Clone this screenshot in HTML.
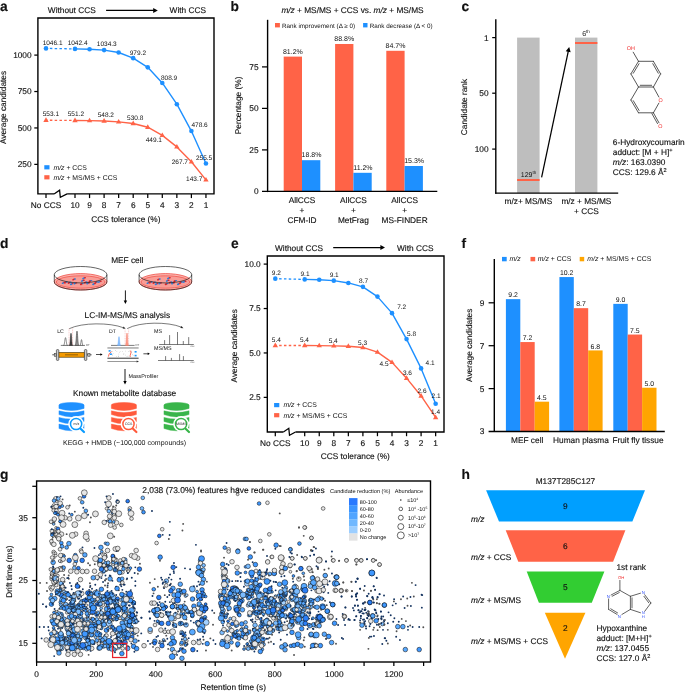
<!DOCTYPE html>
<html lang="en">
<head>
<meta charset="utf-8">
<title>Figure: CCS-assisted metabolite annotation</title>
<style>
html,body{margin:0;padding:0;background:#fff;}
body{width:685px;height:692px;overflow:hidden;}
svg{display:block;font-family:"Liberation Sans",Arial,Helvetica,sans-serif;fill:#111;}
svg text{white-space:pre;text-rendering:geometricPrecision;stroke:#111;stroke-width:0.14px;stroke-linejoin:round;}
svg text[fill],svg text.sm{stroke:none;}
</style>
</head>
<body>
<svg width="685" height="692" viewBox="0 0 685 692">
<rect x="0" y="0" width="685" height="692" fill="#fff"/>
<text x="0" y="10.6" font-size="13.8" font-weight="bold">a</text><line x1="46" y1="48.38" x2="75" y2="48.92" stroke="#1E90FF" stroke-width="1.3" stroke-dasharray="2.5 2.3" stroke-dashoffset="0.95"/>
<polyline points="75,48.92 89.55,49.27 104.1,50.1 118.65,52.48 133.2,58.13 147.75,67.34 162.3,82.94 176.85,104.2 191.4,131.07 205.95,163.57" fill="none" stroke="#1E90FF" stroke-width="1.4" stroke-linejoin="round"/>
<circle cx="46" cy="48.38" r="2.3" fill="#1E90FF"/>
<circle cx="75" cy="48.92" r="2.3" fill="#1E90FF"/>
<circle cx="89.55" cy="49.27" r="2.3" fill="#1E90FF"/>
<circle cx="104.1" cy="50.1" r="2.3" fill="#1E90FF"/>
<circle cx="118.65" cy="52.48" r="2.3" fill="#1E90FF"/>
<circle cx="133.2" cy="58.13" r="2.3" fill="#1E90FF"/>
<circle cx="147.75" cy="67.34" r="2.3" fill="#1E90FF"/>
<circle cx="162.3" cy="82.94" r="2.3" fill="#1E90FF"/>
<circle cx="176.85" cy="104.2" r="2.3" fill="#1E90FF"/>
<circle cx="191.4" cy="131.07" r="2.3" fill="#1E90FF"/>
<circle cx="205.95" cy="163.57" r="2.3" fill="#1E90FF"/>
<line x1="46" y1="120.21" x2="75" y2="120.49" stroke="#FF6347" stroke-width="1.3" stroke-dasharray="2.5 2.3" stroke-dashoffset="0.95"/>
<polyline points="75,120.49 89.55,120.66 104.1,120.93 118.65,121.83 133.2,123.46 147.75,127.22 162.3,135.37 176.85,146.89 191.4,161.8 205.95,179.86" fill="none" stroke="#FF6347" stroke-width="1.4" stroke-linejoin="round"/>
<polygon points="46,117.31 43.3,121.91 48.7,121.91" fill="#FF6347"/>
<polygon points="75,117.59 72.3,122.19 77.7,122.19" fill="#FF6347"/>
<polygon points="89.55,117.76 86.85,122.36 92.25,122.36" fill="#FF6347"/>
<polygon points="104.1,118.03 101.4,122.63 106.8,122.63" fill="#FF6347"/>
<polygon points="118.65,118.93 115.95,123.53 121.35,123.53" fill="#FF6347"/>
<polygon points="133.2,120.56 130.5,125.16 135.9,125.16" fill="#FF6347"/>
<polygon points="147.75,124.32 145.05,128.92 150.45,128.92" fill="#FF6347"/>
<polygon points="162.3,132.47 159.6,137.07 165,137.07" fill="#FF6347"/>
<polygon points="176.85,143.99 174.15,148.59 179.55,148.59" fill="#FF6347"/>
<polygon points="191.4,158.9 188.7,163.5 194.1,163.5" fill="#FF6347"/>
<polygon points="205.95,176.96 203.25,181.56 208.65,181.56" fill="#FF6347"/>
<path d="M37.3 193.9 H54.1 M67.1 193.9 H214 V18 H37.9 V194.5" fill="none" stroke="#000" stroke-width="1.4" stroke-linejoin="miter"/>
<path d="M54.1 193.9 L59.6 190.2 L60.3 197.2 L67.1 193.9" fill="none" stroke="#000" stroke-width="1.25" stroke-linejoin="miter"/>
<line x1="34.3" y1="55.1" x2="37.9" y2="55.1" stroke="#000" stroke-width="1.25"/>
<text x="31.6" y="58.05" font-size="8.3" text-anchor="end">1000</text>
<line x1="34.3" y1="91.53" x2="37.9" y2="91.53" stroke="#000" stroke-width="1.25"/>
<text x="31.6" y="94.48" font-size="8.3" text-anchor="end">750</text>
<line x1="34.3" y1="127.95" x2="37.9" y2="127.95" stroke="#000" stroke-width="1.25"/>
<text x="31.6" y="130.9" font-size="8.3" text-anchor="end">500</text>
<line x1="34.3" y1="164.38" x2="37.9" y2="164.38" stroke="#000" stroke-width="1.25"/>
<text x="31.6" y="167.32" font-size="8.3" text-anchor="end">250</text>
<line x1="46" y1="193.9" x2="46" y2="198.1" stroke="#000" stroke-width="1.25"/>
<text x="46" y="207.7" font-size="8.3" text-anchor="middle">No CCS</text>
<line x1="75" y1="193.9" x2="75" y2="198.1" stroke="#000" stroke-width="1.25"/>
<text x="75" y="207.7" font-size="8.3" text-anchor="middle">10</text>
<line x1="89.55" y1="193.9" x2="89.55" y2="198.1" stroke="#000" stroke-width="1.25"/>
<text x="89.55" y="207.7" font-size="8.3" text-anchor="middle">9</text>
<line x1="104.1" y1="193.9" x2="104.1" y2="198.1" stroke="#000" stroke-width="1.25"/>
<text x="104.1" y="207.7" font-size="8.3" text-anchor="middle">8</text>
<line x1="118.65" y1="193.9" x2="118.65" y2="198.1" stroke="#000" stroke-width="1.25"/>
<text x="118.65" y="207.7" font-size="8.3" text-anchor="middle">7</text>
<line x1="133.2" y1="193.9" x2="133.2" y2="198.1" stroke="#000" stroke-width="1.25"/>
<text x="133.2" y="207.7" font-size="8.3" text-anchor="middle">6</text>
<line x1="147.75" y1="193.9" x2="147.75" y2="198.1" stroke="#000" stroke-width="1.25"/>
<text x="147.75" y="207.7" font-size="8.3" text-anchor="middle">5</text>
<line x1="162.3" y1="193.9" x2="162.3" y2="198.1" stroke="#000" stroke-width="1.25"/>
<text x="162.3" y="207.7" font-size="8.3" text-anchor="middle">4</text>
<line x1="176.85" y1="193.9" x2="176.85" y2="198.1" stroke="#000" stroke-width="1.25"/>
<text x="176.85" y="207.7" font-size="8.3" text-anchor="middle">3</text>
<line x1="191.4" y1="193.9" x2="191.4" y2="198.1" stroke="#000" stroke-width="1.25"/>
<text x="191.4" y="207.7" font-size="8.3" text-anchor="middle">2</text>
<line x1="205.95" y1="193.9" x2="205.95" y2="198.1" stroke="#000" stroke-width="1.25"/>
<text x="205.95" y="207.7" font-size="8.3" text-anchor="middle">1</text>
<text x="52.6" y="44.5" font-size="6.5" text-anchor="middle" class="sm">1046.1</text>
<text x="77.6" y="45" font-size="6.5" text-anchor="middle" class="sm">1042.4</text>
<text x="106.8" y="45.8" font-size="6.5" text-anchor="middle" class="sm">1034.3</text>
<text x="137.9" y="55.4" font-size="6.5" text-anchor="middle" class="sm">979.2</text>
<text x="169.1" y="80.1" font-size="6.5" text-anchor="middle" class="sm">808.9</text>
<text x="199.6" y="126.8" font-size="6.5" text-anchor="middle" class="sm">478.6</text>
<text x="204.1" y="160" font-size="6.5" text-anchor="middle" class="sm">255.5</text>
<text x="50.9" y="115.8" font-size="6.5" text-anchor="middle" class="sm">553.1</text>
<text x="75.9" y="115.8" font-size="6.5" text-anchor="middle" class="sm">551.2</text>
<text x="105.8" y="116.9" font-size="6.5" text-anchor="middle" class="sm">548.2</text>
<text x="135.2" y="120.3" font-size="6.5" text-anchor="middle" class="sm">530.8</text>
<text x="153.8" y="141.9" font-size="6.5" text-anchor="middle" class="sm">449.1</text>
<text x="179.8" y="163.7" font-size="6.5" text-anchor="middle" class="sm">267.7</text>
<text x="194.2" y="180.8" font-size="6.5" text-anchor="middle" class="sm">143.7</text>
<text x="47.8" y="13.1" font-size="8.3">Without CCS</text>
<text x="169.6" y="13.1" font-size="8.3">With CCS</text>
<line x1="106.1" y1="10.4" x2="155.04" y2="10.4" stroke="#000" stroke-width="1.1"/><polygon points="157.8,10.4 153.2,7.9 153.2,12.9" fill="#000"/>
<rect x="44.3" y="165.2" width="5.2" height="4.2" fill="#1E90FF"/>
<text x="53.4" y="169.6" font-size="6.9" class="sm"><tspan font-style="italic">m/z</tspan> + CCS</text>
<rect x="44.3" y="175.2" width="5.2" height="4.2" fill="#FF6347"/>
<text x="53.4" y="179.6" font-size="6.9" class="sm"><tspan font-style="italic">m/z</tspan> + MS/MS + CCS</text>
<text x="125.9" y="221.6" font-size="8.3" text-anchor="middle">CCS tolerance (%)</text>
<text x="6.3" y="107.5" font-size="8.3" text-anchor="middle" transform="rotate(-90 6.3 107.5)">Average candidates</text>
<text x="230.5" y="10.6" font-size="13.8" font-weight="bold">b</text>
<rect x="283.7" y="56.61" width="18.3" height="134.79" fill="#FF6347"/>
<rect x="302" y="160.19" width="18.3" height="31.21" fill="#1E90FF"/>
<text x="292.85" y="53.81" font-size="7" text-anchor="middle" class="sm">81.2%</text>
<text x="311.55" y="157.39" font-size="7" text-anchor="middle" class="sm">18.8%</text>
<text x="302" y="202.9" font-size="8.3" text-anchor="middle">AllCCS</text>
<text x="302" y="213" font-size="8.3" text-anchor="middle">+</text>
<text x="302" y="223" font-size="8.3" text-anchor="middle">CFM-ID</text>
<rect x="335.1" y="43.99" width="18.3" height="147.41" fill="#FF6347"/>
<rect x="353.4" y="172.81" width="18.3" height="18.59" fill="#1E90FF"/>
<text x="344.25" y="41.19" font-size="7" text-anchor="middle" class="sm">88.8%</text>
<text x="362.95" y="170.01" font-size="7" text-anchor="middle" class="sm">11.2%</text>
<text x="353.4" y="202.9" font-size="8.3" text-anchor="middle">AllCCS</text>
<text x="353.4" y="213" font-size="8.3" text-anchor="middle">+</text>
<text x="353.4" y="223" font-size="8.3" text-anchor="middle">MetFrag</text>
<rect x="386.3" y="50.8" width="18.3" height="140.6" fill="#FF6347"/>
<rect x="404.6" y="166" width="18.3" height="25.4" fill="#1E90FF"/>
<text x="395.45" y="48" font-size="7" text-anchor="middle" class="sm">84.7%</text>
<text x="414.15" y="163.2" font-size="7" text-anchor="middle" class="sm">15.3%</text>
<text x="404.6" y="202.9" font-size="8.3" text-anchor="middle">AllCCS</text>
<text x="404.6" y="213" font-size="8.3" text-anchor="middle">+</text>
<text x="404.6" y="223" font-size="8.3" text-anchor="middle">MS-FINDER</text>
<line x1="267.6" y1="19.8" x2="267.6" y2="192.1" stroke="#000" stroke-width="1.4"/>
<line x1="262" y1="191.4" x2="437.3" y2="191.4" stroke="#000" stroke-width="1.4"/>
<line x1="262" y1="149.9" x2="267.6" y2="149.9" stroke="#000" stroke-width="1.25"/>
<line x1="262" y1="108.4" x2="267.6" y2="108.4" stroke="#000" stroke-width="1.25"/>
<line x1="262" y1="66.9" x2="267.6" y2="66.9" stroke="#000" stroke-width="1.25"/>
<text x="258.6" y="194.35" font-size="8.3" text-anchor="end">0</text>
<text x="258.6" y="152.85" font-size="8.3" text-anchor="end">25</text>
<text x="258.6" y="111.35" font-size="8.3" text-anchor="end">50</text>
<text x="258.6" y="69.85" font-size="8.3" text-anchor="end">75</text>
<text x="352.5" y="13.4" font-size="8.3" text-anchor="middle"><tspan font-style="italic">m/z</tspan> + MS/MS + CCS vs. <tspan font-style="italic">m/z</tspan> + MS/MS</text>
<rect x="275" y="23" width="4.9" height="4.4" fill="#FF6347"/>
<text x="282" y="27.6" font-size="6.3" class="sm">Rank improvement (Δ ≥ 0)</text>
<rect x="363.1" y="23" width="4.4" height="4.4" fill="#1E90FF"/>
<text x="369.8" y="27.6" font-size="6.3" class="sm">Rank decrease (Δ &lt; 0)</text>
<text x="241" y="105.4" font-size="8.3" text-anchor="middle" transform="rotate(-90 241 105.4)">Percentage (%)</text>
<text x="461.5" y="10.6" font-size="13.8" font-weight="bold">c</text>
<rect x="517.1" y="37.6" width="22.5" height="155.5" fill="#BEBEBE"/>
<rect x="575" y="37.6" width="22.4" height="155.5" fill="#BEBEBE"/>
<rect x="517.1" y="179" width="22.5" height="2" fill="#FF6347"/>
<rect x="575" y="42" width="22.4" height="2" fill="#FF6347"/>
<line x1="495.8" y1="19.3" x2="495.8" y2="193.8" stroke="#000" stroke-width="1.4"/>
<line x1="495.2" y1="193.1" x2="618.2" y2="193.1" stroke="#000" stroke-width="1.4"/>
<line x1="492.2" y1="37.6" x2="495.8" y2="37.6" stroke="#000" stroke-width="1.25"/>
<text x="488.6" y="40.55" font-size="8.3" text-anchor="end">1</text>
<line x1="492.2" y1="93.2" x2="495.8" y2="93.2" stroke="#000" stroke-width="1.25"/>
<text x="488.6" y="96.15" font-size="8.3" text-anchor="end">50</text>
<line x1="492.2" y1="149.1" x2="495.8" y2="149.1" stroke="#000" stroke-width="1.25"/>
<text x="488.6" y="152.05" font-size="8.3" text-anchor="end">100</text>
<text x="467" y="107" font-size="8.3" text-anchor="middle" transform="rotate(-90 467 107)">Candidate rank</text>
<text x="528.4" y="204" font-size="8.3" text-anchor="middle">m/z+ MS/MS</text>
<text x="586.4" y="204" font-size="8.3" text-anchor="middle">m/z + MS/MS</text>
<text x="586.4" y="214" font-size="8.3" text-anchor="middle">+ CCS</text>
<text x="528.6" y="176.8" font-size="7" text-anchor="middle" class="sm">129<tspan font-size="4.6" dy="-2.8">th</tspan></text>
<text x="586" y="36.1" font-size="7" text-anchor="middle" class="sm">6<tspan font-size="4.6" dy="-2.8">th</tspan></text>
<line x1="541.6" y1="177.3" x2="568.58" y2="49.93" stroke="#000" stroke-width="1.25"/>
<polygon points="569.2,47 570.65,52.21 565.76,51.18" fill="#000"/>
<line x1="638.5" y1="61.3" x2="653.4" y2="61.3" stroke="#3a3a3a" stroke-width="0.85" stroke-linecap="round"/>
<line x1="653.4" y1="61.3" x2="660.6" y2="73.9" stroke="#3a3a3a" stroke-width="0.85" stroke-linecap="round"/>
<line x1="660.6" y1="73.9" x2="653.4" y2="87" stroke="#3a3a3a" stroke-width="0.85" stroke-linecap="round"/>
<line x1="653.4" y1="87" x2="638.5" y2="87" stroke="#3a3a3a" stroke-width="0.85" stroke-linecap="round"/>
<line x1="638.5" y1="87" x2="630.9" y2="73.9" stroke="#3a3a3a" stroke-width="0.85" stroke-linecap="round"/>
<line x1="630.9" y1="73.9" x2="638.5" y2="61.3" stroke="#3a3a3a" stroke-width="0.85" stroke-linecap="round"/>
<line x1="638.5" y1="87" x2="630.9" y2="100" stroke="#3a3a3a" stroke-width="0.85" stroke-linecap="round"/>
<line x1="630.9" y1="100" x2="638.5" y2="112.8" stroke="#3a3a3a" stroke-width="0.85" stroke-linecap="round"/>
<line x1="638.5" y1="112.8" x2="653.4" y2="112.8" stroke="#3a3a3a" stroke-width="0.85" stroke-linecap="round"/>
<line x1="653.4" y1="87" x2="658.9" y2="97" stroke="#3a3a3a" stroke-width="0.85" stroke-linecap="round"/>
<line x1="658.9" y1="103.1" x2="653.4" y2="112.8" stroke="#3a3a3a" stroke-width="0.85" stroke-linecap="round"/>
<line x1="633.27" y1="73.27" x2="639.04" y2="63.69" stroke="#3a3a3a" stroke-width="0.85" stroke-linecap="round"/>
<line x1="652.79" y1="63.66" x2="658.26" y2="73.23" stroke="#3a3a3a" stroke-width="0.85" stroke-linecap="round"/>
<line x1="651.61" y1="85.3" x2="640.29" y2="85.3" stroke="#3a3a3a" stroke-width="0.85" stroke-linecap="round"/>
<line x1="633.27" y1="100.67" x2="639.05" y2="110.4" stroke="#3a3a3a" stroke-width="0.85" stroke-linecap="round"/>
<line x1="653.4" y1="112.8" x2="659" y2="122.8" stroke="#3a3a3a" stroke-width="0.85" stroke-linecap="round"/>
<line x1="651.9" y1="113.6" x2="657.5" y2="123.6" stroke="#3a3a3a" stroke-width="0.85" stroke-linecap="round"/>
<line x1="638.5" y1="61.3" x2="633.2" y2="52.2" stroke="#3a3a3a" stroke-width="0.85" stroke-linecap="round"/>
<text x="630.9" y="49.8" font-size="5.4" text-anchor="middle" fill="#F02A2A">OH</text>
<text x="660.7" y="102" font-size="5.4" text-anchor="middle" fill="#F02A2A">O</text>
<text x="660.3" y="127.9" font-size="5.4" text-anchor="middle" fill="#F02A2A">O</text>
<text x="612.8" y="144.9" font-size="8.3">6-Hydroxycoumarin</text>
<text x="612.8" y="155.3" font-size="8.3">adduct: [M + H]<tspan font-size="5.6" dy="-3.4">+</tspan></text>
<text x="612.8" y="165.4" font-size="8.3"><tspan font-style="italic">m/z</tspan>: 163.0390</text>
<text x="612.8" y="175.4" font-size="8.3">CCS: 129.6 Å<tspan font-size="5.6" dy="-3.4">2</tspan></text>
<text x="231" y="247.7" font-size="13.8" font-weight="bold">e</text><line x1="275.3" y1="278.67" x2="304.7" y2="279.38" stroke="#1E90FF" stroke-width="1.3" stroke-dasharray="2.5 2.3" stroke-dashoffset="0.95"/>
<polyline points="304.7,279.38 319.25,279.74 333.8,280.63 348.35,282.94 362.9,286.85 377.45,296.62 392,313.15 406.55,339.09 421.1,368.41 435.65,403.77" fill="none" stroke="#1E90FF" stroke-width="1.4" stroke-linejoin="round"/>
<circle cx="275.3" cy="278.67" r="2.3" fill="#1E90FF"/>
<circle cx="304.7" cy="279.38" r="2.3" fill="#1E90FF"/>
<circle cx="319.25" cy="279.74" r="2.3" fill="#1E90FF"/>
<circle cx="333.8" cy="280.63" r="2.3" fill="#1E90FF"/>
<circle cx="348.35" cy="282.94" r="2.3" fill="#1E90FF"/>
<circle cx="362.9" cy="286.85" r="2.3" fill="#1E90FF"/>
<circle cx="377.45" cy="296.62" r="2.3" fill="#1E90FF"/>
<circle cx="392" cy="313.15" r="2.3" fill="#1E90FF"/>
<circle cx="406.55" cy="339.09" r="2.3" fill="#1E90FF"/>
<circle cx="421.1" cy="368.41" r="2.3" fill="#1E90FF"/>
<circle cx="435.65" cy="403.77" r="2.3" fill="#1E90FF"/>
<line x1="275.3" y1="345.49" x2="304.7" y2="345.49" stroke="#FF6347" stroke-width="1.3" stroke-dasharray="2.5 2.3" stroke-dashoffset="0.95"/>
<polyline points="304.7,345.49 319.25,345.66 333.8,345.84 348.35,346.2 362.9,347.44 377.45,352.06 392,362.37 406.55,378.18 421.1,395.95 435.65,417.46" fill="none" stroke="#FF6347" stroke-width="1.4" stroke-linejoin="round"/>
<polygon points="275.3,342.59 272.6,347.19 278,347.19" fill="#FF6347"/>
<polygon points="304.7,342.59 302,347.19 307.4,347.19" fill="#FF6347"/>
<polygon points="319.25,342.76 316.55,347.36 321.95,347.36" fill="#FF6347"/>
<polygon points="333.8,342.94 331.1,347.54 336.5,347.54" fill="#FF6347"/>
<polygon points="348.35,343.3 345.65,347.9 351.05,347.9" fill="#FF6347"/>
<polygon points="362.9,344.54 360.2,349.14 365.6,349.14" fill="#FF6347"/>
<polygon points="377.45,349.16 374.75,353.76 380.15,353.76" fill="#FF6347"/>
<polygon points="392,359.47 389.3,364.07 394.7,364.07" fill="#FF6347"/>
<polygon points="406.55,375.28 403.85,379.88 409.25,379.88" fill="#FF6347"/>
<polygon points="421.1,393.05 418.4,397.65 423.8,397.65" fill="#FF6347"/>
<polygon points="435.65,414.56 432.95,419.16 438.35,419.16" fill="#FF6347"/>
<path d="M266.7 432 H283.4 M295.5 432 H444 V256 H267.3 V432.6" fill="none" stroke="#000" stroke-width="1.4" stroke-linejoin="miter"/>
<path d="M283.4 432 L288.8 428.3 L289.5 435.3 L295.5 432" fill="none" stroke="#000" stroke-width="1.25" stroke-linejoin="miter"/>
<line x1="263.7" y1="264.1" x2="267.3" y2="264.1" stroke="#000" stroke-width="1.25"/>
<text x="260.7" y="267.05" font-size="8.3" text-anchor="end">10.0</text>
<line x1="263.7" y1="308.53" x2="267.3" y2="308.53" stroke="#000" stroke-width="1.25"/>
<text x="260.7" y="311.48" font-size="8.3" text-anchor="end">7.5</text>
<line x1="263.7" y1="352.95" x2="267.3" y2="352.95" stroke="#000" stroke-width="1.25"/>
<text x="260.7" y="355.9" font-size="8.3" text-anchor="end">5.0</text>
<line x1="263.7" y1="397.38" x2="267.3" y2="397.38" stroke="#000" stroke-width="1.25"/>
<text x="260.7" y="400.32" font-size="8.3" text-anchor="end">2.5</text>
<line x1="275.3" y1="432" x2="275.3" y2="436.2" stroke="#000" stroke-width="1.25"/>
<text x="275.3" y="445.8" font-size="8.3" text-anchor="middle">No CCS</text>
<line x1="304.7" y1="432" x2="304.7" y2="436.2" stroke="#000" stroke-width="1.25"/>
<text x="304.7" y="445.8" font-size="8.3" text-anchor="middle">10</text>
<line x1="319.25" y1="432" x2="319.25" y2="436.2" stroke="#000" stroke-width="1.25"/>
<text x="319.25" y="445.8" font-size="8.3" text-anchor="middle">9</text>
<line x1="333.8" y1="432" x2="333.8" y2="436.2" stroke="#000" stroke-width="1.25"/>
<text x="333.8" y="445.8" font-size="8.3" text-anchor="middle">8</text>
<line x1="348.35" y1="432" x2="348.35" y2="436.2" stroke="#000" stroke-width="1.25"/>
<text x="348.35" y="445.8" font-size="8.3" text-anchor="middle">7</text>
<line x1="362.9" y1="432" x2="362.9" y2="436.2" stroke="#000" stroke-width="1.25"/>
<text x="362.9" y="445.8" font-size="8.3" text-anchor="middle">6</text>
<line x1="377.45" y1="432" x2="377.45" y2="436.2" stroke="#000" stroke-width="1.25"/>
<text x="377.45" y="445.8" font-size="8.3" text-anchor="middle">5</text>
<line x1="392" y1="432" x2="392" y2="436.2" stroke="#000" stroke-width="1.25"/>
<text x="392" y="445.8" font-size="8.3" text-anchor="middle">4</text>
<line x1="406.55" y1="432" x2="406.55" y2="436.2" stroke="#000" stroke-width="1.25"/>
<text x="406.55" y="445.8" font-size="8.3" text-anchor="middle">3</text>
<line x1="421.1" y1="432" x2="421.1" y2="436.2" stroke="#000" stroke-width="1.25"/>
<text x="421.1" y="445.8" font-size="8.3" text-anchor="middle">2</text>
<line x1="435.65" y1="432" x2="435.65" y2="436.2" stroke="#000" stroke-width="1.25"/>
<text x="435.65" y="445.8" font-size="8.3" text-anchor="middle">1</text>
<text x="276.3" y="275.3" font-size="6.5" text-anchor="middle" class="sm">9.2</text>
<text x="305" y="275.7" font-size="6.5" text-anchor="middle" class="sm">9.1</text>
<text x="334.2" y="277" font-size="6.5" text-anchor="middle" class="sm">9.1</text>
<text x="276.3" y="342" font-size="6.5" text-anchor="middle" class="sm">5.4</text>
<text x="304.4" y="342" font-size="6.5" text-anchor="middle" class="sm">5.4</text>
<text x="333.2" y="342.5" font-size="6.5" text-anchor="middle" class="sm">5.4</text>
<text x="363.6" y="282.9" font-size="6.5" text-anchor="middle" class="sm">8.7</text>
<text x="401.7" y="308.9" font-size="6.5" text-anchor="middle" class="sm">7.2</text>
<text x="411.5" y="336.3" font-size="6.5" text-anchor="middle" class="sm">5.8</text>
<text x="362.5" y="344.5" font-size="6.5" text-anchor="middle" class="sm">5.3</text>
<text x="384" y="366" font-size="6.5" text-anchor="middle" class="sm">4.5</text>
<text x="407.4" y="374.7" font-size="6.5" text-anchor="middle" class="sm">3.6</text>
<text x="422" y="392.5" font-size="6.5" text-anchor="middle" class="sm">2.6</text>
<text x="430.1" y="364.8" font-size="6.5" text-anchor="middle" class="sm">4.1</text>
<text x="436.1" y="397.9" font-size="6.5" text-anchor="middle" class="sm">2.1</text>
<text x="435.5" y="414.3" font-size="6.5" text-anchor="middle" class="sm">1.4</text>
<text x="275" y="250.5" font-size="8.3">Without CCS</text>
<text x="397" y="250.5" font-size="8.3">With CCS</text>
<line x1="333.2" y1="247.6" x2="382.24" y2="247.6" stroke="#000" stroke-width="1.1"/><polygon points="385,247.6 380.4,245.1 380.4,250.1" fill="#000"/>
<rect x="274.1" y="403" width="5.2" height="4.2" fill="#1E90FF"/>
<text x="283.4" y="407.4" font-size="6.9" class="sm"><tspan font-style="italic">m/z</tspan> + CCS</text>
<rect x="274.1" y="413.1" width="5.2" height="4.2" fill="#FF6347"/>
<text x="283.4" y="417.5" font-size="6.9" class="sm"><tspan font-style="italic">m/z</tspan> + MS/MS + CCS</text>
<text x="355.3" y="459" font-size="8.3" text-anchor="middle">CCS tolerance (%)</text>
<text x="236.6" y="345.8" font-size="8.3" text-anchor="middle" transform="rotate(-90 236.6 345.8)">Average candidates</text>
<text x="0" y="247.7" font-size="13.8" font-weight="bold">d</text>
<text x="127.3" y="262.6" font-size="8.3" text-anchor="middle">MEF cell</text>
<ellipse cx="80.6" cy="281.8" rx="26.3" ry="8.2" fill="#FBB6B0" stroke="#EE3B32" stroke-width="0.7"/>
<ellipse cx="80.6" cy="282" rx="24.4" ry="6.2" fill="#F89D96" stroke="#EE3B32" stroke-width="0.6"/>
<ellipse cx="63.1" cy="283" rx="1.5" ry="0.9" fill="#2F7FD8" transform="rotate(-25 63.1 283)"/>
<ellipse cx="64.5" cy="282.5" rx="1.1" ry="0.7" fill="#D8232A"/>
<ellipse cx="65.4" cy="282.5" rx="1.5" ry="0.9" fill="#D8232A" transform="rotate(-25 65.4 282.5)"/>
<ellipse cx="66.8" cy="282" rx="1.1" ry="0.7" fill="#2F7FD8"/>
<ellipse cx="71.3" cy="284.1" rx="1.5" ry="0.9" fill="#2F7FD8" transform="rotate(-25 71.3 284.1)"/>
<ellipse cx="72.7" cy="283.6" rx="1.1" ry="0.7" fill="#D8232A"/>
<ellipse cx="73.6" cy="279.5" rx="1.5" ry="0.9" fill="#D8232A" transform="rotate(-25 73.6 279.5)"/>
<ellipse cx="75" cy="279" rx="1.1" ry="0.7" fill="#2F7FD8"/>
<ellipse cx="74.8" cy="283.4" rx="1.5" ry="0.9" fill="#2F7FD8" transform="rotate(-25 74.8 283.4)"/>
<ellipse cx="76.2" cy="282.9" rx="1.1" ry="0.7" fill="#D8232A"/>
<ellipse cx="81.3" cy="284.1" rx="1.5" ry="0.9" fill="#D8232A" transform="rotate(-25 81.3 284.1)"/>
<ellipse cx="82.7" cy="283.6" rx="1.1" ry="0.7" fill="#2F7FD8"/>
<ellipse cx="83.6" cy="278.3" rx="1.5" ry="0.9" fill="#2F7FD8" transform="rotate(-25 83.6 278.3)"/>
<ellipse cx="85" cy="277.8" rx="1.1" ry="0.7" fill="#D8232A"/>
<ellipse cx="85.3" cy="282.5" rx="1.5" ry="0.9" fill="#D8232A" transform="rotate(-25 85.3 282.5)"/>
<ellipse cx="86.7" cy="282" rx="1.1" ry="0.7" fill="#2F7FD8"/>
<ellipse cx="87.6" cy="283.4" rx="1.5" ry="0.9" fill="#2F7FD8" transform="rotate(-25 87.6 283.4)"/>
<ellipse cx="89" cy="282.9" rx="1.1" ry="0.7" fill="#D8232A"/>
<ellipse cx="89.9" cy="281.1" rx="1.5" ry="0.9" fill="#D8232A" transform="rotate(-25 89.9 281.1)"/>
<ellipse cx="91.3" cy="280.6" rx="1.1" ry="0.7" fill="#2F7FD8"/>
<ellipse cx="93.5" cy="284.1" rx="1.5" ry="0.9" fill="#2F7FD8" transform="rotate(-25 93.5 284.1)"/>
<ellipse cx="94.9" cy="283.6" rx="1.1" ry="0.7" fill="#D8232A"/>
<ellipse cx="95.8" cy="282.5" rx="1.5" ry="0.9" fill="#D8232A" transform="rotate(-25 95.8 282.5)"/>
<ellipse cx="97.2" cy="282" rx="1.1" ry="0.7" fill="#2F7FD8"/>
<ellipse cx="99.3" cy="281.8" rx="1.5" ry="0.9" fill="#2F7FD8" transform="rotate(-25 99.3 281.8)"/>
<ellipse cx="100.7" cy="281.3" rx="1.1" ry="0.7" fill="#D8232A"/>
<ellipse cx="69.1" cy="282.8" rx="1.5" ry="0.9" fill="#D8232A" transform="rotate(-25 69.1 282.8)"/>
<ellipse cx="70.5" cy="282.3" rx="1.1" ry="0.7" fill="#2F7FD8"/>
<ellipse cx="82.4" cy="280.8" rx="1.5" ry="0.9" fill="#2F7FD8" transform="rotate(-25 82.4 280.8)"/>
<ellipse cx="83.8" cy="280.3" rx="1.1" ry="0.7" fill="#D8232A"/>
<ellipse cx="80.6" cy="274.7" rx="26.3" ry="8.2" fill="none" stroke="#222" stroke-width="0.7"/>
<line x1="54.3" y1="274.7" x2="54.3" y2="281.8" stroke="#222" stroke-width="0.7"/>
<line x1="106.9" y1="274.7" x2="106.9" y2="281.8" stroke="#222" stroke-width="0.7"/>
<path d="M54.3 281.8 A26.3 8.2 0 0 0 106.9 281.8" fill="none" stroke="#222" stroke-width="0.7"/>
<ellipse cx="165.4" cy="281.8" rx="26.3" ry="8.2" fill="#FBB6B0" stroke="#EE3B32" stroke-width="0.7"/>
<ellipse cx="165.4" cy="282" rx="24.4" ry="6.2" fill="#F89D96" stroke="#EE3B32" stroke-width="0.6"/>
<ellipse cx="147.9" cy="283" rx="1.5" ry="0.9" fill="#2F7FD8" transform="rotate(-25 147.9 283)"/>
<ellipse cx="149.3" cy="282.5" rx="1.1" ry="0.7" fill="#D8232A"/>
<ellipse cx="150.2" cy="282.5" rx="1.5" ry="0.9" fill="#D8232A" transform="rotate(-25 150.2 282.5)"/>
<ellipse cx="151.6" cy="282" rx="1.1" ry="0.7" fill="#2F7FD8"/>
<ellipse cx="156.1" cy="284.1" rx="1.5" ry="0.9" fill="#2F7FD8" transform="rotate(-25 156.1 284.1)"/>
<ellipse cx="157.5" cy="283.6" rx="1.1" ry="0.7" fill="#D8232A"/>
<ellipse cx="158.4" cy="279.5" rx="1.5" ry="0.9" fill="#D8232A" transform="rotate(-25 158.4 279.5)"/>
<ellipse cx="159.8" cy="279" rx="1.1" ry="0.7" fill="#2F7FD8"/>
<ellipse cx="159.6" cy="283.4" rx="1.5" ry="0.9" fill="#2F7FD8" transform="rotate(-25 159.6 283.4)"/>
<ellipse cx="161" cy="282.9" rx="1.1" ry="0.7" fill="#D8232A"/>
<ellipse cx="166.1" cy="284.1" rx="1.5" ry="0.9" fill="#D8232A" transform="rotate(-25 166.1 284.1)"/>
<ellipse cx="167.5" cy="283.6" rx="1.1" ry="0.7" fill="#2F7FD8"/>
<ellipse cx="168.4" cy="278.3" rx="1.5" ry="0.9" fill="#2F7FD8" transform="rotate(-25 168.4 278.3)"/>
<ellipse cx="169.8" cy="277.8" rx="1.1" ry="0.7" fill="#D8232A"/>
<ellipse cx="170.1" cy="282.5" rx="1.5" ry="0.9" fill="#D8232A" transform="rotate(-25 170.1 282.5)"/>
<ellipse cx="171.5" cy="282" rx="1.1" ry="0.7" fill="#2F7FD8"/>
<ellipse cx="172.4" cy="283.4" rx="1.5" ry="0.9" fill="#2F7FD8" transform="rotate(-25 172.4 283.4)"/>
<ellipse cx="173.8" cy="282.9" rx="1.1" ry="0.7" fill="#D8232A"/>
<ellipse cx="174.7" cy="281.1" rx="1.5" ry="0.9" fill="#D8232A" transform="rotate(-25 174.7 281.1)"/>
<ellipse cx="176.1" cy="280.6" rx="1.1" ry="0.7" fill="#2F7FD8"/>
<ellipse cx="178.3" cy="284.1" rx="1.5" ry="0.9" fill="#2F7FD8" transform="rotate(-25 178.3 284.1)"/>
<ellipse cx="179.7" cy="283.6" rx="1.1" ry="0.7" fill="#D8232A"/>
<ellipse cx="180.6" cy="282.5" rx="1.5" ry="0.9" fill="#D8232A" transform="rotate(-25 180.6 282.5)"/>
<ellipse cx="182" cy="282" rx="1.1" ry="0.7" fill="#2F7FD8"/>
<ellipse cx="184.1" cy="281.8" rx="1.5" ry="0.9" fill="#2F7FD8" transform="rotate(-25 184.1 281.8)"/>
<ellipse cx="185.5" cy="281.3" rx="1.1" ry="0.7" fill="#D8232A"/>
<ellipse cx="153.9" cy="282.8" rx="1.5" ry="0.9" fill="#D8232A" transform="rotate(-25 153.9 282.8)"/>
<ellipse cx="155.3" cy="282.3" rx="1.1" ry="0.7" fill="#2F7FD8"/>
<ellipse cx="167.2" cy="280.8" rx="1.5" ry="0.9" fill="#2F7FD8" transform="rotate(-25 167.2 280.8)"/>
<ellipse cx="168.6" cy="280.3" rx="1.1" ry="0.7" fill="#D8232A"/>
<ellipse cx="165.4" cy="274.7" rx="26.3" ry="8.2" fill="none" stroke="#222" stroke-width="0.7"/>
<line x1="139.1" y1="274.7" x2="139.1" y2="281.8" stroke="#222" stroke-width="0.7"/>
<line x1="191.7" y1="274.7" x2="191.7" y2="281.8" stroke="#222" stroke-width="0.7"/>
<path d="M139.1 281.8 A26.3 8.2 0 0 0 191.7 281.8" fill="none" stroke="#222" stroke-width="0.7"/>
<line x1="125.4" y1="290.4" x2="125.4" y2="301.84" stroke="#000" stroke-width="0.9"/><polygon points="125.4,304 123.7,300.4 127.1,300.4" fill="#000"/>
<text x="127.3" y="318.1" font-size="8.4" text-anchor="middle">LC-IM-MS/MS analysis</text>
<path d="M69.2 328.7 C82 322.4 110 322.4 123.6 327.8" fill="none" stroke="#222" stroke-width="0.6"/>
<polygon points="125.6,328.8 122.6,328.6 123.6,326.6" fill="#222"/>
<path d="M127.2 328.6 C140 321.6 168 321.6 181.5 327.2" fill="none" stroke="#222" stroke-width="0.6"/>
<polygon points="183.4,328.2 180.4,328 181.4,326" fill="#222"/>
<text x="57.2" y="332.5" font-size="5.2" class="sm">LC</text>
<line x1="60.8" y1="345.4" x2="85" y2="345.4" stroke="#222" stroke-width="0.6"/>
<path d="M63.6 345.4 C64.64 345.4 64.83 337.6 65.5 337.6 C66.17 337.6 66.36 345.4 67.4 345.4 Z" fill="#fff" stroke="#222" stroke-width="0.5"/>
<path d="M69.3 345.4 C70.23 345.4 70.41 333.2 71 333.2 C71.59 333.2 71.77 345.4 72.7 345.4 Z" fill="#444" stroke="#222" stroke-width="0.5"/>
<path d="M75.2 345.4 C76.19 345.4 76.37 331.1 77 331.1 C77.63 331.1 77.81 345.4 78.8 345.4 Z" fill="#999" stroke="#222" stroke-width="0.5"/>
<path d="M80 345.4 C80.83 345.4 80.97 339.6 81.5 339.6 C82.03 339.6 82.17 345.4 83 345.4 Z" fill="#fff" stroke="#222" stroke-width="0.5"/>
<line x1="69" y1="328.5" x2="69" y2="345.4" stroke="#F08080" stroke-width="0.4" stroke-dasharray="1 0.7"/>
<line x1="72.6" y1="328.5" x2="72.6" y2="345.4" stroke="#F08080" stroke-width="0.4" stroke-dasharray="1 0.7"/>
<text x="86" y="346.4" font-size="2.8" fill="#555">RT</text>
<line x1="52.3" y1="354.8" x2="57" y2="354.8" stroke="#555" stroke-width="1"/>
<line x1="87" y1="354.8" x2="91.6" y2="354.8" stroke="#555" stroke-width="1"/>
<rect x="54.4" y="353.3" width="2.2" height="3" fill="#bbb" stroke="#333" stroke-width="0.5"/>
<rect x="87.8" y="353.3" width="2.2" height="3" fill="#bbb" stroke="#333" stroke-width="0.5"/>
<rect x="58.6" y="352.5" width="26" height="4.7" fill="#F59A00" stroke="#3a2a00" stroke-width="0.6"/>
<rect x="65" y="354.4" width="13" height="0.9" fill="#8a5a00"/>
<rect x="56.4" y="349.6" width="2.4" height="10.8" fill="#ccc" stroke="#222" stroke-width="0.6" rx="0.8"/>
<rect x="84.4" y="349.6" width="2.4" height="10.8" fill="#ccc" stroke="#222" stroke-width="0.6" rx="0.8"/>
<line x1="96" y1="354.5" x2="101.28" y2="354.5" stroke="#000" stroke-width="0.7"/><polygon points="102.6,354.5 100.4,353.25 100.4,355.75" fill="#000"/>
<text x="108.9" y="332.5" font-size="5.2" class="sm">DT</text>
<line x1="111" y1="345.4" x2="134.6" y2="345.4" stroke="#222" stroke-width="0.6"/>
<path d="M117.4 345.4 C118.28 345.4 118.44 336.6 119 336.6 C119.56 336.6 119.72 345.4 120.6 345.4 Z" fill="#8CC2FF" stroke="#5AA0F5" stroke-width="0.4"/>
<path d="M125.5 345.4 C126.33 345.4 126.47 333 127 333 C127.53 333 127.67 345.4 128.5 345.4 Z" fill="#FFA090" stroke="#F0604A" stroke-width="0.4"/>
<line x1="125.1" y1="329.5" x2="125.1" y2="345.4" stroke="#F08080" stroke-width="0.4" stroke-dasharray="1 0.7"/>
<line x1="128.6" y1="329.5" x2="128.6" y2="345.4" stroke="#F08080" stroke-width="0.4" stroke-dasharray="1 0.7"/>
<text x="135.6" y="346" font-size="2.8" fill="#555">DT</text>
<rect x="107.4" y="347.3" width="31.2" height="1.3" fill="#9a9a9a"/>
<rect x="107.4" y="357.7" width="31.2" height="1" fill="#333"/>
<line x1="107.4" y1="361.5" x2="137.2" y2="361.5" stroke="#333" stroke-width="0.5"/>
<polygon points="139,361.5 136.6,360.5 136.6,362.5" fill="#333"/>
<rect x="108.6" y="350.1" width="2" height="1.6" fill="#1E9BFF"/>
<rect x="109.9" y="353.4" width="2" height="1.6" fill="#1E9BFF"/>
<rect x="134.6" y="351" width="2" height="1.6" fill="#1E9BFF"/>
<rect x="134.6" y="354.8" width="2" height="1.6" fill="#1E9BFF"/>
<path d="M111.6 351.6 Q108.4 353.4 108.4 356.6" fill="none" stroke="#FF5A45" stroke-width="0.9"/>
<path d="M130.4 350.6 Q131.6 352 130.6 354 Q129.8 355.6 130.4 356.8" fill="none" stroke="#FF5A45" stroke-width="0.9"/>
<circle cx="125.58" cy="354.95" r="0.28" fill="#777"/>
<circle cx="129.2" cy="356.23" r="0.28" fill="#777"/>
<circle cx="128.04" cy="356.1" r="0.28" fill="#777"/>
<circle cx="113.11" cy="353.18" r="0.28" fill="#777"/>
<circle cx="132.31" cy="354.35" r="0.28" fill="#777"/>
<circle cx="131.42" cy="350.92" r="0.28" fill="#777"/>
<circle cx="122.35" cy="351.78" r="0.28" fill="#777"/>
<circle cx="123.92" cy="353.87" r="0.28" fill="#777"/>
<circle cx="112.78" cy="351.59" r="0.28" fill="#777"/>
<circle cx="118.37" cy="356.06" r="0.28" fill="#777"/>
<circle cx="128.58" cy="351.22" r="0.28" fill="#777"/>
<circle cx="129.24" cy="351.09" r="0.28" fill="#777"/>
<circle cx="125.47" cy="351.01" r="0.28" fill="#777"/>
<circle cx="112.54" cy="355.78" r="0.28" fill="#777"/>
<circle cx="116.9" cy="351.58" r="0.28" fill="#777"/>
<circle cx="133.13" cy="355.78" r="0.28" fill="#777"/>
<circle cx="118.58" cy="356.35" r="0.28" fill="#777"/>
<circle cx="123.82" cy="354.54" r="0.28" fill="#777"/>
<circle cx="116.8" cy="356.22" r="0.28" fill="#777"/>
<circle cx="127" cy="356.39" r="0.28" fill="#777"/>
<circle cx="131.27" cy="352.11" r="0.28" fill="#777"/>
<circle cx="120.08" cy="351.26" r="0.28" fill="#777"/>
<circle cx="115.56" cy="350.62" r="0.28" fill="#777"/>
<circle cx="118.83" cy="354.06" r="0.28" fill="#777"/>
<circle cx="112.57" cy="354.54" r="0.28" fill="#777"/>
<circle cx="119.6" cy="352.18" r="0.28" fill="#777"/>
<line x1="143.4" y1="353.8" x2="148.58" y2="353.8" stroke="#000" stroke-width="0.7"/><polygon points="149.9,353.8 147.7,352.55 147.7,355.05" fill="#000"/>
<text x="153.9" y="332.8" font-size="5.4" class="sm">MS</text>
<line x1="159.1" y1="344.5" x2="193.8" y2="344.5" stroke="#222" stroke-width="0.6"/>
<line x1="164.6" y1="344.5" x2="164.6" y2="340.1" stroke="#222" stroke-width="0.6"/>
<line x1="169.6" y1="344.5" x2="169.6" y2="335.1" stroke="#222" stroke-width="0.6"/>
<line x1="177.5" y1="344.5" x2="177.5" y2="332" stroke="#222" stroke-width="0.6"/>
<line x1="183.3" y1="344.5" x2="183.3" y2="341" stroke="#222" stroke-width="0.6"/>
<line x1="188.7" y1="344.5" x2="188.7" y2="337.1" stroke="#222" stroke-width="0.6"/>
<text x="190.4" y="347.2" font-size="2.6" fill="#555">m/z</text>
<text x="153.9" y="350.3" font-size="5.4" class="sm">MS/MS</text>
<line x1="158" y1="360.5" x2="193.8" y2="360.5" stroke="#222" stroke-width="0.6"/>
<line x1="165.6" y1="360.5" x2="165.6" y2="356.1" stroke="#222" stroke-width="0.6"/>
<line x1="171.4" y1="360.5" x2="171.4" y2="357.9" stroke="#222" stroke-width="0.6"/>
<line x1="179.6" y1="360.5" x2="179.6" y2="354.1" stroke="#222" stroke-width="0.6"/>
<line x1="183.4" y1="360.5" x2="183.4" y2="356.1" stroke="#222" stroke-width="0.6"/>
<text x="190.4" y="363.2" font-size="2.6" fill="#555">m/z</text>
<line x1="125" y1="369" x2="125" y2="382.44" stroke="#000" stroke-width="0.9"/><polygon points="125,384.6 123.3,381 126.7,381" fill="#000"/>
<text x="128.4" y="377.8" font-size="5.4" class="sm">MassProfiler</text>
<text x="124.6" y="396" font-size="8.4" text-anchor="middle">Known metabolite database</text>
<path d="M58.95 405 A12.55 2.5 0 0 1 84.05 405 L84.05 408.4 Q71.5 412.6 58.95 408.4 Z" fill="#1E90FF" stroke="#1E90FF" stroke-width="0.5" stroke-linejoin="round"/>
<path d="M58.95 410.8 Q71.5 414.2 84.05 410.8 L84.05 414.6 Q71.5 419.2 58.95 414.6 Z" fill="#1E90FF" stroke="#1E90FF" stroke-width="0.4" stroke-linejoin="round"/>
<path d="M58.95 417.4 Q71.5 420.8 84.05 417.4 L84.05 421.5 Q71.5 426.1 58.95 421.5 Z" fill="#1E90FF" stroke="#1E90FF" stroke-width="0.4" stroke-linejoin="round"/>
<path d="M58.95 424.1 Q71.5 427.5 84.05 424.1 L84.05 428.5 Q71.5 433.1 58.95 428.5 Z" fill="#1E90FF" stroke="#1E90FF" stroke-width="0.4" stroke-linejoin="round"/>
<circle cx="76.1" cy="424" r="7.9" fill="#fff"/>
<line x1="80.1" y1="428.2" x2="84" y2="432" stroke="#fff" stroke-width="4.6" stroke-linecap="round"/>
<line x1="80.1" y1="428.2" x2="84" y2="432" stroke="#0A9BFF" stroke-width="2.2" stroke-linecap="round"/>
<circle cx="76.1" cy="424" r="5.6" fill="#fff" stroke="#0A9BFF" stroke-width="1.5"/>
<text x="76.3" y="425.3" font-size="3.6" text-anchor="middle" fill="#222">m/z</text>
<path d="M111.35 405 A12.55 2.5 0 0 1 136.45 405 L136.45 408.4 Q123.9 412.6 111.35 408.4 Z" fill="#FF5A3C" stroke="#FF5A3C" stroke-width="0.5" stroke-linejoin="round"/>
<path d="M111.35 410.8 Q123.9 414.2 136.45 410.8 L136.45 414.6 Q123.9 419.2 111.35 414.6 Z" fill="#FF5A3C" stroke="#FF5A3C" stroke-width="0.4" stroke-linejoin="round"/>
<path d="M111.35 417.4 Q123.9 420.8 136.45 417.4 L136.45 421.5 Q123.9 426.1 111.35 421.5 Z" fill="#FF5A3C" stroke="#FF5A3C" stroke-width="0.4" stroke-linejoin="round"/>
<path d="M111.35 424.1 Q123.9 427.5 136.45 424.1 L136.45 428.5 Q123.9 433.1 111.35 428.5 Z" fill="#FF5A3C" stroke="#FF5A3C" stroke-width="0.4" stroke-linejoin="round"/>
<circle cx="128.5" cy="424" r="7.9" fill="#fff"/>
<line x1="132.5" y1="428.2" x2="136.4" y2="432" stroke="#fff" stroke-width="4.6" stroke-linecap="round"/>
<line x1="132.5" y1="428.2" x2="136.4" y2="432" stroke="#FF5A3C" stroke-width="2.2" stroke-linecap="round"/>
<circle cx="128.5" cy="424" r="5.6" fill="#fff" stroke="#FF5A3C" stroke-width="1.5"/>
<text x="128.7" y="425.3" font-size="3.6" text-anchor="middle" fill="#222">CCS</text>
<path d="M163.95 405 A12.55 2.5 0 0 1 189.05 405 L189.05 408.4 Q176.5 412.6 163.95 408.4 Z" fill="#39B54A" stroke="#39B54A" stroke-width="0.5" stroke-linejoin="round"/>
<path d="M163.95 410.8 Q176.5 414.2 189.05 410.8 L189.05 414.6 Q176.5 419.2 163.95 414.6 Z" fill="#39B54A" stroke="#39B54A" stroke-width="0.4" stroke-linejoin="round"/>
<path d="M163.95 417.4 Q176.5 420.8 189.05 417.4 L189.05 421.5 Q176.5 426.1 163.95 421.5 Z" fill="#39B54A" stroke="#39B54A" stroke-width="0.4" stroke-linejoin="round"/>
<path d="M163.95 424.1 Q176.5 427.5 189.05 424.1 L189.05 428.5 Q176.5 433.1 163.95 428.5 Z" fill="#39B54A" stroke="#39B54A" stroke-width="0.4" stroke-linejoin="round"/>
<circle cx="181.1" cy="424" r="7.9" fill="#fff"/>
<line x1="185.1" y1="428.2" x2="189" y2="432" stroke="#fff" stroke-width="4.6" stroke-linecap="round"/>
<line x1="185.1" y1="428.2" x2="189" y2="432" stroke="#39B54A" stroke-width="2.2" stroke-linecap="round"/>
<circle cx="181.1" cy="424" r="5.6" fill="#fff" stroke="#39B54A" stroke-width="1.5"/>
<text x="181.3" y="425.3" font-size="3.6" text-anchor="middle" fill="#222">MSMS</text>
<text x="124.5" y="444.6" font-size="7" text-anchor="middle" class="sm">KEGG + HMDB (~100,000 compounds)</text>
<text x="461.5" y="247.7" font-size="13.8" font-weight="bold">f</text>
<rect x="505.9" y="299.15" width="14.4" height="132.35" fill="#1E90FF"/>
<text x="513.1" y="297.25" font-size="6.9" text-anchor="middle" class="sm">9.2</text>
<rect x="520.3" y="342.05" width="14.4" height="89.95" fill="#FF6347"/>
<text x="527.5" y="340.15" font-size="6.9" text-anchor="middle" class="sm">7.2</text>
<rect x="534.7" y="401.68" width="14.4" height="29.82" fill="#FFA500"/>
<text x="541.9" y="399.78" font-size="6.9" text-anchor="middle" class="sm">4.5</text>
<text x="527.2" y="442.9" font-size="8.3" text-anchor="middle">MEF cell</text>
<rect x="559.4" y="277.06" width="14.4" height="154.44" fill="#1E90FF"/>
<text x="566.6" y="275.16" font-size="6.9" text-anchor="middle" class="sm">10.2</text>
<rect x="573.8" y="308.16" width="14.4" height="123.84" fill="#FF6347"/>
<text x="581" y="306.26" font-size="6.9" text-anchor="middle" class="sm">8.7</text>
<rect x="588.2" y="350.42" width="14.4" height="81.08" fill="#FFA500"/>
<text x="595.4" y="348.52" font-size="6.9" text-anchor="middle" class="sm">6.8</text>
<text x="581" y="442.9" font-size="8.3" text-anchor="middle">Human plasma</text>
<rect x="613.3" y="303.87" width="14.4" height="127.63" fill="#1E90FF"/>
<text x="620.5" y="301.97" font-size="6.9" text-anchor="middle" class="sm">9.0</text>
<rect x="627.7" y="334.55" width="14.4" height="97.45" fill="#FF6347"/>
<text x="634.9" y="332.65" font-size="6.9" text-anchor="middle" class="sm">7.5</text>
<rect x="642.1" y="387.74" width="14.4" height="43.76" fill="#FFA500"/>
<text x="649.3" y="385.84" font-size="6.9" text-anchor="middle" class="sm">5.0</text>
<text x="638" y="442.9" font-size="8.3" text-anchor="middle">Fruit fly tissue</text>
<line x1="494.3" y1="258.9" x2="494.3" y2="432.1" stroke="#000" stroke-width="1.4"/>
<line x1="488.6" y1="431.5" x2="664.8" y2="431.5" stroke="#000" stroke-width="1.4"/>
<line x1="488.6" y1="388.6" x2="494.3" y2="388.6" stroke="#000" stroke-width="1.25"/>
<line x1="488.6" y1="345.7" x2="494.3" y2="345.7" stroke="#000" stroke-width="1.25"/>
<line x1="488.6" y1="302.8" x2="494.3" y2="302.8" stroke="#000" stroke-width="1.25"/>
<text x="484.4" y="434.45" font-size="8.3" text-anchor="end">3</text>
<text x="484.4" y="391.55" font-size="8.3" text-anchor="end">5</text>
<text x="484.4" y="348.65" font-size="8.3" text-anchor="end">7</text>
<text x="484.4" y="305.75" font-size="8.3" text-anchor="end">9</text>
<text x="471.6" y="345.3" font-size="8.3" text-anchor="middle" transform="rotate(-90 471.6 345.3)">Average candidates</text>
<rect x="502" y="256.9" width="4.7" height="4.4" fill="#1E90FF"/>
<text x="509.6" y="261.4" font-size="6.9" class="sm"><tspan font-style="italic">m/z</tspan></text>
<rect x="530.5" y="256.9" width="4.7" height="4.4" fill="#FF6347"/>
<text x="537.8" y="261.4" font-size="6.9" class="sm"><tspan font-style="italic">m/z</tspan> + CCS</text>
<rect x="579.7" y="256.9" width="4.5" height="4.4" fill="#FFA500"/>
<text x="587.3" y="261.4" font-size="6.9" class="sm"><tspan font-style="italic">m/z</tspan> + MS/MS + CCS</text>
<text x="0" y="478.8" font-size="13.8" font-weight="bold">g</text>
<g stroke="#000" stroke-width="0.5">
<circle cx="55.23" cy="531.96" r="1.4" fill="#E6E6E6"/>
<circle cx="53.67" cy="531.34" r="1.85" fill="#E6E6E6"/>
<circle cx="54.59" cy="534.98" r="1.4" fill="#E6E6E6"/>
<circle cx="52.86" cy="533.12" r="1.4" fill="#E6E6E6"/>
<circle cx="52.34" cy="507.21" r="1.4" fill="#E6E6E6"/>
<circle cx="51.1" cy="533.84" r="0.95" fill="#14335F" stroke="none"/>
<circle cx="53.13" cy="531.35" r="1.4" fill="#E6E6E6"/>
<circle cx="54.66" cy="506.82" r="1.85" fill="#E6E6E6"/>
<circle cx="53.33" cy="521.27" r="1.85" fill="#E6E6E6"/>
<circle cx="56.52" cy="512.89" r="1.85" fill="#E6E6E6"/>
<circle cx="54.16" cy="507.86" r="1.4" fill="#E6E6E6"/>
<circle cx="53.94" cy="505.5" r="1.85" fill="#E6E6E6"/>
<circle cx="57.16" cy="533.86" r="0.95" fill="#14335F" stroke="none"/>
<circle cx="51.59" cy="542.17" r="0.95" fill="#14335F" stroke="none"/>
<circle cx="54.39" cy="507.51" r="1.85" fill="#E6E6E6"/>
<circle cx="51.04" cy="521.75" r="1.85" fill="#E6E6E6"/>
<circle cx="53.71" cy="510.36" r="1.85" fill="#E6E6E6"/>
<circle cx="51.73" cy="543.52" r="1.4" fill="#E6E6E6"/>
<circle cx="56.53" cy="508.51" r="0.95" fill="#505050" stroke="none"/>
<circle cx="53.14" cy="533.6" r="0.95" fill="#14335F" stroke="none"/>
<circle cx="56.53" cy="501.22" r="1.4" fill="#E6E6E6"/>
<circle cx="57.59" cy="504.78" r="0.95" fill="#14335F" stroke="none"/>
<circle cx="56.35" cy="536" r="1.85" fill="#E6E6E6"/>
<circle cx="51.4" cy="506.71" r="0.95" fill="#14335F" stroke="none"/>
<circle cx="51.82" cy="530.94" r="1.85" fill="#E6E6E6"/>
<circle cx="53.43" cy="507.39" r="1.4" fill="#E6E6E6"/>
<circle cx="56.62" cy="534.63" r="1.85" fill="#E6E6E6"/>
<circle cx="56.86" cy="537.06" r="1.4" fill="#E6E6E6"/>
<circle cx="51.37" cy="541.21" r="1.85" fill="#E6E6E6"/>
<circle cx="54.77" cy="543.86" r="0.95" fill="#14335F" stroke="none"/>
<circle cx="55.92" cy="499.4" r="1.4" fill="#E6E6E6"/>
<circle cx="59.1" cy="539.16" r="1.85" fill="#E6E6E6"/>
<circle cx="51.97" cy="535.18" r="1.4" fill="#3F98FF"/>
<circle cx="56.71" cy="509.11" r="1.4" fill="#E6E6E6"/>
<circle cx="57.38" cy="498.42" r="0.95" fill="#14335F" stroke="none"/>
<circle cx="55.46" cy="498.4" r="1.85" fill="#E6E6E6"/>
<circle cx="56.1" cy="527.9" r="1.4" fill="#E6E6E6"/>
<circle cx="53.68" cy="523.95" r="1.4" fill="#7BBCFF"/>
<circle cx="56.75" cy="507.99" r="1.4" fill="#E6E6E6"/>
<circle cx="54.06" cy="500.62" r="1.85" fill="#58A9FF"/>
<circle cx="60.83" cy="586.96" r="1.4" fill="#E6E6E6"/>
<circle cx="55.96" cy="581.44" r="1.4" fill="#E6E6E6"/>
<circle cx="56.25" cy="585.07" r="1.85" fill="#E6E6E6"/>
<circle cx="62.97" cy="569.73" r="1.85" fill="#E6E6E6"/>
<circle cx="53.33" cy="567.54" r="0.95" fill="#14335F" stroke="none"/>
<circle cx="56.08" cy="578.98" r="1.4" fill="#E6E6E6"/>
<circle cx="53.13" cy="562.39" r="2.3" fill="#58A9FF"/>
<circle cx="59.94" cy="585.8" r="0.95" fill="#505050" stroke="none"/>
<circle cx="51.87" cy="575.49" r="0.95" fill="#14335F" stroke="none"/>
<circle cx="53.93" cy="583.25" r="1.85" fill="#E6E6E6"/>
<circle cx="54.2" cy="570.4" r="2.3" fill="#E6E6E6"/>
<circle cx="51.66" cy="578.93" r="1.85" fill="#E6E6E6"/>
<circle cx="53.51" cy="574.36" r="0.95" fill="#505050" stroke="none"/>
<circle cx="61.53" cy="588.2" r="1.4" fill="#E6E6E6"/>
<circle cx="52.68" cy="577.21" r="1.85" fill="#E6E6E6"/>
<circle cx="50.8" cy="577.31" r="0.95" fill="#14335F" stroke="none"/>
<circle cx="62.43" cy="566.47" r="0.95" fill="#14335F" stroke="none"/>
<circle cx="53.64" cy="552" r="1.85" fill="#E6E6E6"/>
<circle cx="54.14" cy="574.61" r="1.85" fill="#E6E6E6"/>
<circle cx="62.88" cy="586.54" r="1.85" fill="#E6E6E6"/>
<circle cx="60.67" cy="586.33" r="1.4" fill="#E6E6E6"/>
<circle cx="53.56" cy="553.31" r="1.4" fill="#E6E6E6"/>
<circle cx="55.15" cy="582.22" r="1.85" fill="#E6E6E6"/>
<circle cx="59.56" cy="569.5" r="1.4" fill="#E6E6E6"/>
<circle cx="53.64" cy="576.5" r="1.4" fill="#E6E6E6"/>
<circle cx="51.88" cy="574.48" r="1.4" fill="#E6E6E6"/>
<circle cx="61.2" cy="561.44" r="1.4" fill="#E6E6E6"/>
<circle cx="53.94" cy="581.88" r="2.3" fill="#E6E6E6"/>
<circle cx="53.07" cy="566.53" r="0.95" fill="#14335F" stroke="none"/>
<circle cx="62.73" cy="555.99" r="2.3" fill="#E6E6E6"/>
<circle cx="51.96" cy="574.37" r="1.4" fill="#E6E6E6"/>
<circle cx="63.65" cy="567.61" r="1.85" fill="#58A9FF"/>
<circle cx="61.17" cy="583.52" r="2.3" fill="#7BBCFF"/>
<circle cx="61.53" cy="589.28" r="2.3" fill="#E6E6E6"/>
<circle cx="60.5" cy="588.84" r="1.4" fill="#E6E6E6"/>
<circle cx="56.92" cy="580.9" r="1.85" fill="#E6E6E6"/>
<circle cx="53.33" cy="572.37" r="1.85" fill="#2B7EF5"/>
<circle cx="62.66" cy="579.62" r="2.3" fill="#E6E6E6"/>
<circle cx="61.12" cy="585.39" r="0.95" fill="#14335F" stroke="none"/>
<circle cx="53.72" cy="571.64" r="1.85" fill="#E6E6E6"/>
<circle cx="51.06" cy="587.67" r="2.3" fill="#E6E6E6"/>
<circle cx="51.57" cy="589.39" r="1.85" fill="#E6E6E6"/>
<circle cx="60.75" cy="568.33" r="1.85" fill="#E6E6E6"/>
<circle cx="51.96" cy="573.56" r="1.85" fill="#E6E6E6"/>
<circle cx="55.45" cy="553.32" r="1.4" fill="#E6E6E6"/>
<circle cx="56.71" cy="582.35" r="0.95" fill="#14335F" stroke="none"/>
<circle cx="62.6" cy="557.47" r="1.4" fill="#3F98FF"/>
<circle cx="62.94" cy="588.44" r="1.85" fill="#E6E6E6"/>
<circle cx="60.66" cy="555.46" r="2.3" fill="#E6E6E6"/>
<circle cx="53.77" cy="580.67" r="0.95" fill="#14335F" stroke="none"/>
<circle cx="63.96" cy="556.15" r="1.4" fill="#3F98FF"/>
<circle cx="63.19" cy="559.16" r="2.3" fill="#E6E6E6"/>
<circle cx="57.83" cy="575.59" r="1.4" fill="#E6E6E6"/>
<circle cx="59.73" cy="561.55" r="0.95" fill="#14335F" stroke="none"/>
<circle cx="51.92" cy="575.2" r="1.4" fill="#E6E6E6"/>
<circle cx="60.42" cy="589.72" r="1.4" fill="#3F98FF"/>
<circle cx="53.71" cy="557.92" r="1.4" fill="#E6E6E6"/>
<circle cx="50.87" cy="569.4" r="1.85" fill="#E6E6E6"/>
<circle cx="52.7" cy="587.52" r="1.85" fill="#E6E6E6"/>
<circle cx="59.71" cy="568.47" r="1.85" fill="#E6E6E6"/>
<circle cx="54.11" cy="571.16" r="1.85" fill="#58A9FF"/>
<circle cx="55.84" cy="555.57" r="1.4" fill="#E6E6E6"/>
<circle cx="60.83" cy="569.67" r="1.85" fill="#E6E6E6"/>
<circle cx="53.78" cy="575.33" r="0.95" fill="#505050" stroke="none"/>
<circle cx="58.49" cy="570.86" r="1.4" fill="#E6E6E6"/>
<circle cx="52.62" cy="561.31" r="0.95" fill="#505050" stroke="none"/>
<circle cx="56.15" cy="580.75" r="2.3" fill="#E6E6E6"/>
<circle cx="56.58" cy="571.58" r="1.85" fill="#E6E6E6"/>
<circle cx="62.73" cy="586.05" r="0.95" fill="#14335F" stroke="none"/>
<circle cx="63.01" cy="583.62" r="0.95" fill="#14335F" stroke="none"/>
<circle cx="55.74" cy="578.81" r="2.95" fill="#7BBCFF"/>
<circle cx="56.71" cy="570.08" r="0.95" fill="#505050" stroke="none"/>
<circle cx="55.26" cy="581.63" r="1.4" fill="#E6E6E6"/>
<circle cx="57.47" cy="578.84" r="1.4" fill="#E6E6E6"/>
<circle cx="53.2" cy="569.17" r="0.95" fill="#505050" stroke="none"/>
<circle cx="52.19" cy="557.54" r="1.85" fill="#E6E6E6"/>
<circle cx="57.28" cy="569.94" r="2.3" fill="#E6E6E6"/>
<circle cx="52.73" cy="579.13" r="0.95" fill="#14335F" stroke="none"/>
<circle cx="59.72" cy="560.99" r="1.4" fill="#E6E6E6"/>
<circle cx="51.17" cy="576.83" r="1.4" fill="#E6E6E6"/>
<circle cx="110.25" cy="521.07" r="0.95" fill="#14335F" stroke="none"/>
<circle cx="105.18" cy="502.19" r="0.95" fill="#14335F" stroke="none"/>
<circle cx="109.53" cy="519.59" r="1.85" fill="#E6E6E6"/>
<circle cx="108.47" cy="507.38" r="0.95" fill="#14335F" stroke="none"/>
<circle cx="113.37" cy="513.15" r="1.85" fill="#7BBCFF"/>
<circle cx="114.01" cy="512.97" r="2.3" fill="#58A9FF"/>
<circle cx="112.25" cy="510.79" r="1.4" fill="#E6E6E6"/>
<circle cx="116.51" cy="522.7" r="2.3" fill="#E6E6E6"/>
<circle cx="117.52" cy="501.63" r="1.85" fill="#3F98FF"/>
<circle cx="109.06" cy="521.34" r="1.4" fill="#E6E6E6"/>
<circle cx="115.17" cy="510.94" r="0.95" fill="#14335F" stroke="none"/>
<circle cx="114.08" cy="515.33" r="1.85" fill="#E6E6E6"/>
<circle cx="117.74" cy="501.84" r="1.4" fill="#E6E6E6"/>
<circle cx="108.37" cy="503.8" r="1.4" fill="#E6E6E6"/>
<circle cx="105.13" cy="567.34" r="1.4" fill="#E6E6E6"/>
<circle cx="106.09" cy="568.6" r="2.3" fill="#E6E6E6"/>
<circle cx="102.83" cy="567.24" r="2.3" fill="#7BBCFF"/>
<circle cx="112.71" cy="560.6" r="1.4" fill="#E6E6E6"/>
<circle cx="113.43" cy="563.23" r="2.3" fill="#E6E6E6"/>
<circle cx="98.58" cy="561.51" r="1.4" fill="#7BBCFF"/>
<circle cx="106.34" cy="565.64" r="2.3" fill="#E6E6E6"/>
<circle cx="128.04" cy="571.21" r="1.4" fill="#E6E6E6"/>
<circle cx="106.34" cy="569.63" r="1.85" fill="#E6E6E6"/>
<circle cx="113.81" cy="559.63" r="2.3" fill="#E6E6E6"/>
<circle cx="104.24" cy="563.76" r="1.4" fill="#E6E6E6"/>
<circle cx="128.27" cy="569.66" r="2.3" fill="#E6E6E6"/>
<circle cx="116.69" cy="563.92" r="2.3" fill="#58A9FF"/>
<circle cx="114.95" cy="559.74" r="2.3" fill="#E6E6E6"/>
<circle cx="116.11" cy="565.83" r="1.85" fill="#E6E6E6"/>
<circle cx="116.95" cy="568.97" r="0.95" fill="#14335F" stroke="none"/>
<circle cx="113.06" cy="556.28" r="1.85" fill="#E6E6E6"/>
<circle cx="107.01" cy="566.85" r="1.4" fill="#2B7EF5"/>
<circle cx="103.57" cy="571.41" r="1.85" fill="#3F98FF"/>
<circle cx="106.72" cy="565.73" r="0.95" fill="#14335F" stroke="none"/>
<circle cx="105.46" cy="568.9" r="2.3" fill="#E6E6E6"/>
<circle cx="104.36" cy="565.16" r="1.85" fill="#58A9FF"/>
<circle cx="127.82" cy="570.36" r="0.95" fill="#505050" stroke="none"/>
<circle cx="113.25" cy="556.57" r="0.95" fill="#505050" stroke="none"/>
<circle cx="113.1" cy="562.43" r="1.4" fill="#7BBCFF"/>
<circle cx="118.42" cy="571.1" r="1.4" fill="#E6E6E6"/>
<circle cx="98.2" cy="559.21" r="1.4" fill="#2B7EF5"/>
<circle cx="121.41" cy="564.09" r="2.3" fill="#E6E6E6"/>
<circle cx="115.23" cy="569.72" r="2.3" fill="#7BBCFF"/>
<circle cx="105.31" cy="565.67" r="0.95" fill="#14335F" stroke="none"/>
<circle cx="117.74" cy="563.18" r="0.95" fill="#14335F" stroke="none"/>
<circle cx="104.13" cy="565.32" r="1.85" fill="#E6E6E6"/>
<circle cx="124.82" cy="559.9" r="2.3" fill="#58A9FF"/>
<circle cx="109.58" cy="568.5" r="1.4" fill="#7BBCFF"/>
<circle cx="110.35" cy="567.18" r="1.85" fill="#58A9FF"/>
<circle cx="125.32" cy="562.05" r="1.85" fill="#E6E6E6"/>
<circle cx="109.58" cy="568.2" r="1.4" fill="#E6E6E6"/>
<circle cx="112.94" cy="556.81" r="1.85" fill="#58A9FF"/>
<circle cx="128.2" cy="571.2" r="1.4" fill="#E6E6E6"/>
<circle cx="117.57" cy="567.67" r="1.4" fill="#E6E6E6"/>
<circle cx="127.48" cy="567.68" r="0.95" fill="#14335F" stroke="none"/>
<circle cx="116.44" cy="551.01" r="0.95" fill="#14335F" stroke="none"/>
<circle cx="114.94" cy="569.98" r="1.4" fill="#3F98FF"/>
<circle cx="112.8" cy="555.93" r="1.85" fill="#2B7EF5"/>
<circle cx="108.15" cy="562.87" r="1.85" fill="#E6E6E6"/>
<circle cx="100.31" cy="553.66" r="0.95" fill="#14335F" stroke="none"/>
<circle cx="122.84" cy="566.44" r="0.95" fill="#14335F" stroke="none"/>
<circle cx="104.89" cy="565.25" r="1.85" fill="#7BBCFF"/>
<circle cx="117.94" cy="551.05" r="0.95" fill="#505050" stroke="none"/>
<circle cx="99.48" cy="563.35" r="1.85" fill="#E6E6E6"/>
<circle cx="116.58" cy="549.49" r="0.95" fill="#14335F" stroke="none"/>
<circle cx="104.47" cy="563.08" r="2.3" fill="#58A9FF"/>
<circle cx="104.03" cy="570.58" r="1.85" fill="#7BBCFF"/>
<circle cx="128.82" cy="565.01" r="0.95" fill="#14335F" stroke="none"/>
<circle cx="102.78" cy="561.27" r="1.85" fill="#E6E6E6"/>
<circle cx="122.45" cy="572.25" r="1.85" fill="#E6E6E6"/>
<circle cx="126.12" cy="565.56" r="2.3" fill="#E6E6E6"/>
<circle cx="120.01" cy="572.85" r="1.85" fill="#E6E6E6"/>
<circle cx="122.9" cy="561.78" r="1.4" fill="#E6E6E6"/>
<circle cx="108.13" cy="562.73" r="1.85" fill="#7BBCFF"/>
<circle cx="106.33" cy="568.88" r="1.85" fill="#E6E6E6"/>
<circle cx="116.65" cy="558.58" r="0.95" fill="#505050" stroke="none"/>
<circle cx="101.78" cy="551.61" r="1.4" fill="#58A9FF"/>
<circle cx="109.01" cy="565.36" r="0.95" fill="#14335F" stroke="none"/>
<circle cx="99.35" cy="561.51" r="1.4" fill="#58A9FF"/>
<circle cx="121.88" cy="561.17" r="1.85" fill="#7BBCFF"/>
<circle cx="120.37" cy="570.64" r="0.95" fill="#14335F" stroke="none"/>
<circle cx="115.4" cy="567.72" r="0.95" fill="#14335F" stroke="none"/>
<circle cx="123.26" cy="561.07" r="0.95" fill="#14335F" stroke="none"/>
<circle cx="106.52" cy="557.3" r="0.95" fill="#14335F" stroke="none"/>
<circle cx="110.21" cy="568.33" r="2.3" fill="#7BBCFF"/>
<circle cx="104.67" cy="555.36" r="1.85" fill="#3F98FF"/>
<circle cx="113.59" cy="559.02" r="1.85" fill="#E6E6E6"/>
<circle cx="105.24" cy="556.12" r="1.85" fill="#E6E6E6"/>
<circle cx="119.65" cy="572.51" r="2.3" fill="#58A9FF"/>
<circle cx="120.2" cy="560.55" r="1.85" fill="#E6E6E6"/>
<circle cx="100.64" cy="564.3" r="1.85" fill="#7BBCFF"/>
<circle cx="123.42" cy="568.86" r="1.85" fill="#58A9FF"/>
<circle cx="104.01" cy="555.15" r="2.3" fill="#E6E6E6"/>
<circle cx="130.38" cy="568.07" r="1.4" fill="#3F98FF"/>
<circle cx="106.01" cy="565.37" r="0.95" fill="#505050" stroke="none"/>
<circle cx="105.24" cy="554.81" r="1.4" fill="#E6E6E6"/>
<circle cx="122.14" cy="563.09" r="1.85" fill="#7BBCFF"/>
<circle cx="120.37" cy="564.03" r="0.95" fill="#505050" stroke="none"/>
<circle cx="123.42" cy="559.17" r="1.85" fill="#E6E6E6"/>
<circle cx="55.06" cy="617.62" r="0.95" fill="#505050" stroke="none"/>
<circle cx="109.47" cy="622.94" r="2.3" fill="#3F98FF"/>
<circle cx="110.53" cy="625.47" r="1.4" fill="#7BBCFF"/>
<circle cx="59.35" cy="615.24" r="1.85" fill="#E6E6E6"/>
<circle cx="105.19" cy="603.08" r="0.95" fill="#14335F" stroke="none"/>
<circle cx="106.38" cy="597.88" r="2.95" fill="#A3D1FF"/>
<circle cx="67.39" cy="638.83" r="1.4" fill="#7BBCFF"/>
<circle cx="113.34" cy="610.72" r="2.3" fill="#58A9FF"/>
<circle cx="61.02" cy="638.01" r="2.95" fill="#7BBCFF"/>
<circle cx="111.37" cy="619.19" r="1.85" fill="#3F98FF"/>
<circle cx="109.68" cy="618" r="1.4" fill="#7BBCFF"/>
<circle cx="87.45" cy="633.98" r="2.3" fill="#7BBCFF"/>
<circle cx="114.25" cy="610.44" r="0.95" fill="#14335F" stroke="none"/>
<circle cx="109.54" cy="618.79" r="2.3" fill="#58A9FF"/>
<circle cx="118.93" cy="608.1" r="2.3" fill="#E6E6E6"/>
<circle cx="71.57" cy="620.74" r="0.95" fill="#14335F" stroke="none"/>
<circle cx="109.98" cy="617.75" r="1.4" fill="#3F98FF"/>
<circle cx="67.02" cy="639.15" r="1.4" fill="#3F98FF"/>
<circle cx="106.12" cy="595.04" r="1.85" fill="#3F98FF"/>
<circle cx="115.16" cy="613.14" r="1.85" fill="#3F98FF"/>
<circle cx="112.35" cy="607.66" r="0.95" fill="#505050" stroke="none"/>
<circle cx="98.22" cy="623.75" r="0.95" fill="#505050" stroke="none"/>
<circle cx="107.04" cy="630.14" r="0.95" fill="#14335F" stroke="none"/>
<circle cx="93.19" cy="642.77" r="1.85" fill="#A3D1FF"/>
<circle cx="124.63" cy="610.25" r="0.95" fill="#505050" stroke="none"/>
<circle cx="67.76" cy="629.77" r="2.3" fill="#2B7EF5"/>
<circle cx="104.41" cy="615.16" r="0.95" fill="#14335F" stroke="none"/>
<circle cx="71.27" cy="621.55" r="1.4" fill="#58A9FF"/>
<circle cx="71.5" cy="623.91" r="2.3" fill="#E6E6E6"/>
<circle cx="66.28" cy="599.71" r="0.95" fill="#505050" stroke="none"/>
<circle cx="106.4" cy="630.27" r="2.3" fill="#3F98FF"/>
<circle cx="78.68" cy="604.93" r="1.85" fill="#A3D1FF"/>
<circle cx="122.68" cy="633.41" r="2.3" fill="#58A9FF"/>
<circle cx="111.16" cy="617.67" r="0.95" fill="#505050" stroke="none"/>
<circle cx="78.32" cy="607.77" r="1.85" fill="#3F98FF"/>
<circle cx="121.56" cy="632.89" r="2.3" fill="#E6E6E6"/>
<circle cx="75.19" cy="649.12" r="1.85" fill="#7BBCFF"/>
<circle cx="86.79" cy="625.04" r="2.3" fill="#E6E6E6"/>
<circle cx="61.52" cy="625.02" r="1.4" fill="#3F98FF"/>
<circle cx="59.47" cy="618.12" r="1.85" fill="#2B7EF5"/>
<circle cx="105.54" cy="635.97" r="1.85" fill="#58A9FF"/>
<circle cx="61.31" cy="649.96" r="0.95" fill="#14335F" stroke="none"/>
<circle cx="89.79" cy="601.42" r="0.95" fill="#14335F" stroke="none"/>
<circle cx="134.06" cy="633.13" r="1.85" fill="#7BBCFF"/>
<circle cx="108.24" cy="630.71" r="0.95" fill="#505050" stroke="none"/>
<circle cx="104.22" cy="615.15" r="1.85" fill="#7BBCFF"/>
<circle cx="113.46" cy="608.71" r="0.95" fill="#14335F" stroke="none"/>
<circle cx="60.57" cy="615.05" r="2.95" fill="#58A9FF"/>
<circle cx="66.56" cy="643.79" r="1.85" fill="#A3D1FF"/>
<circle cx="93.04" cy="625.28" r="0.95" fill="#505050" stroke="none"/>
<circle cx="61.21" cy="647.85" r="2.95" fill="#A3D1FF"/>
<circle cx="132.21" cy="616.74" r="1.85" fill="#3F98FF"/>
<circle cx="88.3" cy="640.57" r="2.3" fill="#58A9FF"/>
<circle cx="123.97" cy="622.54" r="0.95" fill="#14335F" stroke="none"/>
<circle cx="117.54" cy="609.36" r="0.95" fill="#14335F" stroke="none"/>
<circle cx="79.49" cy="606.42" r="2.95" fill="#2B7EF5"/>
<circle cx="84.48" cy="646.08" r="1.85" fill="#7BBCFF"/>
<circle cx="93.6" cy="613.48" r="0.95" fill="#14335F" stroke="none"/>
<circle cx="102.08" cy="617.02" r="1.85" fill="#58A9FF"/>
<circle cx="71.21" cy="622.22" r="1.85" fill="#58A9FF"/>
<circle cx="128.65" cy="624.52" r="1.85" fill="#3F98FF"/>
<circle cx="105.56" cy="613.87" r="1.85" fill="#7BBCFF"/>
<circle cx="125.79" cy="610.13" r="0.95" fill="#14335F" stroke="none"/>
<circle cx="111.21" cy="598.63" r="1.4" fill="#2B7EF5"/>
<circle cx="117.12" cy="640.39" r="0.95" fill="#505050" stroke="none"/>
<circle cx="103.9" cy="618.7" r="1.85" fill="#58A9FF"/>
<circle cx="124.68" cy="623.39" r="0.95" fill="#505050" stroke="none"/>
<circle cx="85.63" cy="634.09" r="1.85" fill="#A3D1FF"/>
<circle cx="78.95" cy="592.77" r="1.85" fill="#58A9FF"/>
<circle cx="129.56" cy="622.37" r="2.3" fill="#58A9FF"/>
<circle cx="121.55" cy="630.87" r="1.85" fill="#58A9FF"/>
<circle cx="102.13" cy="599.98" r="1.85" fill="#58A9FF"/>
<circle cx="54.08" cy="629.86" r="0.95" fill="#14335F" stroke="none"/>
<circle cx="127.38" cy="622.1" r="1.4" fill="#2B7EF5"/>
<circle cx="63.84" cy="592.52" r="2.3" fill="#A3D1FF"/>
<circle cx="79.72" cy="617.07" r="1.4" fill="#58A9FF"/>
<circle cx="86.68" cy="635.87" r="1.4" fill="#E6E6E6"/>
<circle cx="63.83" cy="619.82" r="2.95" fill="#7BBCFF"/>
<circle cx="104.3" cy="614.27" r="2.3" fill="#58A9FF"/>
<circle cx="117.18" cy="641.94" r="1.85" fill="#58A9FF"/>
<circle cx="100.35" cy="617.98" r="0.95" fill="#14335F" stroke="none"/>
<circle cx="106.86" cy="611.24" r="1.85" fill="#E6E6E6"/>
<circle cx="85.08" cy="628.95" r="2.3" fill="#7BBCFF"/>
<circle cx="77.95" cy="643.15" r="2.95" fill="#A3D1FF"/>
<circle cx="101.23" cy="627.67" r="1.85" fill="#58A9FF"/>
<circle cx="111.71" cy="617.93" r="0.95" fill="#14335F" stroke="none"/>
<circle cx="94.2" cy="605.86" r="0.95" fill="#14335F" stroke="none"/>
<circle cx="69.46" cy="609.09" r="0.95" fill="#14335F" stroke="none"/>
<circle cx="96.37" cy="625.74" r="1.85" fill="#58A9FF"/>
<circle cx="66.91" cy="645.18" r="0.95" fill="#14335F" stroke="none"/>
<circle cx="108.71" cy="648.62" r="1.85" fill="#3F98FF"/>
<circle cx="115.91" cy="604.59" r="2.3" fill="#58A9FF"/>
<circle cx="52.26" cy="604.37" r="0.95" fill="#505050" stroke="none"/>
<circle cx="109.77" cy="620.29" r="2.3" fill="#3F98FF"/>
<circle cx="75.19" cy="630.51" r="1.4" fill="#58A9FF"/>
<circle cx="87.89" cy="614.7" r="0.95" fill="#505050" stroke="none"/>
<circle cx="89.12" cy="612.68" r="2.3" fill="#E6E6E6"/>
<circle cx="91.86" cy="634.66" r="2.3" fill="#3F98FF"/>
<circle cx="62.16" cy="627.94" r="0.95" fill="#14335F" stroke="none"/>
<circle cx="66.29" cy="607.37" r="1.85" fill="#58A9FF"/>
<circle cx="61.3" cy="625.55" r="1.4" fill="#58A9FF"/>
<circle cx="109.92" cy="645.41" r="2.3" fill="#58A9FF"/>
<circle cx="83.56" cy="647.47" r="2.3" fill="#3F98FF"/>
<circle cx="61.05" cy="604.65" r="1.85" fill="#7BBCFF"/>
<circle cx="87.7" cy="600.08" r="1.85" fill="#3F98FF"/>
<circle cx="65.36" cy="639.81" r="1.85" fill="#58A9FF"/>
<circle cx="90.32" cy="623.36" r="1.85" fill="#58A9FF"/>
<circle cx="128.72" cy="625.66" r="2.3" fill="#7BBCFF"/>
<circle cx="55.08" cy="617.57" r="1.4" fill="#3F98FF"/>
<circle cx="133.59" cy="629.9" r="1.85" fill="#3F98FF"/>
<circle cx="114.79" cy="629.91" r="2.3" fill="#2B7EF5"/>
<circle cx="77.43" cy="610.15" r="0.95" fill="#14335F" stroke="none"/>
<circle cx="124.69" cy="611.08" r="2.3" fill="#7BBCFF"/>
<circle cx="87.28" cy="645.08" r="2.95" fill="#58A9FF"/>
<circle cx="81.71" cy="593.44" r="2.3" fill="#E6E6E6"/>
<circle cx="108.91" cy="647.53" r="0.95" fill="#505050" stroke="none"/>
<circle cx="74.75" cy="642.19" r="1.4" fill="#58A9FF"/>
<circle cx="66.18" cy="605.16" r="1.4" fill="#E6E6E6"/>
<circle cx="74.39" cy="635.72" r="2.3" fill="#3F98FF"/>
<circle cx="128.82" cy="598.49" r="0.95" fill="#505050" stroke="none"/>
<circle cx="71.69" cy="647.65" r="0.95" fill="#14335F" stroke="none"/>
<circle cx="63.39" cy="598.54" r="1.4" fill="#7BBCFF"/>
<circle cx="87.74" cy="615.01" r="1.85" fill="#58A9FF"/>
<circle cx="58.83" cy="616.11" r="1.4" fill="#E6E6E6"/>
<circle cx="57.88" cy="622.7" r="1.85" fill="#2B7EF5"/>
<circle cx="76.44" cy="638.75" r="0.95" fill="#505050" stroke="none"/>
<circle cx="114.4" cy="599.31" r="1.85" fill="#3F98FF"/>
<circle cx="79.86" cy="644.29" r="1.4" fill="#58A9FF"/>
<circle cx="60.29" cy="641.68" r="0.95" fill="#14335F" stroke="none"/>
<circle cx="75.34" cy="643.74" r="2.95" fill="#7BBCFF"/>
<circle cx="61.91" cy="593.43" r="1.85" fill="#A3D1FF"/>
<circle cx="51.43" cy="604.15" r="2.3" fill="#3F98FF"/>
<circle cx="133.39" cy="602.88" r="2.3" fill="#3F98FF"/>
<circle cx="69.79" cy="596.1" r="1.4" fill="#58A9FF"/>
<circle cx="121.76" cy="643.65" r="2.3" fill="#58A9FF"/>
<circle cx="60.74" cy="635.15" r="2.95" fill="#3F98FF"/>
<circle cx="109.17" cy="597.33" r="1.85" fill="#3F98FF"/>
<circle cx="111.18" cy="645.69" r="0.95" fill="#505050" stroke="none"/>
<circle cx="55.89" cy="632.63" r="1.85" fill="#3F98FF"/>
<circle cx="133.92" cy="629.92" r="1.85" fill="#A3D1FF"/>
<circle cx="81.62" cy="617.77" r="1.4" fill="#3F98FF"/>
<circle cx="98.33" cy="623" r="0.95" fill="#505050" stroke="none"/>
<circle cx="73.35" cy="609.16" r="1.4" fill="#7BBCFF"/>
<circle cx="111.37" cy="596.8" r="1.4" fill="#7BBCFF"/>
<circle cx="124.74" cy="612.76" r="2.95" fill="#E6E6E6"/>
<circle cx="91.69" cy="599.97" r="0.95" fill="#14335F" stroke="none"/>
<circle cx="101.53" cy="615.53" r="2.95" fill="#E6E6E6"/>
<circle cx="130.87" cy="623.17" r="0.95" fill="#14335F" stroke="none"/>
<circle cx="115.41" cy="602.05" r="1.4" fill="#7BBCFF"/>
<circle cx="57.13" cy="642.29" r="2.3" fill="#3F98FF"/>
<circle cx="55.48" cy="610.89" r="0.95" fill="#505050" stroke="none"/>
<circle cx="51.09" cy="598.48" r="2.3" fill="#58A9FF"/>
<circle cx="55.86" cy="594.45" r="0.95" fill="#14335F" stroke="none"/>
<circle cx="129.73" cy="605.43" r="0.95" fill="#14335F" stroke="none"/>
<circle cx="114.34" cy="642.21" r="2.3" fill="#2B7EF5"/>
<circle cx="73.37" cy="599.57" r="2.3" fill="#7BBCFF"/>
<circle cx="67.08" cy="599.05" r="0.95" fill="#505050" stroke="none"/>
<circle cx="52.09" cy="622.51" r="1.4" fill="#58A9FF"/>
<circle cx="82.74" cy="625.28" r="1.85" fill="#E6E6E6"/>
<circle cx="117.77" cy="616.13" r="1.85" fill="#7BBCFF"/>
<circle cx="70.16" cy="608.36" r="1.4" fill="#7BBCFF"/>
<circle cx="66.5" cy="620.88" r="1.4" fill="#58A9FF"/>
<circle cx="68.39" cy="649.47" r="1.85" fill="#7BBCFF"/>
<circle cx="132.81" cy="614.46" r="1.85" fill="#3F98FF"/>
<circle cx="121.39" cy="640.73" r="0.95" fill="#14335F" stroke="none"/>
<circle cx="58.8" cy="648.86" r="2.95" fill="#58A9FF"/>
<circle cx="89.75" cy="599.5" r="1.85" fill="#E6E6E6"/>
<circle cx="80.66" cy="639.66" r="1.4" fill="#3F98FF"/>
<circle cx="74.33" cy="609.76" r="2.95" fill="#7BBCFF"/>
<circle cx="58.35" cy="650.55" r="1.85" fill="#E6E6E6"/>
<circle cx="108" cy="628.51" r="1.4" fill="#3F98FF"/>
<circle cx="124.05" cy="616.8" r="1.85" fill="#2B7EF5"/>
<circle cx="135.72" cy="621.55" r="2.3" fill="#7BBCFF"/>
<circle cx="118.32" cy="616.43" r="1.85" fill="#58A9FF"/>
<circle cx="88.37" cy="630.85" r="2.3" fill="#3F98FF"/>
<circle cx="100.44" cy="637.89" r="1.85" fill="#58A9FF"/>
<circle cx="67.42" cy="649.07" r="1.85" fill="#7BBCFF"/>
<circle cx="114.6" cy="600.86" r="0.95" fill="#14335F" stroke="none"/>
<circle cx="92.71" cy="601.93" r="1.85" fill="#58A9FF"/>
<circle cx="103.19" cy="616.64" r="2.95" fill="#E6E6E6"/>
<circle cx="110" cy="602.62" r="2.3" fill="#7BBCFF"/>
<circle cx="106.52" cy="635.51" r="1.85" fill="#E6E6E6"/>
<circle cx="123.46" cy="630.86" r="2.95" fill="#58A9FF"/>
<circle cx="123.52" cy="619.12" r="1.4" fill="#58A9FF"/>
<circle cx="72.53" cy="596.83" r="1.85" fill="#58A9FF"/>
<circle cx="71.77" cy="648.23" r="0.95" fill="#14335F" stroke="none"/>
<circle cx="65.39" cy="640.99" r="1.85" fill="#58A9FF"/>
<circle cx="57.28" cy="624.76" r="1.85" fill="#3F98FF"/>
<circle cx="72.14" cy="604.12" r="2.95" fill="#3F98FF"/>
<circle cx="86.63" cy="649.21" r="1.85" fill="#A3D1FF"/>
<circle cx="59.2" cy="624.18" r="2.3" fill="#58A9FF"/>
<circle cx="114.28" cy="631.5" r="1.4" fill="#58A9FF"/>
<circle cx="69.71" cy="623.99" r="1.4" fill="#E6E6E6"/>
<circle cx="127.1" cy="607.7" r="0.95" fill="#14335F" stroke="none"/>
<circle cx="53.6" cy="627.89" r="1.4" fill="#3F98FF"/>
<circle cx="116.98" cy="637.24" r="0.95" fill="#505050" stroke="none"/>
<circle cx="72" cy="605.07" r="1.4" fill="#7BBCFF"/>
<circle cx="53.96" cy="612.6" r="1.4" fill="#3F98FF"/>
<circle cx="82.89" cy="631.4" r="2.3" fill="#7BBCFF"/>
<circle cx="124.08" cy="630.82" r="1.85" fill="#58A9FF"/>
<circle cx="124.41" cy="615.83" r="2.3" fill="#58A9FF"/>
<circle cx="100.56" cy="610.36" r="0.95" fill="#14335F" stroke="none"/>
<circle cx="52.37" cy="603.92" r="0.95" fill="#14335F" stroke="none"/>
<circle cx="116.56" cy="607.01" r="2.3" fill="#E6E6E6"/>
<circle cx="74.87" cy="642.54" r="2.3" fill="#3F98FF"/>
<circle cx="61.13" cy="619.22" r="2.3" fill="#3F98FF"/>
<circle cx="110.29" cy="620.46" r="1.85" fill="#E6E6E6"/>
<circle cx="107.61" cy="617.64" r="0.95" fill="#505050" stroke="none"/>
<circle cx="106.46" cy="608.95" r="2.3" fill="#58A9FF"/>
<circle cx="74.02" cy="609.49" r="2.95" fill="#7BBCFF"/>
<circle cx="117.51" cy="598.54" r="1.85" fill="#2B7EF5"/>
<circle cx="103.64" cy="622.65" r="1.85" fill="#58A9FF"/>
<circle cx="82" cy="624.53" r="2.3" fill="#7BBCFF"/>
<circle cx="91.19" cy="634.63" r="2.3" fill="#58A9FF"/>
<circle cx="71.3" cy="633.32" r="2.95" fill="#3F98FF"/>
<circle cx="93.06" cy="642.92" r="1.85" fill="#7BBCFF"/>
<circle cx="67.5" cy="609.64" r="1.85" fill="#E6E6E6"/>
<circle cx="103.07" cy="601.31" r="0.95" fill="#505050" stroke="none"/>
<circle cx="123.22" cy="633.91" r="1.85" fill="#58A9FF"/>
<circle cx="60.1" cy="627.09" r="1.4" fill="#3F98FF"/>
<circle cx="129.25" cy="618.67" r="0.95" fill="#505050" stroke="none"/>
<circle cx="54.57" cy="609.05" r="0.95" fill="#14335F" stroke="none"/>
<circle cx="58.66" cy="619.03" r="1.85" fill="#58A9FF"/>
<circle cx="65.94" cy="644.28" r="1.85" fill="#7BBCFF"/>
<circle cx="116.2" cy="618.71" r="2.3" fill="#58A9FF"/>
<circle cx="78.71" cy="621.3" r="2.3" fill="#E6E6E6"/>
<circle cx="116.43" cy="638.79" r="1.4" fill="#3F98FF"/>
<circle cx="126.03" cy="632.06" r="2.3" fill="#58A9FF"/>
<circle cx="89.88" cy="597.04" r="2.95" fill="#3F98FF"/>
<circle cx="79.96" cy="615.73" r="2.3" fill="#A3D1FF"/>
<circle cx="124.27" cy="601.63" r="1.85" fill="#58A9FF"/>
<circle cx="88.2" cy="635.16" r="1.85" fill="#E6E6E6"/>
<circle cx="59.88" cy="590.35" r="1.4" fill="#58A9FF"/>
<circle cx="109.64" cy="599.72" r="1.85" fill="#58A9FF"/>
<circle cx="58.4" cy="632.88" r="0.95" fill="#505050" stroke="none"/>
<circle cx="116.47" cy="603.95" r="1.85" fill="#3F98FF"/>
<circle cx="110.77" cy="616.79" r="2.3" fill="#2B7EF5"/>
<circle cx="97.63" cy="634.7" r="1.4" fill="#58A9FF"/>
<circle cx="89.63" cy="600.74" r="0.95" fill="#505050" stroke="none"/>
<circle cx="104.07" cy="616.01" r="2.3" fill="#E6E6E6"/>
<circle cx="51.99" cy="639.21" r="2.95" fill="#2B7EF5"/>
<circle cx="96.83" cy="619.44" r="1.85" fill="#7BBCFF"/>
<circle cx="109.17" cy="623.7" r="2.95" fill="#A3D1FF"/>
<circle cx="75.14" cy="630.2" r="1.85" fill="#3F98FF"/>
<circle cx="109.32" cy="614.7" r="1.85" fill="#7BBCFF"/>
<circle cx="110.24" cy="644.98" r="1.85" fill="#58A9FF"/>
<circle cx="107.67" cy="646.19" r="1.85" fill="#3F98FF"/>
<circle cx="87.96" cy="640.05" r="1.85" fill="#E6E6E6"/>
<circle cx="115.55" cy="613.03" r="1.4" fill="#58A9FF"/>
<circle cx="106.16" cy="596.87" r="1.4" fill="#58A9FF"/>
<circle cx="69.82" cy="625.09" r="2.3" fill="#3F98FF"/>
<circle cx="73.32" cy="623.64" r="1.4" fill="#7BBCFF"/>
<circle cx="99.54" cy="646.49" r="1.85" fill="#58A9FF"/>
<circle cx="91.92" cy="605.95" r="0.95" fill="#14335F" stroke="none"/>
<circle cx="61.54" cy="619.71" r="1.85" fill="#58A9FF"/>
<circle cx="103.24" cy="596.76" r="2.3" fill="#3F98FF"/>
<circle cx="76.81" cy="609.71" r="0.95" fill="#505050" stroke="none"/>
<circle cx="128.81" cy="605.42" r="0.95" fill="#14335F" stroke="none"/>
<circle cx="85.17" cy="607.68" r="1.4" fill="#58A9FF"/>
<circle cx="71.75" cy="615.77" r="1.85" fill="#7BBCFF"/>
<circle cx="97.85" cy="625.86" r="0.95" fill="#14335F" stroke="none"/>
<circle cx="122.81" cy="617.55" r="2.3" fill="#7BBCFF"/>
<circle cx="87.57" cy="608.55" r="0.95" fill="#14335F" stroke="none"/>
<circle cx="77.87" cy="593.69" r="2.95" fill="#A3D1FF"/>
<circle cx="81.73" cy="622.17" r="0.95" fill="#505050" stroke="none"/>
<circle cx="94.19" cy="618.99" r="0.95" fill="#505050" stroke="none"/>
<circle cx="65.9" cy="592.56" r="1.4" fill="#3F98FF"/>
<circle cx="97.31" cy="630.94" r="0.95" fill="#14335F" stroke="none"/>
<circle cx="94.01" cy="623.15" r="1.4" fill="#3F98FF"/>
<circle cx="104.03" cy="617" r="0.95" fill="#14335F" stroke="none"/>
<circle cx="133.01" cy="609.75" r="2.3" fill="#E6E6E6"/>
<circle cx="73.68" cy="613.06" r="0.95" fill="#14335F" stroke="none"/>
<circle cx="125.28" cy="603.88" r="1.85" fill="#3F98FF"/>
<circle cx="102.43" cy="596.09" r="1.85" fill="#7BBCFF"/>
<circle cx="92.52" cy="621.84" r="0.95" fill="#505050" stroke="none"/>
<circle cx="57.32" cy="591.06" r="2.3" fill="#58A9FF"/>
<circle cx="118.06" cy="645.93" r="0.95" fill="#505050" stroke="none"/>
<circle cx="65.77" cy="604.55" r="2.3" fill="#7BBCFF"/>
<circle cx="97.63" cy="633.9" r="2.95" fill="#3F98FF"/>
<circle cx="121.32" cy="645.44" r="1.85" fill="#E6E6E6"/>
<circle cx="134.67" cy="618.25" r="1.85" fill="#7BBCFF"/>
<circle cx="78.17" cy="618.21" r="1.85" fill="#7BBCFF"/>
<circle cx="92.5" cy="611.51" r="2.95" fill="#2B7EF5"/>
<circle cx="61.16" cy="595.21" r="2.3" fill="#2B7EF5"/>
<circle cx="66.66" cy="624.64" r="2.3" fill="#7BBCFF"/>
<circle cx="88.36" cy="647.89" r="1.85" fill="#7BBCFF"/>
<circle cx="107.69" cy="602.64" r="1.4" fill="#3F98FF"/>
<circle cx="78.04" cy="612.79" r="1.85" fill="#7BBCFF"/>
<circle cx="89.44" cy="593.23" r="0.95" fill="#14335F" stroke="none"/>
<circle cx="88.97" cy="595.45" r="0.95" fill="#505050" stroke="none"/>
<circle cx="78.38" cy="607.72" r="0.95" fill="#505050" stroke="none"/>
<circle cx="128.12" cy="620.59" r="2.95" fill="#7BBCFF"/>
<circle cx="82.23" cy="645.78" r="1.4" fill="#2B7EF5"/>
<circle cx="62.86" cy="597.22" r="0.95" fill="#505050" stroke="none"/>
<circle cx="77.18" cy="635.82" r="1.85" fill="#3F98FF"/>
<circle cx="72.41" cy="608.78" r="2.3" fill="#58A9FF"/>
<circle cx="98.88" cy="641.49" r="1.85" fill="#E6E6E6"/>
<circle cx="110.56" cy="601.5" r="2.3" fill="#7BBCFF"/>
<circle cx="117.3" cy="607.18" r="2.3" fill="#3F98FF"/>
<circle cx="87.48" cy="643.89" r="1.85" fill="#7BBCFF"/>
<circle cx="57.91" cy="614.24" r="1.4" fill="#58A9FF"/>
<circle cx="126.56" cy="595.89" r="1.85" fill="#3F98FF"/>
<circle cx="71.96" cy="649.04" r="1.85" fill="#7BBCFF"/>
<circle cx="86.51" cy="637.76" r="0.95" fill="#505050" stroke="none"/>
<circle cx="116.9" cy="617.89" r="1.4" fill="#3F98FF"/>
<circle cx="121.46" cy="599.8" r="1.85" fill="#A3D1FF"/>
<circle cx="125.57" cy="630.45" r="0.95" fill="#14335F" stroke="none"/>
<circle cx="63.72" cy="622.51" r="2.3" fill="#7BBCFF"/>
<circle cx="106.69" cy="640.81" r="1.4" fill="#2B7EF5"/>
<circle cx="88.2" cy="637.4" r="1.4" fill="#A3D1FF"/>
<circle cx="134.68" cy="631.21" r="2.95" fill="#A3D1FF"/>
<circle cx="72.73" cy="609.85" r="2.3" fill="#2B7EF5"/>
<circle cx="81.83" cy="601.14" r="1.85" fill="#7BBCFF"/>
<circle cx="90.5" cy="641.94" r="1.85" fill="#3F98FF"/>
<circle cx="75.49" cy="616.8" r="2.95" fill="#3F98FF"/>
<circle cx="80.49" cy="647.99" r="1.85" fill="#58A9FF"/>
<circle cx="58.22" cy="618.75" r="1.85" fill="#58A9FF"/>
<circle cx="85.33" cy="605.52" r="0.95" fill="#14335F" stroke="none"/>
<circle cx="74.87" cy="618.02" r="1.85" fill="#58A9FF"/>
<circle cx="71.15" cy="624" r="1.4" fill="#E6E6E6"/>
<circle cx="103.39" cy="646.52" r="1.85" fill="#7BBCFF"/>
<circle cx="110.08" cy="611.24" r="2.95" fill="#7BBCFF"/>
<circle cx="115.05" cy="607.97" r="0.95" fill="#14335F" stroke="none"/>
<circle cx="128.35" cy="637.33" r="0.95" fill="#14335F" stroke="none"/>
<circle cx="68.05" cy="610.78" r="1.4" fill="#E6E6E6"/>
<circle cx="85.92" cy="609.39" r="0.95" fill="#14335F" stroke="none"/>
<circle cx="90.91" cy="619.45" r="0.95" fill="#14335F" stroke="none"/>
<circle cx="123.22" cy="630.33" r="1.4" fill="#7BBCFF"/>
<circle cx="66.11" cy="607.29" r="2.3" fill="#E6E6E6"/>
<circle cx="81.14" cy="596.7" r="0.95" fill="#14335F" stroke="none"/>
<circle cx="124.31" cy="638.36" r="1.85" fill="#3F98FF"/>
<circle cx="59.2" cy="608.91" r="0.95" fill="#505050" stroke="none"/>
<circle cx="99.38" cy="604.2" r="2.3" fill="#2B7EF5"/>
<circle cx="81.11" cy="607.13" r="2.95" fill="#58A9FF"/>
<circle cx="132.16" cy="597.98" r="1.4" fill="#E6E6E6"/>
<circle cx="86.18" cy="627.61" r="1.85" fill="#E6E6E6"/>
<circle cx="97.47" cy="632.3" r="0.95" fill="#505050" stroke="none"/>
<circle cx="73.18" cy="634.61" r="1.85" fill="#58A9FF"/>
<circle cx="101.26" cy="628.37" r="1.4" fill="#58A9FF"/>
<circle cx="58.67" cy="593.87" r="1.85" fill="#58A9FF"/>
<circle cx="120.9" cy="643.75" r="1.85" fill="#2B7EF5"/>
<circle cx="118.59" cy="639.79" r="2.3" fill="#A3D1FF"/>
<circle cx="133.72" cy="602.44" r="1.85" fill="#3F98FF"/>
<circle cx="127.25" cy="637.5" r="2.3" fill="#2B7EF5"/>
<circle cx="77.65" cy="643.99" r="0.95" fill="#14335F" stroke="none"/>
<circle cx="120.01" cy="618.27" r="1.4" fill="#E6E6E6"/>
<circle cx="54.27" cy="637.33" r="1.85" fill="#7BBCFF"/>
<circle cx="122.92" cy="648.25" r="0.95" fill="#14335F" stroke="none"/>
<circle cx="123.13" cy="599.45" r="1.85" fill="#58A9FF"/>
<circle cx="64.86" cy="638.18" r="1.85" fill="#A3D1FF"/>
<circle cx="53.93" cy="633.18" r="1.4" fill="#58A9FF"/>
<circle cx="121.11" cy="628.15" r="1.4" fill="#E6E6E6"/>
<circle cx="64.59" cy="608.21" r="0.95" fill="#14335F" stroke="none"/>
<circle cx="66.93" cy="608.49" r="2.95" fill="#3F98FF"/>
<circle cx="95.12" cy="625.94" r="1.85" fill="#3F98FF"/>
<circle cx="113.69" cy="601.72" r="1.85" fill="#3F98FF"/>
<circle cx="104.98" cy="645.99" r="1.85" fill="#7BBCFF"/>
<circle cx="84.21" cy="606.44" r="2.3" fill="#3F98FF"/>
<circle cx="84.93" cy="605.41" r="0.95" fill="#14335F" stroke="none"/>
<circle cx="96.57" cy="614.75" r="1.85" fill="#2B7EF5"/>
<circle cx="58.61" cy="639.68" r="1.4" fill="#3F98FF"/>
<circle cx="100.39" cy="624.45" r="1.4" fill="#2B7EF5"/>
<circle cx="129.14" cy="625.86" r="0.95" fill="#14335F" stroke="none"/>
<circle cx="73.02" cy="632.57" r="0.95" fill="#14335F" stroke="none"/>
<circle cx="106.56" cy="613.87" r="1.85" fill="#7BBCFF"/>
<circle cx="98.88" cy="643.49" r="1.85" fill="#E6E6E6"/>
<circle cx="104.09" cy="618.3" r="1.85" fill="#7BBCFF"/>
<circle cx="58.5" cy="649.31" r="1.85" fill="#58A9FF"/>
<circle cx="109.48" cy="621.3" r="1.4" fill="#7BBCFF"/>
<circle cx="89.08" cy="638.74" r="0.95" fill="#14335F" stroke="none"/>
<circle cx="132.54" cy="632.49" r="1.4" fill="#2B7EF5"/>
<circle cx="112.19" cy="611.8" r="2.3" fill="#3F98FF"/>
<circle cx="70.34" cy="623.23" r="2.3" fill="#58A9FF"/>
<circle cx="88.61" cy="643.43" r="2.3" fill="#58A9FF"/>
<circle cx="75.58" cy="618.31" r="1.4" fill="#3F98FF"/>
<circle cx="104.71" cy="638.32" r="2.3" fill="#7BBCFF"/>
<circle cx="67.68" cy="632.93" r="0.95" fill="#14335F" stroke="none"/>
<circle cx="81.13" cy="612.3" r="1.4" fill="#58A9FF"/>
<circle cx="81.2" cy="613.52" r="1.85" fill="#3F98FF"/>
<circle cx="90.07" cy="592.99" r="2.3" fill="#58A9FF"/>
<circle cx="101.59" cy="639.33" r="0.95" fill="#14335F" stroke="none"/>
<circle cx="118.84" cy="634.74" r="1.85" fill="#58A9FF"/>
<circle cx="81.79" cy="623.43" r="1.85" fill="#7BBCFF"/>
<circle cx="94.3" cy="643.86" r="0.95" fill="#14335F" stroke="none"/>
<circle cx="60.77" cy="602.16" r="1.85" fill="#58A9FF"/>
<circle cx="79.24" cy="640.08" r="1.85" fill="#58A9FF"/>
<circle cx="109.34" cy="621.76" r="1.85" fill="#7BBCFF"/>
<circle cx="69.32" cy="639.44" r="1.4" fill="#7BBCFF"/>
<circle cx="124.14" cy="595.85" r="2.3" fill="#A3D1FF"/>
<circle cx="70.76" cy="629.77" r="2.3" fill="#58A9FF"/>
<circle cx="90.49" cy="601.11" r="1.85" fill="#58A9FF"/>
<circle cx="102.17" cy="615" r="1.4" fill="#58A9FF"/>
<circle cx="64.88" cy="637.3" r="0.95" fill="#505050" stroke="none"/>
<circle cx="101.79" cy="643.6" r="1.4" fill="#E6E6E6"/>
<circle cx="125.9" cy="623.43" r="2.3" fill="#E6E6E6"/>
<circle cx="56.28" cy="616.16" r="0.95" fill="#14335F" stroke="none"/>
<circle cx="110.91" cy="626.97" r="1.4" fill="#58A9FF"/>
<circle cx="120.57" cy="632.37" r="0.95" fill="#505050" stroke="none"/>
<circle cx="119.72" cy="630.16" r="2.3" fill="#58A9FF"/>
<circle cx="123.4" cy="639.97" r="0.95" fill="#505050" stroke="none"/>
<circle cx="61.79" cy="626.5" r="1.4" fill="#58A9FF"/>
<circle cx="117.46" cy="603.42" r="1.4" fill="#E6E6E6"/>
<circle cx="131.42" cy="643.59" r="0.95" fill="#14335F" stroke="none"/>
<circle cx="85.4" cy="637.99" r="1.85" fill="#7BBCFF"/>
<circle cx="59.82" cy="647.64" r="2.3" fill="#7BBCFF"/>
<circle cx="71.96" cy="602.85" r="1.85" fill="#2B7EF5"/>
<circle cx="89.79" cy="646.74" r="1.4" fill="#3F98FF"/>
<circle cx="80.08" cy="614.96" r="0.95" fill="#14335F" stroke="none"/>
<circle cx="124.69" cy="630.39" r="2.3" fill="#7BBCFF"/>
<circle cx="74.46" cy="594.43" r="1.85" fill="#E6E6E6"/>
<circle cx="65.68" cy="642.11" r="1.85" fill="#3F98FF"/>
<circle cx="56.56" cy="618.19" r="2.95" fill="#58A9FF"/>
<circle cx="126.94" cy="623.02" r="1.85" fill="#58A9FF"/>
<circle cx="62.49" cy="598.63" r="1.85" fill="#E6E6E6"/>
<circle cx="101.18" cy="608.29" r="1.4" fill="#7BBCFF"/>
<circle cx="102.22" cy="620.99" r="1.4" fill="#7BBCFF"/>
<circle cx="71.34" cy="630.71" r="1.85" fill="#E6E6E6"/>
<circle cx="87.63" cy="640.52" r="1.85" fill="#58A9FF"/>
<circle cx="61.19" cy="616.09" r="1.85" fill="#7BBCFF"/>
<circle cx="71.06" cy="596.66" r="1.4" fill="#3F98FF"/>
<circle cx="94.02" cy="620.76" r="1.85" fill="#A3D1FF"/>
<circle cx="89.3" cy="611" r="1.4" fill="#7BBCFF"/>
<circle cx="103.89" cy="599.28" r="1.85" fill="#58A9FF"/>
<circle cx="119.51" cy="634.84" r="2.95" fill="#58A9FF"/>
<circle cx="108.87" cy="613.58" r="1.85" fill="#3F98FF"/>
<circle cx="125.6" cy="614.44" r="2.3" fill="#58A9FF"/>
<circle cx="84.51" cy="600.92" r="2.3" fill="#2B7EF5"/>
<circle cx="98.63" cy="622.81" r="2.3" fill="#58A9FF"/>
<circle cx="85.79" cy="634.16" r="2.95" fill="#58A9FF"/>
<circle cx="100.75" cy="641.98" r="0.95" fill="#14335F" stroke="none"/>
<circle cx="70.93" cy="629.26" r="0.95" fill="#14335F" stroke="none"/>
<circle cx="66.57" cy="638.99" r="1.85" fill="#A3D1FF"/>
<circle cx="91.22" cy="605.11" r="2.3" fill="#3F98FF"/>
<circle cx="81.02" cy="606.13" r="1.85" fill="#3F98FF"/>
<circle cx="57.18" cy="639.11" r="2.3" fill="#3F98FF"/>
<circle cx="131.29" cy="616.56" r="2.3" fill="#58A9FF"/>
<circle cx="101.42" cy="612.7" r="1.85" fill="#A3D1FF"/>
<circle cx="117.13" cy="601.33" r="1.85" fill="#7BBCFF"/>
<circle cx="62.83" cy="625.3" r="1.85" fill="#E6E6E6"/>
<circle cx="84.37" cy="631.68" r="1.85" fill="#E6E6E6"/>
<circle cx="85.99" cy="600.85" r="1.4" fill="#2B7EF5"/>
<circle cx="87.75" cy="592.95" r="2.3" fill="#2B7EF5"/>
<circle cx="69.22" cy="628.73" r="1.85" fill="#E6E6E6"/>
<circle cx="59.13" cy="624.77" r="1.4" fill="#58A9FF"/>
<circle cx="59.14" cy="624.33" r="2.3" fill="#A3D1FF"/>
<circle cx="113.27" cy="620.63" r="0.95" fill="#505050" stroke="none"/>
<circle cx="116.56" cy="605.5" r="1.85" fill="#3F98FF"/>
<circle cx="64.01" cy="597.27" r="2.3" fill="#58A9FF"/>
<circle cx="95.09" cy="627.81" r="1.4" fill="#3F98FF"/>
<circle cx="51.39" cy="594.5" r="1.4" fill="#58A9FF"/>
<circle cx="66.13" cy="641.56" r="1.85" fill="#58A9FF"/>
<circle cx="110.75" cy="593.76" r="2.3" fill="#3F98FF"/>
<circle cx="71.45" cy="599.13" r="0.95" fill="#14335F" stroke="none"/>
<circle cx="119.28" cy="636.76" r="0.95" fill="#14335F" stroke="none"/>
<circle cx="81.68" cy="647.05" r="0.95" fill="#14335F" stroke="none"/>
<circle cx="54.35" cy="618.06" r="1.4" fill="#58A9FF"/>
<circle cx="108.76" cy="608.55" r="0.95" fill="#505050" stroke="none"/>
<circle cx="111.56" cy="646.42" r="1.85" fill="#7BBCFF"/>
<circle cx="125.19" cy="609.72" r="2.3" fill="#58A9FF"/>
<circle cx="68.12" cy="643.38" r="2.3" fill="#58A9FF"/>
<circle cx="58.51" cy="613.9" r="2.3" fill="#7BBCFF"/>
<circle cx="85.22" cy="620.82" r="2.95" fill="#A3D1FF"/>
<circle cx="89.58" cy="593.51" r="0.95" fill="#14335F" stroke="none"/>
<circle cx="71.54" cy="645.06" r="1.4" fill="#58A9FF"/>
<circle cx="95.59" cy="637.32" r="1.4" fill="#7BBCFF"/>
<circle cx="124.21" cy="630.72" r="1.85" fill="#7BBCFF"/>
<circle cx="61.94" cy="599.62" r="2.3" fill="#7BBCFF"/>
<circle cx="94.43" cy="607.83" r="0.95" fill="#505050" stroke="none"/>
<circle cx="60.3" cy="623.08" r="1.85" fill="#A3D1FF"/>
<circle cx="99.5" cy="623.52" r="1.4" fill="#7BBCFF"/>
<circle cx="129.26" cy="612.47" r="0.95" fill="#505050" stroke="none"/>
<circle cx="105.02" cy="642.42" r="1.85" fill="#3F98FF"/>
<circle cx="127.18" cy="635.24" r="0.95" fill="#14335F" stroke="none"/>
<circle cx="106.89" cy="618.71" r="0.95" fill="#14335F" stroke="none"/>
<circle cx="55.98" cy="645.57" r="1.4" fill="#7BBCFF"/>
<circle cx="66.41" cy="643.34" r="1.85" fill="#7BBCFF"/>
<circle cx="87.85" cy="635.48" r="0.95" fill="#505050" stroke="none"/>
<circle cx="98.97" cy="648.08" r="2.3" fill="#3F98FF"/>
<circle cx="68.4" cy="604.38" r="0.95" fill="#14335F" stroke="none"/>
<circle cx="86.52" cy="627.14" r="1.4" fill="#3F98FF"/>
<circle cx="60.43" cy="615.16" r="1.4" fill="#A3D1FF"/>
<circle cx="83.49" cy="603.24" r="1.85" fill="#E6E6E6"/>
<circle cx="112.69" cy="617.05" r="1.4" fill="#E6E6E6"/>
<circle cx="97.28" cy="594.42" r="1.4" fill="#58A9FF"/>
<circle cx="81.11" cy="636.72" r="1.85" fill="#58A9FF"/>
<circle cx="68.38" cy="636.3" r="1.4" fill="#3F98FF"/>
<circle cx="77.08" cy="606.87" r="2.3" fill="#7BBCFF"/>
<circle cx="60.58" cy="629.96" r="0.95" fill="#505050" stroke="none"/>
<circle cx="58" cy="628.64" r="0.95" fill="#14335F" stroke="none"/>
<circle cx="120.45" cy="635.77" r="2.3" fill="#58A9FF"/>
<circle cx="100.63" cy="633.96" r="1.4" fill="#3F98FF"/>
<circle cx="56.92" cy="592.3" r="1.85" fill="#7BBCFF"/>
<circle cx="116.91" cy="619.29" r="1.4" fill="#3F98FF"/>
<circle cx="118.27" cy="606.98" r="1.4" fill="#58A9FF"/>
<circle cx="100.76" cy="625.03" r="0.95" fill="#14335F" stroke="none"/>
<circle cx="103.24" cy="605.12" r="1.4" fill="#E6E6E6"/>
<circle cx="99.04" cy="599.04" r="2.3" fill="#7BBCFF"/>
<circle cx="115.85" cy="642.33" r="2.3" fill="#7BBCFF"/>
<circle cx="85.07" cy="645.99" r="1.4" fill="#A3D1FF"/>
<circle cx="57.96" cy="642.83" r="2.3" fill="#3F98FF"/>
<circle cx="122.42" cy="647.7" r="0.95" fill="#14335F" stroke="none"/>
<circle cx="92.78" cy="619.07" r="1.85" fill="#3F98FF"/>
<circle cx="69.18" cy="611.86" r="1.85" fill="#2B7EF5"/>
<circle cx="86.86" cy="613.55" r="1.85" fill="#58A9FF"/>
<circle cx="126.67" cy="633.3" r="2.95" fill="#3F98FF"/>
<circle cx="91.95" cy="631.87" r="1.85" fill="#E6E6E6"/>
<circle cx="73.23" cy="600.53" r="2.3" fill="#58A9FF"/>
<circle cx="62.15" cy="642.71" r="2.3" fill="#7BBCFF"/>
<circle cx="113.31" cy="646.8" r="0.95" fill="#14335F" stroke="none"/>
<circle cx="87.38" cy="637.18" r="0.95" fill="#14335F" stroke="none"/>
<circle cx="107.39" cy="596.09" r="1.85" fill="#7BBCFF"/>
<circle cx="130.85" cy="601.18" r="0.95" fill="#14335F" stroke="none"/>
<circle cx="86.2" cy="638.4" r="0.95" fill="#14335F" stroke="none"/>
<circle cx="114.9" cy="602.59" r="1.4" fill="#7BBCFF"/>
<circle cx="72.69" cy="601.8" r="1.85" fill="#7BBCFF"/>
<circle cx="113.55" cy="597.44" r="2.3" fill="#7BBCFF"/>
<circle cx="110.65" cy="627.14" r="1.85" fill="#E6E6E6"/>
<circle cx="119.58" cy="605.74" r="0.95" fill="#505050" stroke="none"/>
<circle cx="128.52" cy="634.61" r="2.3" fill="#58A9FF"/>
<circle cx="83.8" cy="605.4" r="1.4" fill="#2B7EF5"/>
<circle cx="109.71" cy="643.06" r="0.95" fill="#14335F" stroke="none"/>
<circle cx="87.75" cy="622.26" r="2.3" fill="#7BBCFF"/>
<circle cx="100.47" cy="603.9" r="1.85" fill="#7BBCFF"/>
<circle cx="68.59" cy="644.39" r="1.4" fill="#3F98FF"/>
<circle cx="128.61" cy="616.01" r="1.4" fill="#58A9FF"/>
<circle cx="64.1" cy="622.9" r="1.4" fill="#58A9FF"/>
<circle cx="125.3" cy="637.82" r="0.95" fill="#14335F" stroke="none"/>
<circle cx="56.87" cy="592.5" r="1.4" fill="#3F98FF"/>
<circle cx="70.44" cy="631.88" r="0.95" fill="#14335F" stroke="none"/>
<circle cx="126.1" cy="622.55" r="2.3" fill="#7BBCFF"/>
<circle cx="69.94" cy="608.09" r="1.4" fill="#58A9FF"/>
<circle cx="105.22" cy="640.68" r="0.95" fill="#505050" stroke="none"/>
<circle cx="67.02" cy="628.12" r="2.3" fill="#A3D1FF"/>
<circle cx="83.2" cy="610.81" r="0.95" fill="#14335F" stroke="none"/>
<circle cx="98.9" cy="600.4" r="1.85" fill="#58A9FF"/>
<circle cx="75.43" cy="601.11" r="0.95" fill="#505050" stroke="none"/>
<circle cx="67.51" cy="627.44" r="1.85" fill="#E6E6E6"/>
<circle cx="74.13" cy="596.12" r="2.3" fill="#A3D1FF"/>
<circle cx="62.79" cy="602.22" r="1.85" fill="#E6E6E6"/>
<circle cx="76.02" cy="611.87" r="1.4" fill="#3F98FF"/>
<circle cx="54.78" cy="598.59" r="2.3" fill="#58A9FF"/>
<circle cx="60.88" cy="633.61" r="2.3" fill="#7BBCFF"/>
<circle cx="71.54" cy="649.04" r="0.95" fill="#14335F" stroke="none"/>
<circle cx="79.44" cy="594.68" r="0.95" fill="#14335F" stroke="none"/>
<circle cx="83.16" cy="605.61" r="1.4" fill="#2B7EF5"/>
<circle cx="94.83" cy="600.01" r="1.85" fill="#58A9FF"/>
<circle cx="118.1" cy="642.67" r="2.95" fill="#2B7EF5"/>
<circle cx="77.93" cy="611.75" r="2.95" fill="#7BBCFF"/>
<circle cx="66.32" cy="650.56" r="0.95" fill="#14335F" stroke="none"/>
<circle cx="70.52" cy="634.41" r="1.85" fill="#58A9FF"/>
<circle cx="122.93" cy="608.45" r="1.85" fill="#7BBCFF"/>
<circle cx="83.73" cy="620.41" r="1.4" fill="#A3D1FF"/>
<circle cx="78.36" cy="633.67" r="1.4" fill="#58A9FF"/>
<circle cx="112.37" cy="626.97" r="1.85" fill="#2B7EF5"/>
<circle cx="66.32" cy="639.07" r="0.95" fill="#505050" stroke="none"/>
<circle cx="60" cy="626.86" r="1.4" fill="#7BBCFF"/>
<circle cx="102.51" cy="639.84" r="1.85" fill="#58A9FF"/>
<circle cx="86.25" cy="644.31" r="0.95" fill="#14335F" stroke="none"/>
<circle cx="126.35" cy="625.04" r="1.4" fill="#58A9FF"/>
<circle cx="86.6" cy="617.46" r="0.95" fill="#505050" stroke="none"/>
<circle cx="92.39" cy="641.91" r="2.3" fill="#58A9FF"/>
<circle cx="57.49" cy="610.58" r="0.95" fill="#505050" stroke="none"/>
<circle cx="74.2" cy="610.06" r="2.3" fill="#58A9FF"/>
<circle cx="90.27" cy="607.52" r="0.95" fill="#14335F" stroke="none"/>
<circle cx="55.01" cy="619.51" r="2.3" fill="#58A9FF"/>
<circle cx="84.86" cy="633.91" r="2.95" fill="#3F98FF"/>
<circle cx="77.54" cy="597.81" r="0.95" fill="#505050" stroke="none"/>
<circle cx="69.44" cy="617.25" r="2.3" fill="#58A9FF"/>
<circle cx="131.14" cy="627.11" r="1.85" fill="#58A9FF"/>
<circle cx="85.62" cy="610.73" r="1.4" fill="#3F98FF"/>
<circle cx="57.4" cy="617.65" r="0.95" fill="#14335F" stroke="none"/>
<circle cx="54.05" cy="622.9" r="2.95" fill="#3F98FF"/>
<circle cx="97.78" cy="612.75" r="1.85" fill="#58A9FF"/>
<circle cx="62.59" cy="600.79" r="0.95" fill="#14335F" stroke="none"/>
<circle cx="54.17" cy="630.27" r="1.4" fill="#58A9FF"/>
<circle cx="81.33" cy="592.14" r="0.95" fill="#14335F" stroke="none"/>
<circle cx="120.4" cy="633.73" r="1.4" fill="#58A9FF"/>
<circle cx="106.91" cy="603.87" r="0.95" fill="#14335F" stroke="none"/>
<circle cx="85.86" cy="644.61" r="2.3" fill="#7BBCFF"/>
<circle cx="125.72" cy="631.46" r="0.95" fill="#14335F" stroke="none"/>
<circle cx="118.84" cy="647.77" r="1.4" fill="#7BBCFF"/>
<circle cx="105.99" cy="602.12" r="1.85" fill="#7BBCFF"/>
<circle cx="88.89" cy="593.11" r="1.4" fill="#2B7EF5"/>
<circle cx="91.19" cy="594.24" r="1.85" fill="#E6E6E6"/>
<circle cx="92.39" cy="614.26" r="0.95" fill="#505050" stroke="none"/>
<circle cx="122.16" cy="622.99" r="2.3" fill="#58A9FF"/>
<circle cx="57.14" cy="618.14" r="1.85" fill="#3F98FF"/>
<circle cx="110.49" cy="596.2" r="1.4" fill="#A3D1FF"/>
<circle cx="99.66" cy="624.36" r="1.85" fill="#A3D1FF"/>
<circle cx="122.33" cy="595.2" r="1.4" fill="#58A9FF"/>
<circle cx="116.71" cy="606.62" r="1.85" fill="#7BBCFF"/>
<circle cx="66.82" cy="612.69" r="1.4" fill="#E6E6E6"/>
<circle cx="108.44" cy="595.99" r="2.3" fill="#58A9FF"/>
<circle cx="111" cy="636.94" r="0.95" fill="#14335F" stroke="none"/>
<circle cx="76.38" cy="625.5" r="2.3" fill="#7BBCFF"/>
<circle cx="95.17" cy="592.7" r="2.3" fill="#7BBCFF"/>
<circle cx="96.74" cy="615.1" r="0.95" fill="#14335F" stroke="none"/>
<circle cx="132.25" cy="636.93" r="1.85" fill="#2B7EF5"/>
<circle cx="72.71" cy="642.07" r="1.85" fill="#E6E6E6"/>
<circle cx="113.17" cy="627.95" r="1.4" fill="#58A9FF"/>
<circle cx="75.2" cy="614.49" r="2.3" fill="#E6E6E6"/>
<circle cx="96.53" cy="593.32" r="1.85" fill="#3F98FF"/>
<circle cx="127.55" cy="615.3" r="0.95" fill="#505050" stroke="none"/>
<circle cx="66.85" cy="649.86" r="0.95" fill="#14335F" stroke="none"/>
<circle cx="74.41" cy="626.55" r="2.95" fill="#7BBCFF"/>
<circle cx="74.63" cy="608.93" r="1.4" fill="#7BBCFF"/>
<circle cx="73.37" cy="610.3" r="1.85" fill="#58A9FF"/>
<circle cx="68.49" cy="651.28" r="1.85" fill="#E6E6E6"/>
<circle cx="123.48" cy="610.91" r="1.4" fill="#3F98FF"/>
<circle cx="77.37" cy="607.21" r="1.85" fill="#58A9FF"/>
<circle cx="107.81" cy="605.17" r="1.4" fill="#3F98FF"/>
<circle cx="133.41" cy="619.73" r="1.4" fill="#3F98FF"/>
<circle cx="94.88" cy="608.26" r="1.85" fill="#58A9FF"/>
<circle cx="52.27" cy="635.36" r="1.85" fill="#E6E6E6"/>
<circle cx="100.58" cy="595.74" r="1.4" fill="#A3D1FF"/>
<circle cx="125.08" cy="642.47" r="2.3" fill="#2B7EF5"/>
<circle cx="115.83" cy="634.25" r="0.95" fill="#505050" stroke="none"/>
<circle cx="75.05" cy="646.23" r="2.3" fill="#A3D1FF"/>
<circle cx="106.61" cy="615.39" r="1.85" fill="#3F98FF"/>
<circle cx="110.75" cy="628.44" r="0.95" fill="#505050" stroke="none"/>
<circle cx="68.46" cy="633.39" r="2.3" fill="#7BBCFF"/>
<circle cx="78.85" cy="607.59" r="1.4" fill="#58A9FF"/>
<circle cx="67.79" cy="592.4" r="0.95" fill="#14335F" stroke="none"/>
<circle cx="107.49" cy="602.83" r="1.85" fill="#2B7EF5"/>
<circle cx="118.6" cy="635.01" r="1.85" fill="#7BBCFF"/>
<circle cx="63.06" cy="639.52" r="0.95" fill="#14335F" stroke="none"/>
<circle cx="60.85" cy="647.78" r="1.85" fill="#A3D1FF"/>
<circle cx="101.24" cy="645.77" r="1.85" fill="#58A9FF"/>
<circle cx="97.6" cy="599.1" r="1.85" fill="#E6E6E6"/>
<circle cx="73.21" cy="619.31" r="2.3" fill="#A3D1FF"/>
<circle cx="86.28" cy="605.21" r="1.4" fill="#E6E6E6"/>
<circle cx="90.43" cy="592.36" r="0.95" fill="#14335F" stroke="none"/>
<circle cx="51.71" cy="620.75" r="1.85" fill="#58A9FF"/>
<circle cx="129.64" cy="626.19" r="1.4" fill="#7BBCFF"/>
<circle cx="74.07" cy="645.6" r="0.95" fill="#14335F" stroke="none"/>
<circle cx="91.48" cy="593.74" r="1.4" fill="#58A9FF"/>
<circle cx="67.37" cy="623.94" r="2.95" fill="#58A9FF"/>
<circle cx="129.45" cy="625.23" r="2.3" fill="#58A9FF"/>
<circle cx="71.99" cy="648.82" r="1.4" fill="#58A9FF"/>
<circle cx="68.8" cy="610.75" r="2.3" fill="#7BBCFF"/>
<circle cx="121.65" cy="629.72" r="1.4" fill="#A3D1FF"/>
<circle cx="107.93" cy="613.54" r="2.3" fill="#2B7EF5"/>
<circle cx="57.01" cy="614.53" r="1.85" fill="#58A9FF"/>
<circle cx="128.46" cy="622.11" r="1.4" fill="#2B7EF5"/>
<circle cx="71.32" cy="623.49" r="1.85" fill="#58A9FF"/>
<circle cx="92.26" cy="599.72" r="1.85" fill="#3F98FF"/>
<circle cx="80.84" cy="602.64" r="1.85" fill="#7BBCFF"/>
<circle cx="96.76" cy="640.51" r="1.85" fill="#58A9FF"/>
<circle cx="74.92" cy="616.75" r="1.4" fill="#3F98FF"/>
<circle cx="77.93" cy="635.91" r="1.85" fill="#7BBCFF"/>
<circle cx="52.57" cy="600.54" r="2.3" fill="#7BBCFF"/>
<circle cx="54.01" cy="632.29" r="2.3" fill="#E6E6E6"/>
<circle cx="56.18" cy="644.62" r="2.3" fill="#58A9FF"/>
<circle cx="129.84" cy="623.45" r="0.95" fill="#14335F" stroke="none"/>
<circle cx="98.6" cy="622.36" r="2.3" fill="#58A9FF"/>
<circle cx="133.93" cy="622.43" r="1.4" fill="#58A9FF"/>
<circle cx="127.8" cy="647.05" r="1.4" fill="#2B7EF5"/>
<circle cx="115.37" cy="613.84" r="1.85" fill="#3F98FF"/>
<circle cx="130.24" cy="621.26" r="1.4" fill="#7BBCFF"/>
<circle cx="68.18" cy="594.75" r="2.3" fill="#3F98FF"/>
<circle cx="99.97" cy="635.06" r="1.4" fill="#58A9FF"/>
<circle cx="91.38" cy="627.09" r="2.95" fill="#3F98FF"/>
<circle cx="108.69" cy="607.58" r="1.4" fill="#2B7EF5"/>
<circle cx="112.02" cy="594.87" r="2.3" fill="#58A9FF"/>
<circle cx="67.99" cy="591.94" r="0.95" fill="#14335F" stroke="none"/>
<circle cx="131.46" cy="610.58" r="2.95" fill="#58A9FF"/>
<circle cx="94.45" cy="593.39" r="0.95" fill="#14335F" stroke="none"/>
<circle cx="51.16" cy="633.79" r="1.85" fill="#58A9FF"/>
<circle cx="72.54" cy="635.27" r="1.85" fill="#2B7EF5"/>
<circle cx="57.53" cy="622.92" r="1.85" fill="#58A9FF"/>
<circle cx="104.06" cy="624.67" r="2.3" fill="#58A9FF"/>
<circle cx="94.89" cy="629.06" r="1.85" fill="#7BBCFF"/>
<circle cx="127.62" cy="599.75" r="2.95" fill="#58A9FF"/>
<circle cx="62.5" cy="607.13" r="1.85" fill="#58A9FF"/>
<circle cx="63.85" cy="608.42" r="1.85" fill="#3F98FF"/>
<circle cx="51.6" cy="616.28" r="1.85" fill="#E6E6E6"/>
<circle cx="112.97" cy="641.03" r="0.95" fill="#14335F" stroke="none"/>
<circle cx="63.46" cy="600.44" r="2.3" fill="#3F98FF"/>
<circle cx="88.66" cy="617.07" r="0.95" fill="#14335F" stroke="none"/>
<circle cx="88.18" cy="619.07" r="1.4" fill="#7BBCFF"/>
<circle cx="72.95" cy="646.52" r="2.3" fill="#7BBCFF"/>
<circle cx="96.77" cy="604.32" r="1.85" fill="#2B7EF5"/>
<circle cx="106.24" cy="606.4" r="0.95" fill="#505050" stroke="none"/>
<circle cx="96.79" cy="612.6" r="0.95" fill="#505050" stroke="none"/>
<circle cx="114.23" cy="649.42" r="1.85" fill="#58A9FF"/>
<circle cx="83.72" cy="620.24" r="0.95" fill="#14335F" stroke="none"/>
<circle cx="130.52" cy="619.78" r="1.4" fill="#58A9FF"/>
<circle cx="74.68" cy="629.97" r="2.95" fill="#58A9FF"/>
<circle cx="93.29" cy="607.96" r="2.95" fill="#3F98FF"/>
<circle cx="72.26" cy="642.66" r="2.3" fill="#2B7EF5"/>
<circle cx="55.78" cy="647.69" r="0.95" fill="#14335F" stroke="none"/>
<circle cx="123.28" cy="626.99" r="2.95" fill="#58A9FF"/>
<circle cx="75.58" cy="625.16" r="1.85" fill="#E6E6E6"/>
<circle cx="60.91" cy="608.05" r="1.4" fill="#58A9FF"/>
<circle cx="131.79" cy="626.64" r="1.4" fill="#58A9FF"/>
<circle cx="71.54" cy="616.05" r="2.3" fill="#58A9FF"/>
<circle cx="97.51" cy="593.59" r="2.95" fill="#58A9FF"/>
<circle cx="111.73" cy="648.97" r="2.3" fill="#7BBCFF"/>
<circle cx="122.46" cy="596.02" r="1.4" fill="#3F98FF"/>
<circle cx="77.52" cy="647.09" r="1.4" fill="#58A9FF"/>
<circle cx="166.21" cy="581.27" r="0.95" fill="#505050" stroke="none"/>
<circle cx="163.82" cy="607.74" r="1.4" fill="#2B7EF5"/>
<circle cx="164.7" cy="607.12" r="2.3" fill="#58A9FF"/>
<circle cx="166.95" cy="614.89" r="0.95" fill="#505050" stroke="none"/>
<circle cx="166.93" cy="580.59" r="0.95" fill="#14335F" stroke="none"/>
<circle cx="166.38" cy="606.97" r="1.4" fill="#2B7EF5"/>
<circle cx="174.65" cy="625.33" r="2.3" fill="#58A9FF"/>
<circle cx="163.29" cy="640.54" r="0.95" fill="#505050" stroke="none"/>
<circle cx="174.95" cy="619.31" r="1.4" fill="#E6E6E6"/>
<circle cx="166.23" cy="614.49" r="0.95" fill="#14335F" stroke="none"/>
<circle cx="163.68" cy="607.91" r="0.95" fill="#14335F" stroke="none"/>
<circle cx="158.02" cy="635.96" r="0.95" fill="#14335F" stroke="none"/>
<circle cx="162.22" cy="606.29" r="1.4" fill="#58A9FF"/>
<circle cx="163.06" cy="582.48" r="0.95" fill="#14335F" stroke="none"/>
<circle cx="171.42" cy="591.21" r="0.95" fill="#14335F" stroke="none"/>
<circle cx="161.76" cy="643.37" r="1.85" fill="#A3D1FF"/>
<circle cx="160.37" cy="609.95" r="0.95" fill="#14335F" stroke="none"/>
<circle cx="157.35" cy="622.24" r="0.95" fill="#14335F" stroke="none"/>
<circle cx="165.36" cy="641.1" r="0.95" fill="#505050" stroke="none"/>
<circle cx="163.56" cy="609.72" r="0.95" fill="#14335F" stroke="none"/>
<circle cx="170.71" cy="591.49" r="0.95" fill="#14335F" stroke="none"/>
<circle cx="173.23" cy="622.47" r="0.95" fill="#505050" stroke="none"/>
<circle cx="160.24" cy="612.62" r="0.95" fill="#505050" stroke="none"/>
<circle cx="156.49" cy="636.91" r="0.95" fill="#14335F" stroke="none"/>
<circle cx="167.38" cy="613.02" r="1.85" fill="#58A9FF"/>
<circle cx="154.77" cy="614.32" r="1.4" fill="#3F98FF"/>
<circle cx="158.66" cy="621.9" r="1.4" fill="#7BBCFF"/>
<circle cx="173.86" cy="625.53" r="0.95" fill="#505050" stroke="none"/>
<circle cx="157.95" cy="621.43" r="0.95" fill="#14335F" stroke="none"/>
<circle cx="163.52" cy="608.6" r="2.3" fill="#3F98FF"/>
<circle cx="166.34" cy="581.1" r="2.3" fill="#7BBCFF"/>
<circle cx="157.25" cy="603.12" r="0.95" fill="#14335F" stroke="none"/>
<circle cx="170.61" cy="591.12" r="1.4" fill="#7BBCFF"/>
<circle cx="157.59" cy="621.2" r="1.4" fill="#3F98FF"/>
<circle cx="153.74" cy="589.25" r="1.85" fill="#3F98FF"/>
<circle cx="168.63" cy="614.12" r="1.85" fill="#7BBCFF"/>
<circle cx="163.58" cy="639.96" r="1.4" fill="#7BBCFF"/>
<circle cx="170.85" cy="590.4" r="0.95" fill="#14335F" stroke="none"/>
<circle cx="155.02" cy="624.97" r="1.85" fill="#E6E6E6"/>
<circle cx="160.79" cy="613.46" r="0.95" fill="#14335F" stroke="none"/>
<circle cx="184.75" cy="607.14" r="1.85" fill="#E6E6E6"/>
<circle cx="179.73" cy="590.74" r="1.85" fill="#58A9FF"/>
<circle cx="177.48" cy="608.6" r="1.4" fill="#58A9FF"/>
<circle cx="180.31" cy="623.57" r="2.3" fill="#3F98FF"/>
<circle cx="177.98" cy="611.53" r="0.95" fill="#505050" stroke="none"/>
<circle cx="179.89" cy="609.39" r="0.95" fill="#505050" stroke="none"/>
<circle cx="182.87" cy="648.13" r="0.95" fill="#14335F" stroke="none"/>
<circle cx="181.58" cy="614.51" r="0.95" fill="#505050" stroke="none"/>
<circle cx="182.15" cy="614.45" r="0.95" fill="#14335F" stroke="none"/>
<circle cx="181.23" cy="613.62" r="1.4" fill="#58A9FF"/>
<circle cx="180.05" cy="590.6" r="1.4" fill="#E6E6E6"/>
<circle cx="181.87" cy="610.04" r="1.4" fill="#7BBCFF"/>
<circle cx="177.75" cy="607.01" r="0.95" fill="#14335F" stroke="none"/>
<circle cx="183.99" cy="651.23" r="2.3" fill="#3F98FF"/>
<circle cx="181.07" cy="593.37" r="0.95" fill="#505050" stroke="none"/>
<circle cx="186.24" cy="609.14" r="1.85" fill="#E6E6E6"/>
<circle cx="186.21" cy="611.67" r="1.85" fill="#E6E6E6"/>
<circle cx="175.5" cy="614.81" r="2.3" fill="#A3D1FF"/>
<circle cx="186.3" cy="640.84" r="1.85" fill="#E6E6E6"/>
<circle cx="185.56" cy="596.09" r="1.4" fill="#7BBCFF"/>
<circle cx="185.99" cy="644.25" r="1.85" fill="#E6E6E6"/>
<circle cx="185.33" cy="642.51" r="0.95" fill="#14335F" stroke="none"/>
<circle cx="185.07" cy="639.07" r="1.85" fill="#7BBCFF"/>
<circle cx="184.44" cy="635.26" r="1.85" fill="#3F98FF"/>
<circle cx="181.67" cy="623.35" r="1.85" fill="#58A9FF"/>
<circle cx="184.58" cy="609.72" r="0.95" fill="#14335F" stroke="none"/>
<circle cx="185.35" cy="632.33" r="0.95" fill="#14335F" stroke="none"/>
<circle cx="183.68" cy="593.13" r="1.85" fill="#E6E6E6"/>
<circle cx="181.61" cy="632.23" r="1.85" fill="#A3D1FF"/>
<circle cx="181.92" cy="633.64" r="0.95" fill="#14335F" stroke="none"/>
<circle cx="174.66" cy="641.38" r="1.85" fill="#E6E6E6"/>
<circle cx="183.38" cy="591.82" r="0.95" fill="#14335F" stroke="none"/>
<circle cx="180.86" cy="611.03" r="0.95" fill="#505050" stroke="none"/>
<circle cx="186.1" cy="624.88" r="2.3" fill="#7BBCFF"/>
<circle cx="179.73" cy="616.76" r="1.4" fill="#58A9FF"/>
<circle cx="182.5" cy="632.66" r="1.4" fill="#58A9FF"/>
<circle cx="180.79" cy="623.07" r="0.95" fill="#14335F" stroke="none"/>
<circle cx="186.06" cy="623.99" r="0.95" fill="#14335F" stroke="none"/>
<circle cx="180.03" cy="590.07" r="1.4" fill="#7BBCFF"/>
<circle cx="177.95" cy="606.13" r="1.4" fill="#A3D1FF"/>
<circle cx="188.69" cy="638.17" r="0.95" fill="#14335F" stroke="none"/>
<circle cx="181.31" cy="643.98" r="1.85" fill="#E6E6E6"/>
<circle cx="186.75" cy="595.17" r="1.4" fill="#A3D1FF"/>
<circle cx="185.35" cy="645.06" r="1.4" fill="#3F98FF"/>
<circle cx="183.05" cy="634.18" r="1.4" fill="#2B7EF5"/>
<circle cx="188.37" cy="612.05" r="1.85" fill="#3F98FF"/>
<circle cx="181.33" cy="592.59" r="1.4" fill="#58A9FF"/>
<circle cx="183.81" cy="605.08" r="1.4" fill="#7BBCFF"/>
<circle cx="184.51" cy="616.22" r="1.4" fill="#58A9FF"/>
<circle cx="178.07" cy="590.26" r="1.85" fill="#58A9FF"/>
<circle cx="183.59" cy="614.02" r="1.4" fill="#3F98FF"/>
<circle cx="187.09" cy="610.92" r="1.85" fill="#7BBCFF"/>
<circle cx="181.79" cy="642.65" r="1.85" fill="#3F98FF"/>
<circle cx="186.39" cy="619.6" r="0.95" fill="#505050" stroke="none"/>
<circle cx="180.75" cy="649.01" r="1.4" fill="#2B7EF5"/>
<circle cx="203.67" cy="619.31" r="1.85" fill="#58A9FF"/>
<circle cx="201.89" cy="618.35" r="1.85" fill="#58A9FF"/>
<circle cx="198.58" cy="621.87" r="1.4" fill="#7BBCFF"/>
<circle cx="202" cy="571.78" r="2.3" fill="#7BBCFF"/>
<circle cx="197.76" cy="621.75" r="1.4" fill="#58A9FF"/>
<circle cx="203.41" cy="570.9" r="0.95" fill="#505050" stroke="none"/>
<circle cx="205.02" cy="617.26" r="1.85" fill="#3F98FF"/>
<circle cx="205.2" cy="618.24" r="0.95" fill="#14335F" stroke="none"/>
<circle cx="200.03" cy="570.66" r="1.4" fill="#A3D1FF"/>
<circle cx="202.04" cy="570.27" r="1.85" fill="#58A9FF"/>
<circle cx="200.58" cy="572.54" r="0.95" fill="#505050" stroke="none"/>
<circle cx="202.14" cy="571.66" r="1.4" fill="#E6E6E6"/>
<circle cx="198.29" cy="622.3" r="1.85" fill="#2B7EF5"/>
<circle cx="197.36" cy="622.67" r="2.3" fill="#3F98FF"/>
<circle cx="198.49" cy="605.4" r="1.4" fill="#58A9FF"/>
<circle cx="200.54" cy="562.23" r="1.4" fill="#58A9FF"/>
<circle cx="197.97" cy="572.16" r="2.3" fill="#58A9FF"/>
<circle cx="199.77" cy="574.25" r="2.3" fill="#58A9FF"/>
<circle cx="197.96" cy="625.48" r="1.4" fill="#3F98FF"/>
<circle cx="202.08" cy="618.02" r="0.95" fill="#505050" stroke="none"/>
<circle cx="200.15" cy="560.47" r="1.85" fill="#7BBCFF"/>
<circle cx="197.1" cy="591.54" r="1.4" fill="#3F98FF"/>
<circle cx="201.05" cy="572.23" r="1.85" fill="#58A9FF"/>
<circle cx="197.4" cy="623.01" r="0.95" fill="#14335F" stroke="none"/>
<circle cx="204.55" cy="609.27" r="0.95" fill="#505050" stroke="none"/>
<circle cx="198.7" cy="566.87" r="0.95" fill="#14335F" stroke="none"/>
<circle cx="203.47" cy="569.52" r="1.85" fill="#7BBCFF"/>
<circle cx="204.21" cy="630.95" r="1.85" fill="#58A9FF"/>
<circle cx="220.64" cy="595.65" r="2.3" fill="#7BBCFF"/>
<circle cx="223.52" cy="576.6" r="1.85" fill="#E6E6E6"/>
<circle cx="223.55" cy="575.45" r="2.3" fill="#A3D1FF"/>
<circle cx="220.48" cy="598.5" r="0.95" fill="#14335F" stroke="none"/>
<circle cx="223.08" cy="575.78" r="0.95" fill="#14335F" stroke="none"/>
<circle cx="220.47" cy="599.07" r="0.95" fill="#14335F" stroke="none"/>
<circle cx="220.22" cy="597.16" r="1.4" fill="#E6E6E6"/>
<circle cx="223.88" cy="574.12" r="1.85" fill="#E6E6E6"/>
<circle cx="226.2" cy="570.38" r="0.95" fill="#505050" stroke="none"/>
<circle cx="227.74" cy="602.43" r="2.95" fill="#58A9FF"/>
<circle cx="226.15" cy="576.55" r="1.4" fill="#E6E6E6"/>
<circle cx="226.61" cy="603.17" r="0.95" fill="#505050" stroke="none"/>
<circle cx="223.88" cy="583.61" r="2.3" fill="#58A9FF"/>
<circle cx="227.55" cy="603.55" r="0.95" fill="#14335F" stroke="none"/>
<circle cx="220.93" cy="592.5" r="1.85" fill="#3F98FF"/>
<circle cx="223.08" cy="604.32" r="1.85" fill="#E6E6E6"/>
<circle cx="224.32" cy="588.27" r="1.85" fill="#3F98FF"/>
<circle cx="227.46" cy="586" r="1.4" fill="#3F98FF"/>
<circle cx="224.73" cy="568.98" r="1.85" fill="#3F98FF"/>
<circle cx="221.48" cy="600.51" r="1.4" fill="#E6E6E6"/>
<circle cx="227.8" cy="603.88" r="0.95" fill="#14335F" stroke="none"/>
<circle cx="227.55" cy="589.39" r="0.95" fill="#14335F" stroke="none"/>
<circle cx="224.4" cy="602.85" r="1.4" fill="#E6E6E6"/>
<circle cx="226.56" cy="579.04" r="1.4" fill="#7BBCFF"/>
<circle cx="226.81" cy="564.06" r="0.95" fill="#14335F" stroke="none"/>
<circle cx="223.32" cy="587.58" r="0.95" fill="#14335F" stroke="none"/>
<circle cx="227.54" cy="580.7" r="1.4" fill="#58A9FF"/>
<circle cx="228.58" cy="565.03" r="0.95" fill="#14335F" stroke="none"/>
<circle cx="220.55" cy="591.44" r="2.3" fill="#E6E6E6"/>
<circle cx="225.03" cy="570.31" r="2.3" fill="#2B7EF5"/>
<circle cx="222.53" cy="597.62" r="1.4" fill="#7BBCFF"/>
<circle cx="223.35" cy="590.84" r="0.95" fill="#14335F" stroke="none"/>
<circle cx="227.72" cy="580.99" r="2.3" fill="#7BBCFF"/>
<circle cx="224.38" cy="572.58" r="0.95" fill="#14335F" stroke="none"/>
<circle cx="221.16" cy="597.45" r="0.95" fill="#14335F" stroke="none"/>
<circle cx="225.43" cy="573.14" r="1.4" fill="#E6E6E6"/>
<circle cx="223.67" cy="601.48" r="1.4" fill="#2B7EF5"/>
<circle cx="224.72" cy="585.53" r="1.85" fill="#3F98FF"/>
<circle cx="225.81" cy="595.23" r="1.4" fill="#E6E6E6"/>
<circle cx="227.24" cy="603.21" r="1.85" fill="#7BBCFF"/>
<circle cx="221.78" cy="605.39" r="1.85" fill="#58A9FF"/>
<circle cx="221.64" cy="606.41" r="2.3" fill="#3F98FF"/>
<circle cx="234.97" cy="588.83" r="2.95" fill="#2B7EF5"/>
<circle cx="221.28" cy="604.92" r="2.3" fill="#7BBCFF"/>
<circle cx="234.92" cy="589.93" r="1.85" fill="#58A9FF"/>
<circle cx="235.89" cy="590.15" r="0.95" fill="#505050" stroke="none"/>
<circle cx="221.7" cy="597.35" r="2.95" fill="#58A9FF"/>
<circle cx="240.78" cy="599.77" r="2.3" fill="#58A9FF"/>
<circle cx="236.82" cy="588.88" r="1.85" fill="#7BBCFF"/>
<circle cx="243.74" cy="636" r="1.4" fill="#3F98FF"/>
<circle cx="230.21" cy="595.9" r="1.85" fill="#3F98FF"/>
<circle cx="235.54" cy="598.93" r="2.3" fill="#7BBCFF"/>
<circle cx="229.05" cy="594.91" r="1.4" fill="#58A9FF"/>
<circle cx="235.32" cy="593.83" r="1.85" fill="#58A9FF"/>
<circle cx="230.48" cy="593.37" r="0.95" fill="#505050" stroke="none"/>
<circle cx="238.01" cy="597.39" r="1.85" fill="#E6E6E6"/>
<circle cx="244.14" cy="646.03" r="0.95" fill="#14335F" stroke="none"/>
<circle cx="228.29" cy="598.3" r="1.85" fill="#3F98FF"/>
<circle cx="231.11" cy="596.66" r="2.3" fill="#58A9FF"/>
<circle cx="239.46" cy="605.72" r="1.85" fill="#3F98FF"/>
<circle cx="241.95" cy="600.58" r="2.3" fill="#58A9FF"/>
<circle cx="236.44" cy="607.75" r="1.4" fill="#7BBCFF"/>
<circle cx="235.58" cy="609.38" r="1.85" fill="#58A9FF"/>
<circle cx="239.1" cy="604.11" r="1.4" fill="#58A9FF"/>
<circle cx="237.7" cy="609.35" r="2.3" fill="#E6E6E6"/>
<circle cx="223.39" cy="641.07" r="1.85" fill="#7BBCFF"/>
<circle cx="233.91" cy="588.05" r="2.3" fill="#3F98FF"/>
<circle cx="231.69" cy="595.2" r="1.4" fill="#7BBCFF"/>
<circle cx="241.86" cy="628.86" r="1.4" fill="#E6E6E6"/>
<circle cx="231.19" cy="595.96" r="1.4" fill="#7BBCFF"/>
<circle cx="241.18" cy="602.16" r="1.4" fill="#7BBCFF"/>
<circle cx="224.18" cy="613.3" r="0.95" fill="#505050" stroke="none"/>
<circle cx="227.05" cy="614.09" r="1.4" fill="#A3D1FF"/>
<circle cx="223.08" cy="610.5" r="2.3" fill="#7BBCFF"/>
<circle cx="222.21" cy="598.93" r="2.3" fill="#A3D1FF"/>
<circle cx="236.67" cy="590.04" r="2.3" fill="#A3D1FF"/>
<circle cx="241.36" cy="630.05" r="1.85" fill="#58A9FF"/>
<circle cx="237.36" cy="645.94" r="1.4" fill="#3F98FF"/>
<circle cx="237.04" cy="606.93" r="1.4" fill="#7BBCFF"/>
<circle cx="237.01" cy="610.82" r="2.3" fill="#58A9FF"/>
<circle cx="232.21" cy="587.98" r="1.85" fill="#2B7EF5"/>
<circle cx="235.85" cy="626.13" r="1.4" fill="#7BBCFF"/>
<circle cx="232.91" cy="594.2" r="2.3" fill="#7BBCFF"/>
<circle cx="237.59" cy="636.31" r="2.95" fill="#3F98FF"/>
<circle cx="235.88" cy="590.35" r="1.4" fill="#58A9FF"/>
<circle cx="227.76" cy="613.92" r="0.95" fill="#14335F" stroke="none"/>
<circle cx="221.49" cy="596.15" r="0.95" fill="#14335F" stroke="none"/>
<circle cx="237.75" cy="643.98" r="2.3" fill="#3F98FF"/>
<circle cx="244" cy="649.07" r="1.4" fill="#3F98FF"/>
<circle cx="221.96" cy="640.68" r="1.4" fill="#7BBCFF"/>
<circle cx="244.11" cy="637.47" r="1.85" fill="#3F98FF"/>
<circle cx="233.75" cy="633.94" r="1.4" fill="#58A9FF"/>
<circle cx="227.59" cy="636.02" r="1.4" fill="#7BBCFF"/>
<circle cx="231.55" cy="642.45" r="1.85" fill="#58A9FF"/>
<circle cx="225.63" cy="616.17" r="1.85" fill="#58A9FF"/>
<circle cx="239.01" cy="606.01" r="1.4" fill="#A3D1FF"/>
<circle cx="242.51" cy="636.23" r="1.85" fill="#3F98FF"/>
<circle cx="224.55" cy="642.6" r="1.4" fill="#58A9FF"/>
<circle cx="220.72" cy="603.12" r="2.3" fill="#3F98FF"/>
<circle cx="233.62" cy="633.99" r="1.85" fill="#58A9FF"/>
<circle cx="235.11" cy="591.15" r="1.85" fill="#7BBCFF"/>
<circle cx="227.56" cy="631.04" r="1.4" fill="#58A9FF"/>
<circle cx="236.94" cy="625.31" r="1.85" fill="#58A9FF"/>
<circle cx="234.66" cy="633.55" r="1.85" fill="#3F98FF"/>
<circle cx="225.68" cy="617.49" r="1.4" fill="#3F98FF"/>
<circle cx="230.88" cy="591.04" r="1.4" fill="#E6E6E6"/>
<circle cx="237.16" cy="630.8" r="1.4" fill="#3F98FF"/>
<circle cx="235.56" cy="635.46" r="2.3" fill="#58A9FF"/>
<circle cx="222.23" cy="608.65" r="1.85" fill="#7BBCFF"/>
<circle cx="229.04" cy="594.26" r="0.95" fill="#505050" stroke="none"/>
<circle cx="235.19" cy="598.54" r="2.3" fill="#7BBCFF"/>
<circle cx="240.92" cy="598.28" r="1.4" fill="#2B7EF5"/>
<circle cx="234.59" cy="595.46" r="0.95" fill="#505050" stroke="none"/>
<circle cx="224.31" cy="616.56" r="0.95" fill="#14335F" stroke="none"/>
<circle cx="240.4" cy="596.63" r="2.3" fill="#E6E6E6"/>
<circle cx="231.44" cy="591" r="1.85" fill="#3F98FF"/>
<circle cx="221.21" cy="618.12" r="2.95" fill="#58A9FF"/>
<circle cx="239.16" cy="637.26" r="1.4" fill="#3F98FF"/>
<circle cx="241.76" cy="623.96" r="2.3" fill="#3F98FF"/>
<circle cx="234.1" cy="634.54" r="1.4" fill="#58A9FF"/>
<circle cx="244.4" cy="629.9" r="2.3" fill="#7BBCFF"/>
<circle cx="230.42" cy="590.08" r="0.95" fill="#14335F" stroke="none"/>
<circle cx="222.04" cy="605.93" r="1.4" fill="#7BBCFF"/>
<circle cx="242.94" cy="595.84" r="1.85" fill="#58A9FF"/>
<circle cx="239.95" cy="591.91" r="2.3" fill="#58A9FF"/>
<circle cx="245.12" cy="629.36" r="0.95" fill="#14335F" stroke="none"/>
<circle cx="233.21" cy="589.54" r="0.95" fill="#14335F" stroke="none"/>
<circle cx="238.13" cy="590.1" r="0.95" fill="#14335F" stroke="none"/>
<circle cx="240.93" cy="601.44" r="1.85" fill="#2B7EF5"/>
<circle cx="221.89" cy="613.82" r="2.3" fill="#3F98FF"/>
<circle cx="236.12" cy="608.21" r="1.4" fill="#E6E6E6"/>
<circle cx="232.88" cy="590.75" r="1.85" fill="#58A9FF"/>
<circle cx="234.93" cy="619.33" r="0.95" fill="#14335F" stroke="none"/>
<circle cx="239.9" cy="593.17" r="1.4" fill="#3F98FF"/>
<circle cx="239" cy="638.43" r="1.85" fill="#58A9FF"/>
<circle cx="221.68" cy="602.01" r="0.95" fill="#505050" stroke="none"/>
<circle cx="236.05" cy="607.46" r="2.3" fill="#58A9FF"/>
<circle cx="231.2" cy="637.81" r="1.85" fill="#3F98FF"/>
<circle cx="230.14" cy="627.99" r="1.4" fill="#A3D1FF"/>
<circle cx="235.02" cy="587.29" r="0.95" fill="#505050" stroke="none"/>
<circle cx="245.12" cy="632.03" r="1.4" fill="#58A9FF"/>
<circle cx="222.9" cy="630.62" r="1.4" fill="#58A9FF"/>
<circle cx="236.24" cy="596.88" r="1.85" fill="#7BBCFF"/>
<circle cx="227.97" cy="610.54" r="0.95" fill="#505050" stroke="none"/>
<circle cx="245.79" cy="595.47" r="1.85" fill="#58A9FF"/>
<circle cx="238.78" cy="614.23" r="1.85" fill="#2B7EF5"/>
<circle cx="222.08" cy="632.57" r="2.3" fill="#7BBCFF"/>
<circle cx="223.04" cy="643.8" r="0.95" fill="#14335F" stroke="none"/>
<circle cx="225.22" cy="592.82" r="0.95" fill="#14335F" stroke="none"/>
<circle cx="235.37" cy="631.91" r="1.4" fill="#7BBCFF"/>
<circle cx="228.5" cy="625.1" r="1.85" fill="#E6E6E6"/>
<circle cx="228.09" cy="621.33" r="1.4" fill="#2B7EF5"/>
<circle cx="222.72" cy="622.12" r="1.85" fill="#58A9FF"/>
<circle cx="239.43" cy="615.12" r="1.85" fill="#3F98FF"/>
<circle cx="243.99" cy="630.86" r="0.95" fill="#14335F" stroke="none"/>
<circle cx="243.15" cy="633.38" r="2.3" fill="#3F98FF"/>
<circle cx="233.74" cy="618.72" r="2.3" fill="#E6E6E6"/>
<circle cx="232.33" cy="623.88" r="1.85" fill="#2B7EF5"/>
<circle cx="234.32" cy="598.81" r="0.95" fill="#14335F" stroke="none"/>
<circle cx="223.75" cy="613.5" r="0.95" fill="#505050" stroke="none"/>
<circle cx="224.08" cy="621.15" r="0.95" fill="#14335F" stroke="none"/>
<circle cx="230.3" cy="618.54" r="1.4" fill="#7BBCFF"/>
<circle cx="245.55" cy="622.36" r="1.85" fill="#7BBCFF"/>
<circle cx="244.52" cy="632.54" r="1.4" fill="#58A9FF"/>
<circle cx="227.54" cy="604.06" r="1.4" fill="#58A9FF"/>
<circle cx="228.69" cy="642.62" r="0.95" fill="#14335F" stroke="none"/>
<circle cx="222.32" cy="612.22" r="1.85" fill="#58A9FF"/>
<circle cx="234.87" cy="593.7" r="1.85" fill="#7BBCFF"/>
<circle cx="234.91" cy="636.07" r="1.85" fill="#2B7EF5"/>
<circle cx="227.58" cy="638.29" r="2.95" fill="#E6E6E6"/>
<circle cx="254.3" cy="590.73" r="1.4" fill="#7BBCFF"/>
<circle cx="265.82" cy="594.46" r="2.3" fill="#E6E6E6"/>
<circle cx="262.22" cy="611.41" r="2.3" fill="#E6E6E6"/>
<circle cx="258.33" cy="630.84" r="1.85" fill="#A3D1FF"/>
<circle cx="285.47" cy="626.91" r="0.95" fill="#14335F" stroke="none"/>
<circle cx="296.99" cy="610.91" r="1.85" fill="#2B7EF5"/>
<circle cx="292.54" cy="625.28" r="1.85" fill="#7BBCFF"/>
<circle cx="272.69" cy="610.12" r="2.95" fill="#58A9FF"/>
<circle cx="278.56" cy="597.65" r="0.95" fill="#14335F" stroke="none"/>
<circle cx="277.75" cy="628.71" r="1.85" fill="#58A9FF"/>
<circle cx="264.03" cy="623.89" r="2.3" fill="#58A9FF"/>
<circle cx="272.1" cy="600.88" r="1.85" fill="#3F98FF"/>
<circle cx="296.36" cy="605.95" r="1.85" fill="#7BBCFF"/>
<circle cx="272.81" cy="609.65" r="2.3" fill="#A3D1FF"/>
<circle cx="280.1" cy="625.29" r="0.95" fill="#505050" stroke="none"/>
<circle cx="289.52" cy="617.79" r="0.95" fill="#505050" stroke="none"/>
<circle cx="252.55" cy="619.39" r="0.95" fill="#14335F" stroke="none"/>
<circle cx="275.62" cy="627.01" r="0.95" fill="#505050" stroke="none"/>
<circle cx="265.74" cy="597.28" r="1.4" fill="#3F98FF"/>
<circle cx="263.23" cy="627.84" r="0.95" fill="#505050" stroke="none"/>
<circle cx="253.88" cy="629.87" r="1.4" fill="#58A9FF"/>
<circle cx="281.15" cy="611.23" r="2.3" fill="#58A9FF"/>
<circle cx="275.83" cy="623.79" r="0.95" fill="#505050" stroke="none"/>
<circle cx="270.12" cy="615.21" r="1.4" fill="#58A9FF"/>
<circle cx="272.12" cy="598.58" r="0.95" fill="#14335F" stroke="none"/>
<circle cx="261.53" cy="610.07" r="1.4" fill="#2B7EF5"/>
<circle cx="256.52" cy="599.69" r="1.4" fill="#2B7EF5"/>
<circle cx="280.83" cy="617.38" r="0.95" fill="#14335F" stroke="none"/>
<circle cx="276.96" cy="626.52" r="0.95" fill="#14335F" stroke="none"/>
<circle cx="284.62" cy="622.29" r="0.95" fill="#14335F" stroke="none"/>
<circle cx="292.78" cy="624.27" r="1.4" fill="#58A9FF"/>
<circle cx="251.6" cy="593.12" r="2.3" fill="#A3D1FF"/>
<circle cx="305.56" cy="601.94" r="0.95" fill="#505050" stroke="none"/>
<circle cx="272.51" cy="598.3" r="1.4" fill="#2B7EF5"/>
<circle cx="256.91" cy="637.72" r="0.95" fill="#505050" stroke="none"/>
<circle cx="283.23" cy="630.32" r="0.95" fill="#14335F" stroke="none"/>
<circle cx="252.28" cy="593.47" r="1.4" fill="#3F98FF"/>
<circle cx="290.71" cy="598.09" r="1.85" fill="#58A9FF"/>
<circle cx="254.05" cy="610.99" r="1.4" fill="#E6E6E6"/>
<circle cx="278.2" cy="620.1" r="0.95" fill="#14335F" stroke="none"/>
<circle cx="267.91" cy="601.93" r="1.4" fill="#E6E6E6"/>
<circle cx="267.64" cy="599.63" r="1.85" fill="#7BBCFF"/>
<circle cx="275.44" cy="616.23" r="0.95" fill="#505050" stroke="none"/>
<circle cx="267.16" cy="627.75" r="0.95" fill="#14335F" stroke="none"/>
<circle cx="248.68" cy="632.04" r="2.3" fill="#3F98FF"/>
<circle cx="269.45" cy="592.89" r="0.95" fill="#505050" stroke="none"/>
<circle cx="261.48" cy="617.88" r="0.95" fill="#14335F" stroke="none"/>
<circle cx="302" cy="615.87" r="1.85" fill="#58A9FF"/>
<circle cx="281.57" cy="622.74" r="0.95" fill="#505050" stroke="none"/>
<circle cx="248.78" cy="615.44" r="1.4" fill="#7BBCFF"/>
<circle cx="268.71" cy="624.02" r="1.85" fill="#3F98FF"/>
<circle cx="286.17" cy="607.25" r="0.95" fill="#14335F" stroke="none"/>
<circle cx="254.91" cy="636.59" r="0.95" fill="#505050" stroke="none"/>
<circle cx="280.71" cy="623.94" r="0.95" fill="#505050" stroke="none"/>
<circle cx="259.61" cy="635.64" r="1.85" fill="#58A9FF"/>
<circle cx="253.8" cy="638.38" r="0.95" fill="#14335F" stroke="none"/>
<circle cx="300.69" cy="621.7" r="1.85" fill="#7BBCFF"/>
<circle cx="269.05" cy="629.36" r="1.85" fill="#A3D1FF"/>
<circle cx="280.9" cy="613.54" r="0.95" fill="#14335F" stroke="none"/>
<circle cx="272.94" cy="603.72" r="2.95" fill="#7BBCFF"/>
<circle cx="276.9" cy="606.75" r="0.95" fill="#14335F" stroke="none"/>
<circle cx="258.7" cy="634.92" r="1.85" fill="#3F98FF"/>
<circle cx="290.35" cy="617.34" r="0.95" fill="#14335F" stroke="none"/>
<circle cx="266.47" cy="624.04" r="1.85" fill="#3F98FF"/>
<circle cx="301.65" cy="613.22" r="0.95" fill="#505050" stroke="none"/>
<circle cx="279.21" cy="615.19" r="1.85" fill="#58A9FF"/>
<circle cx="267.05" cy="619.38" r="1.4" fill="#2B7EF5"/>
<circle cx="268.29" cy="590.82" r="1.4" fill="#7BBCFF"/>
<circle cx="255.09" cy="590.85" r="0.95" fill="#14335F" stroke="none"/>
<circle cx="246.14" cy="627.2" r="1.85" fill="#58A9FF"/>
<circle cx="259.5" cy="612.43" r="1.85" fill="#2B7EF5"/>
<circle cx="256.49" cy="633.58" r="2.95" fill="#7BBCFF"/>
<circle cx="263.73" cy="593.68" r="0.95" fill="#14335F" stroke="none"/>
<circle cx="300.19" cy="616.88" r="1.85" fill="#58A9FF"/>
<circle cx="258.81" cy="607.92" r="0.95" fill="#14335F" stroke="none"/>
<circle cx="248.1" cy="605.29" r="1.85" fill="#A3D1FF"/>
<circle cx="272.82" cy="630.64" r="1.4" fill="#7BBCFF"/>
<circle cx="278.59" cy="595.24" r="1.4" fill="#58A9FF"/>
<circle cx="255.18" cy="625.58" r="1.4" fill="#3F98FF"/>
<circle cx="255.05" cy="625.2" r="2.3" fill="#7BBCFF"/>
<circle cx="280.08" cy="625.75" r="1.85" fill="#7BBCFF"/>
<circle cx="298.28" cy="609.1" r="1.85" fill="#58A9FF"/>
<circle cx="260.19" cy="601.39" r="2.3" fill="#E6E6E6"/>
<circle cx="302.61" cy="610.2" r="1.4" fill="#58A9FF"/>
<circle cx="248.04" cy="632.31" r="0.95" fill="#505050" stroke="none"/>
<circle cx="268.64" cy="622.99" r="2.95" fill="#7BBCFF"/>
<circle cx="251.78" cy="613.21" r="1.4" fill="#3F98FF"/>
<circle cx="254.98" cy="602.78" r="1.85" fill="#3F98FF"/>
<circle cx="267.14" cy="632.55" r="1.4" fill="#A3D1FF"/>
<circle cx="255.45" cy="599.69" r="1.4" fill="#58A9FF"/>
<circle cx="276.11" cy="604.26" r="1.85" fill="#58A9FF"/>
<circle cx="282.59" cy="610.7" r="1.85" fill="#E6E6E6"/>
<circle cx="255.29" cy="621.61" r="0.95" fill="#14335F" stroke="none"/>
<circle cx="252.67" cy="621.96" r="0.95" fill="#14335F" stroke="none"/>
<circle cx="278.96" cy="623.18" r="2.3" fill="#7BBCFF"/>
<circle cx="270.45" cy="598.4" r="0.95" fill="#505050" stroke="none"/>
<circle cx="250.62" cy="614.28" r="0.95" fill="#14335F" stroke="none"/>
<circle cx="304.44" cy="600.99" r="2.3" fill="#58A9FF"/>
<circle cx="303.98" cy="601.32" r="1.4" fill="#58A9FF"/>
<circle cx="275.96" cy="618.02" r="1.85" fill="#E6E6E6"/>
<circle cx="269.71" cy="599.51" r="1.85" fill="#E6E6E6"/>
<circle cx="269.18" cy="623.52" r="2.95" fill="#58A9FF"/>
<circle cx="247.81" cy="596.01" r="1.85" fill="#3F98FF"/>
<circle cx="259.53" cy="634.18" r="2.3" fill="#3F98FF"/>
<circle cx="279.45" cy="604.25" r="2.3" fill="#7BBCFF"/>
<circle cx="284.94" cy="626.22" r="0.95" fill="#14335F" stroke="none"/>
<circle cx="272.56" cy="606.8" r="0.95" fill="#505050" stroke="none"/>
<circle cx="267.86" cy="626.73" r="1.4" fill="#7BBCFF"/>
<circle cx="287.15" cy="621.16" r="0.95" fill="#505050" stroke="none"/>
<circle cx="269.25" cy="614.17" r="2.3" fill="#E6E6E6"/>
<circle cx="282.52" cy="614.41" r="0.95" fill="#14335F" stroke="none"/>
<circle cx="282.09" cy="595.41" r="2.3" fill="#3F98FF"/>
<circle cx="263.49" cy="615.69" r="0.95" fill="#14335F" stroke="none"/>
<circle cx="286.88" cy="606.65" r="1.4" fill="#E6E6E6"/>
<circle cx="293.51" cy="616.78" r="0.95" fill="#14335F" stroke="none"/>
<circle cx="295" cy="618.56" r="1.4" fill="#E6E6E6"/>
<circle cx="277.11" cy="604.88" r="2.3" fill="#3F98FF"/>
<circle cx="254.76" cy="629.74" r="1.85" fill="#A3D1FF"/>
<circle cx="271.11" cy="599.89" r="1.4" fill="#E6E6E6"/>
<circle cx="278.54" cy="606.14" r="2.3" fill="#A3D1FF"/>
<circle cx="301.47" cy="603.09" r="1.4" fill="#3F98FF"/>
<circle cx="280.87" cy="600.03" r="1.85" fill="#7BBCFF"/>
<circle cx="275.09" cy="609.08" r="2.3" fill="#A3D1FF"/>
<circle cx="292.17" cy="617.46" r="1.4" fill="#58A9FF"/>
<circle cx="282.81" cy="614.2" r="1.4" fill="#3F98FF"/>
<circle cx="281.01" cy="616.66" r="1.4" fill="#E6E6E6"/>
<circle cx="271.88" cy="607.84" r="1.4" fill="#3F98FF"/>
<circle cx="251.77" cy="620.71" r="0.95" fill="#505050" stroke="none"/>
<circle cx="250.5" cy="630.37" r="0.95" fill="#505050" stroke="none"/>
<circle cx="282.91" cy="607.89" r="0.95" fill="#14335F" stroke="none"/>
<circle cx="266.56" cy="619.6" r="1.4" fill="#3F98FF"/>
<circle cx="301.82" cy="615.67" r="0.95" fill="#505050" stroke="none"/>
<circle cx="270.48" cy="615.65" r="1.4" fill="#58A9FF"/>
<circle cx="283.52" cy="602.71" r="2.3" fill="#A3D1FF"/>
<circle cx="281.09" cy="626.62" r="2.95" fill="#7BBCFF"/>
<circle cx="279.38" cy="612.46" r="1.85" fill="#3F98FF"/>
<circle cx="292.25" cy="596.48" r="1.4" fill="#E6E6E6"/>
<circle cx="296.97" cy="603.68" r="1.85" fill="#7BBCFF"/>
<circle cx="257.71" cy="593.37" r="2.3" fill="#58A9FF"/>
<circle cx="295.55" cy="615.21" r="1.4" fill="#E6E6E6"/>
<circle cx="258.68" cy="599.91" r="2.3" fill="#7BBCFF"/>
<circle cx="256.46" cy="632.7" r="0.95" fill="#14335F" stroke="none"/>
<circle cx="293.19" cy="610.43" r="1.4" fill="#3F98FF"/>
<circle cx="295.95" cy="602.12" r="1.4" fill="#58A9FF"/>
<circle cx="257.03" cy="618.04" r="1.85" fill="#E6E6E6"/>
<circle cx="298.51" cy="619.32" r="1.4" fill="#3F98FF"/>
<circle cx="279.98" cy="626.47" r="1.4" fill="#7BBCFF"/>
<circle cx="300.57" cy="620.79" r="0.95" fill="#505050" stroke="none"/>
<circle cx="268.02" cy="632.87" r="1.85" fill="#58A9FF"/>
<circle cx="265.82" cy="597.43" r="1.85" fill="#A3D1FF"/>
<circle cx="267.34" cy="602.81" r="1.85" fill="#58A9FF"/>
<circle cx="294.95" cy="596.04" r="2.95" fill="#58A9FF"/>
<circle cx="282.16" cy="593.56" r="0.95" fill="#14335F" stroke="none"/>
<circle cx="292.29" cy="609.78" r="1.85" fill="#58A9FF"/>
<circle cx="260.09" cy="611.85" r="1.4" fill="#7BBCFF"/>
<circle cx="289.96" cy="616.91" r="1.85" fill="#A3D1FF"/>
<circle cx="271.92" cy="624.99" r="1.85" fill="#3F98FF"/>
<circle cx="302.19" cy="614.34" r="2.3" fill="#7BBCFF"/>
<circle cx="302.87" cy="615.05" r="2.3" fill="#58A9FF"/>
<circle cx="292.59" cy="597.67" r="1.85" fill="#3F98FF"/>
<circle cx="294.5" cy="611.39" r="1.85" fill="#7BBCFF"/>
<circle cx="256.6" cy="590.8" r="2.3" fill="#58A9FF"/>
<circle cx="303.6" cy="610.24" r="1.85" fill="#58A9FF"/>
<circle cx="261.44" cy="622.48" r="1.4" fill="#58A9FF"/>
<circle cx="258.03" cy="613.47" r="1.85" fill="#3F98FF"/>
<circle cx="301.56" cy="603.85" r="1.85" fill="#3F98FF"/>
<circle cx="281.16" cy="599.48" r="1.4" fill="#58A9FF"/>
<circle cx="260.42" cy="595.34" r="2.3" fill="#58A9FF"/>
<circle cx="303.01" cy="611.51" r="1.4" fill="#7BBCFF"/>
<circle cx="280.27" cy="628.79" r="2.3" fill="#3F98FF"/>
<circle cx="247.12" cy="634.21" r="1.4" fill="#58A9FF"/>
<circle cx="259.81" cy="608.43" r="2.3" fill="#7BBCFF"/>
<circle cx="297.83" cy="606.31" r="2.3" fill="#7BBCFF"/>
<circle cx="265.89" cy="623.55" r="2.3" fill="#3F98FF"/>
<circle cx="270.32" cy="598.55" r="0.95" fill="#505050" stroke="none"/>
<circle cx="279.25" cy="620.84" r="1.85" fill="#58A9FF"/>
<circle cx="269.85" cy="602.59" r="2.3" fill="#3F98FF"/>
<circle cx="250.27" cy="591.08" r="0.95" fill="#14335F" stroke="none"/>
<circle cx="281.79" cy="599.93" r="1.85" fill="#58A9FF"/>
<circle cx="273.53" cy="629.96" r="1.4" fill="#3F98FF"/>
<circle cx="265.04" cy="621.08" r="1.4" fill="#3F98FF"/>
<circle cx="276.62" cy="613.72" r="1.4" fill="#E6E6E6"/>
<circle cx="268.47" cy="629.46" r="0.95" fill="#14335F" stroke="none"/>
<circle cx="282.33" cy="594.37" r="0.95" fill="#14335F" stroke="none"/>
<circle cx="273.77" cy="615.5" r="1.85" fill="#58A9FF"/>
<circle cx="293.95" cy="599.52" r="0.95" fill="#14335F" stroke="none"/>
<circle cx="289.37" cy="623.29" r="0.95" fill="#505050" stroke="none"/>
<circle cx="282.4" cy="607.74" r="1.4" fill="#58A9FF"/>
<circle cx="249.6" cy="594.33" r="1.85" fill="#3F98FF"/>
<circle cx="271.95" cy="591.9" r="1.4" fill="#58A9FF"/>
<circle cx="247.98" cy="593.28" r="1.4" fill="#7BBCFF"/>
<circle cx="246.84" cy="592.36" r="1.4" fill="#3F98FF"/>
<circle cx="258.75" cy="612.46" r="1.4" fill="#3F98FF"/>
<circle cx="270.98" cy="615.6" r="1.4" fill="#E6E6E6"/>
<circle cx="275.63" cy="596.06" r="1.4" fill="#7BBCFF"/>
<circle cx="266.57" cy="591.2" r="1.4" fill="#7BBCFF"/>
<circle cx="250.15" cy="615.02" r="1.85" fill="#58A9FF"/>
<circle cx="296.75" cy="610.23" r="1.4" fill="#E6E6E6"/>
<circle cx="273.89" cy="600.7" r="1.85" fill="#3F98FF"/>
<circle cx="285.47" cy="599.73" r="1.4" fill="#58A9FF"/>
<circle cx="298.13" cy="621.42" r="2.95" fill="#7BBCFF"/>
<circle cx="283.23" cy="596.98" r="1.4" fill="#58A9FF"/>
<circle cx="262.78" cy="610.52" r="0.95" fill="#14335F" stroke="none"/>
<circle cx="255.29" cy="601.42" r="1.4" fill="#3F98FF"/>
<circle cx="261.58" cy="600.81" r="2.3" fill="#58A9FF"/>
<circle cx="249.74" cy="612.85" r="2.3" fill="#E6E6E6"/>
<circle cx="290.98" cy="609.84" r="0.95" fill="#505050" stroke="none"/>
<circle cx="260.13" cy="613.93" r="0.95" fill="#505050" stroke="none"/>
<circle cx="272.93" cy="607.11" r="1.4" fill="#7BBCFF"/>
<circle cx="282.13" cy="609.65" r="1.85" fill="#7BBCFF"/>
<circle cx="295.34" cy="608.93" r="1.85" fill="#58A9FF"/>
<circle cx="291.55" cy="620.97" r="2.3" fill="#3F98FF"/>
<circle cx="253.8" cy="607.43" r="1.4" fill="#7BBCFF"/>
<circle cx="294.19" cy="610.43" r="1.85" fill="#3F98FF"/>
<circle cx="262.04" cy="621.57" r="1.4" fill="#7BBCFF"/>
<circle cx="292.22" cy="599.81" r="1.85" fill="#7BBCFF"/>
<circle cx="272.03" cy="604.41" r="0.95" fill="#14335F" stroke="none"/>
<circle cx="266.11" cy="633.56" r="0.95" fill="#505050" stroke="none"/>
<circle cx="300.02" cy="617.1" r="0.95" fill="#14335F" stroke="none"/>
<circle cx="263.4" cy="613.57" r="1.85" fill="#58A9FF"/>
<circle cx="261.25" cy="603.77" r="1.4" fill="#E6E6E6"/>
<circle cx="269.11" cy="611.44" r="0.95" fill="#505050" stroke="none"/>
<circle cx="288.54" cy="601.71" r="1.4" fill="#E6E6E6"/>
<circle cx="270.2" cy="610.4" r="1.85" fill="#2B7EF5"/>
<circle cx="281.17" cy="628.92" r="2.3" fill="#7BBCFF"/>
<circle cx="297.03" cy="620.43" r="0.95" fill="#505050" stroke="none"/>
<circle cx="257.12" cy="637.02" r="0.95" fill="#14335F" stroke="none"/>
<circle cx="275.95" cy="610.36" r="0.95" fill="#14335F" stroke="none"/>
<circle cx="247.37" cy="590.7" r="0.95" fill="#14335F" stroke="none"/>
<circle cx="274.92" cy="614.02" r="2.3" fill="#E6E6E6"/>
<circle cx="276.15" cy="608.09" r="0.95" fill="#505050" stroke="none"/>
<circle cx="258.65" cy="633.1" r="0.95" fill="#14335F" stroke="none"/>
<circle cx="254.4" cy="604.85" r="1.85" fill="#58A9FF"/>
<circle cx="252.97" cy="628.72" r="0.95" fill="#14335F" stroke="none"/>
<circle cx="272.93" cy="613.16" r="1.85" fill="#3F98FF"/>
<circle cx="267.27" cy="592.38" r="1.4" fill="#E6E6E6"/>
<circle cx="291.51" cy="596.33" r="1.85" fill="#3F98FF"/>
<circle cx="248.26" cy="598.14" r="1.85" fill="#7BBCFF"/>
<circle cx="280.38" cy="603.26" r="0.95" fill="#14335F" stroke="none"/>
<circle cx="291.03" cy="625.52" r="0.95" fill="#14335F" stroke="none"/>
<circle cx="270.52" cy="601.17" r="1.85" fill="#58A9FF"/>
<circle cx="294.85" cy="613.84" r="0.95" fill="#14335F" stroke="none"/>
<circle cx="252.58" cy="596.9" r="1.4" fill="#7BBCFF"/>
<circle cx="261.76" cy="594.99" r="2.3" fill="#58A9FF"/>
<circle cx="270.41" cy="596.88" r="0.95" fill="#505050" stroke="none"/>
<circle cx="259.01" cy="605.48" r="0.95" fill="#14335F" stroke="none"/>
<circle cx="278.92" cy="617.5" r="1.85" fill="#A3D1FF"/>
<circle cx="295" cy="618.3" r="1.4" fill="#E6E6E6"/>
<circle cx="270.38" cy="607.48" r="1.4" fill="#E6E6E6"/>
<circle cx="260.66" cy="635.28" r="0.95" fill="#505050" stroke="none"/>
<circle cx="296.52" cy="602.79" r="0.95" fill="#14335F" stroke="none"/>
<circle cx="262.21" cy="605.3" r="2.3" fill="#3F98FF"/>
<circle cx="251" cy="591.58" r="1.85" fill="#A3D1FF"/>
<circle cx="294.58" cy="609.59" r="2.3" fill="#58A9FF"/>
<circle cx="264.41" cy="620.03" r="0.95" fill="#505050" stroke="none"/>
<circle cx="259.48" cy="596.08" r="2.95" fill="#7BBCFF"/>
<circle cx="260.88" cy="626.54" r="2.3" fill="#58A9FF"/>
<circle cx="268.09" cy="604.2" r="1.85" fill="#7BBCFF"/>
<circle cx="263.74" cy="610.83" r="0.95" fill="#14335F" stroke="none"/>
<circle cx="279.79" cy="597.05" r="0.95" fill="#505050" stroke="none"/>
<circle cx="275.05" cy="617.66" r="0.95" fill="#14335F" stroke="none"/>
<circle cx="255.11" cy="612.51" r="2.3" fill="#58A9FF"/>
<circle cx="277.92" cy="615.14" r="1.4" fill="#7BBCFF"/>
<circle cx="282.55" cy="609.59" r="1.4" fill="#7BBCFF"/>
<circle cx="303.24" cy="604.67" r="2.95" fill="#58A9FF"/>
<circle cx="261.89" cy="626.41" r="1.4" fill="#2B7EF5"/>
<circle cx="255.26" cy="636.71" r="2.95" fill="#7BBCFF"/>
<circle cx="300.08" cy="599.65" r="2.3" fill="#58A9FF"/>
<circle cx="259.91" cy="631.61" r="1.4" fill="#3F98FF"/>
<circle cx="249.22" cy="597.24" r="1.85" fill="#3F98FF"/>
<circle cx="288.9" cy="616.44" r="1.4" fill="#58A9FF"/>
<circle cx="292.19" cy="619.13" r="1.85" fill="#7BBCFF"/>
<circle cx="256.7" cy="611.45" r="1.4" fill="#3F98FF"/>
<circle cx="258.04" cy="617.16" r="0.95" fill="#14335F" stroke="none"/>
<circle cx="286.13" cy="609.52" r="1.4" fill="#E6E6E6"/>
<circle cx="267.64" cy="619.71" r="1.4" fill="#7BBCFF"/>
<circle cx="263.4" cy="611.06" r="1.85" fill="#58A9FF"/>
<circle cx="269.76" cy="599.9" r="1.85" fill="#2B7EF5"/>
<circle cx="264.88" cy="630.59" r="0.95" fill="#14335F" stroke="none"/>
<circle cx="250.12" cy="593.68" r="1.4" fill="#7BBCFF"/>
<circle cx="279.42" cy="622.47" r="1.85" fill="#3F98FF"/>
<circle cx="291.12" cy="615.48" r="1.4" fill="#A3D1FF"/>
<circle cx="253.91" cy="589.99" r="0.95" fill="#14335F" stroke="none"/>
<circle cx="300.59" cy="602.9" r="1.85" fill="#58A9FF"/>
<circle cx="260.66" cy="619.11" r="1.4" fill="#2B7EF5"/>
<circle cx="289.93" cy="613.85" r="1.4" fill="#2B7EF5"/>
<circle cx="285.32" cy="615.95" r="2.3" fill="#7BBCFF"/>
<circle cx="268.81" cy="590.86" r="2.95" fill="#58A9FF"/>
<circle cx="290.25" cy="626.11" r="2.95" fill="#A3D1FF"/>
<circle cx="298.9" cy="610.07" r="2.3" fill="#7BBCFF"/>
<circle cx="293.97" cy="614.25" r="0.95" fill="#14335F" stroke="none"/>
<circle cx="302.49" cy="623.13" r="2.95" fill="#58A9FF"/>
<circle cx="268.06" cy="599.8" r="0.95" fill="#14335F" stroke="none"/>
<circle cx="264.29" cy="611.88" r="1.4" fill="#E6E6E6"/>
<circle cx="300.92" cy="598.62" r="0.95" fill="#14335F" stroke="none"/>
<circle cx="270.07" cy="597.78" r="0.95" fill="#14335F" stroke="none"/>
<circle cx="292.17" cy="598.07" r="1.4" fill="#2B7EF5"/>
<circle cx="286.73" cy="615.45" r="0.95" fill="#14335F" stroke="none"/>
<circle cx="254.28" cy="630.24" r="1.85" fill="#58A9FF"/>
<circle cx="254.08" cy="607.92" r="1.4" fill="#2B7EF5"/>
<circle cx="249.54" cy="603.67" r="2.3" fill="#A3D1FF"/>
<circle cx="276.31" cy="609.45" r="1.85" fill="#7BBCFF"/>
<circle cx="268.26" cy="611.61" r="2.95" fill="#3F98FF"/>
<circle cx="254.08" cy="636.97" r="1.4" fill="#7BBCFF"/>
<circle cx="295.9" cy="599.29" r="2.95" fill="#7BBCFF"/>
<circle cx="261.49" cy="598.72" r="1.4" fill="#E6E6E6"/>
<circle cx="296.62" cy="609.6" r="1.85" fill="#E6E6E6"/>
<circle cx="284.92" cy="594.58" r="2.3" fill="#7BBCFF"/>
<circle cx="275.69" cy="623.09" r="2.3" fill="#7BBCFF"/>
<circle cx="280.69" cy="616.97" r="1.4" fill="#58A9FF"/>
<circle cx="279.84" cy="594.41" r="0.95" fill="#14335F" stroke="none"/>
<circle cx="266.52" cy="621.63" r="2.95" fill="#7BBCFF"/>
<circle cx="271.93" cy="628.5" r="0.95" fill="#505050" stroke="none"/>
<circle cx="285.83" cy="607.97" r="1.85" fill="#58A9FF"/>
<circle cx="255.93" cy="614.25" r="1.4" fill="#58A9FF"/>
<circle cx="269.4" cy="623.05" r="2.3" fill="#E6E6E6"/>
<circle cx="273.06" cy="610.2" r="2.95" fill="#2B7EF5"/>
<circle cx="286.93" cy="605.38" r="1.4" fill="#7BBCFF"/>
<circle cx="292.78" cy="599.3" r="0.95" fill="#14335F" stroke="none"/>
<circle cx="275.08" cy="597.31" r="1.4" fill="#E6E6E6"/>
<circle cx="273.37" cy="618.29" r="1.85" fill="#E6E6E6"/>
<circle cx="290.68" cy="616.09" r="1.85" fill="#2B7EF5"/>
<circle cx="259.75" cy="630.25" r="1.85" fill="#58A9FF"/>
<circle cx="298.71" cy="619.03" r="1.4" fill="#E6E6E6"/>
<circle cx="251.57" cy="597.33" r="0.95" fill="#14335F" stroke="none"/>
<circle cx="299.6" cy="612.32" r="1.4" fill="#2B7EF5"/>
<circle cx="303.09" cy="606.08" r="1.4" fill="#7BBCFF"/>
<circle cx="284.5" cy="607.42" r="1.85" fill="#3F98FF"/>
<circle cx="253.85" cy="592.38" r="0.95" fill="#505050" stroke="none"/>
<circle cx="254.22" cy="612" r="0.95" fill="#14335F" stroke="none"/>
<circle cx="257.1" cy="632.49" r="2.3" fill="#7BBCFF"/>
<circle cx="279.43" cy="625.57" r="1.4" fill="#58A9FF"/>
<circle cx="257.23" cy="604.77" r="1.4" fill="#E6E6E6"/>
<circle cx="251.73" cy="638.95" r="0.95" fill="#505050" stroke="none"/>
<circle cx="252.32" cy="602.81" r="1.85" fill="#A3D1FF"/>
<circle cx="253.56" cy="638.01" r="2.95" fill="#3F98FF"/>
<circle cx="265.49" cy="598.13" r="1.85" fill="#3F98FF"/>
<circle cx="257" cy="633.33" r="0.95" fill="#14335F" stroke="none"/>
<circle cx="303.44" cy="603.42" r="1.85" fill="#58A9FF"/>
<circle cx="286" cy="618.45" r="0.95" fill="#14335F" stroke="none"/>
<circle cx="261.46" cy="621.95" r="0.95" fill="#14335F" stroke="none"/>
<circle cx="293.28" cy="598.11" r="2.3" fill="#58A9FF"/>
<circle cx="292.45" cy="624.37" r="0.95" fill="#14335F" stroke="none"/>
<circle cx="277.68" cy="608.89" r="1.85" fill="#E6E6E6"/>
<circle cx="265.86" cy="606.44" r="1.4" fill="#3F98FF"/>
<circle cx="291.86" cy="596.99" r="1.85" fill="#E6E6E6"/>
<circle cx="257.58" cy="607.36" r="0.95" fill="#14335F" stroke="none"/>
<circle cx="282.71" cy="610.37" r="1.85" fill="#2B7EF5"/>
<circle cx="297" cy="597.3" r="0.95" fill="#505050" stroke="none"/>
<circle cx="282.79" cy="608" r="0.95" fill="#14335F" stroke="none"/>
<circle cx="276.16" cy="601.23" r="0.95" fill="#14335F" stroke="none"/>
<circle cx="282.1" cy="615.4" r="2.3" fill="#3F98FF"/>
<circle cx="254.06" cy="602.21" r="2.95" fill="#58A9FF"/>
<circle cx="271.23" cy="598.54" r="1.85" fill="#A3D1FF"/>
<circle cx="291.2" cy="625.73" r="0.95" fill="#505050" stroke="none"/>
<circle cx="273.1" cy="631.1" r="1.4" fill="#7BBCFF"/>
<circle cx="267.59" cy="607.04" r="1.4" fill="#7BBCFF"/>
<circle cx="250.87" cy="604.87" r="1.85" fill="#58A9FF"/>
<circle cx="263.79" cy="606.55" r="1.4" fill="#3F98FF"/>
<circle cx="288.71" cy="605.81" r="2.3" fill="#58A9FF"/>
<circle cx="316.28" cy="625.47" r="2.3" fill="#A3D1FF"/>
<circle cx="311.07" cy="603.62" r="1.4" fill="#58A9FF"/>
<circle cx="313.66" cy="624.68" r="2.3" fill="#58A9FF"/>
<circle cx="312.33" cy="603.1" r="1.85" fill="#3F98FF"/>
<circle cx="316.11" cy="624.02" r="1.85" fill="#3F98FF"/>
<circle cx="310.35" cy="600.19" r="1.85" fill="#58A9FF"/>
<circle cx="316.9" cy="618.37" r="1.85" fill="#3F98FF"/>
<circle cx="310.35" cy="606.86" r="2.3" fill="#7BBCFF"/>
<circle cx="316.46" cy="619.69" r="0.95" fill="#505050" stroke="none"/>
<circle cx="318.24" cy="616.81" r="0.95" fill="#14335F" stroke="none"/>
<circle cx="319.19" cy="619.29" r="2.3" fill="#7BBCFF"/>
<circle cx="307.71" cy="608.21" r="1.85" fill="#58A9FF"/>
<circle cx="320.95" cy="621.23" r="1.85" fill="#3F98FF"/>
<circle cx="309.58" cy="604.48" r="1.4" fill="#58A9FF"/>
<circle cx="318.07" cy="618.63" r="0.95" fill="#14335F" stroke="none"/>
<circle cx="318.55" cy="611.62" r="0.95" fill="#14335F" stroke="none"/>
<circle cx="308.37" cy="609.07" r="1.85" fill="#7BBCFF"/>
<circle cx="317.73" cy="616.06" r="1.85" fill="#2B7EF5"/>
<circle cx="310.62" cy="603.17" r="0.95" fill="#14335F" stroke="none"/>
<circle cx="319.17" cy="618.16" r="1.85" fill="#7BBCFF"/>
<circle cx="316.07" cy="623.59" r="1.4" fill="#58A9FF"/>
<circle cx="304.58" cy="596.6" r="1.85" fill="#7BBCFF"/>
<circle cx="316.37" cy="622.99" r="1.4" fill="#E6E6E6"/>
<circle cx="310.29" cy="600.84" r="1.85" fill="#7BBCFF"/>
<circle cx="312.16" cy="601.82" r="0.95" fill="#505050" stroke="none"/>
<circle cx="317.62" cy="600.26" r="0.95" fill="#505050" stroke="none"/>
<circle cx="318.12" cy="615.36" r="0.95" fill="#14335F" stroke="none"/>
<circle cx="311.78" cy="600.87" r="2.3" fill="#3F98FF"/>
<circle cx="308.97" cy="607.37" r="1.85" fill="#E6E6E6"/>
<circle cx="309.57" cy="615.63" r="0.95" fill="#505050" stroke="none"/>
<circle cx="317.8" cy="624.02" r="2.3" fill="#E6E6E6"/>
<circle cx="305.5" cy="615.18" r="1.4" fill="#58A9FF"/>
<circle cx="304.31" cy="597.02" r="1.4" fill="#58A9FF"/>
<circle cx="314.35" cy="607.27" r="0.95" fill="#14335F" stroke="none"/>
<circle cx="304.84" cy="605.89" r="1.4" fill="#58A9FF"/>
<circle cx="309.19" cy="612.78" r="1.4" fill="#58A9FF"/>
<circle cx="312.91" cy="618.22" r="1.4" fill="#58A9FF"/>
<circle cx="307.62" cy="608.04" r="1.85" fill="#58A9FF"/>
<circle cx="309.78" cy="625.73" r="2.3" fill="#58A9FF"/>
<circle cx="307.77" cy="610.83" r="2.3" fill="#E6E6E6"/>
<circle cx="303.49" cy="597.16" r="1.4" fill="#2B7EF5"/>
<circle cx="310.84" cy="599.52" r="1.4" fill="#58A9FF"/>
<circle cx="308.82" cy="624.57" r="1.4" fill="#3F98FF"/>
<circle cx="311.1" cy="603.94" r="1.85" fill="#7BBCFF"/>
<circle cx="314.75" cy="606.9" r="1.4" fill="#58A9FF"/>
<circle cx="285.14" cy="595.47" r="1.85" fill="#3F98FF"/>
<circle cx="253.72" cy="589.22" r="1.4" fill="#A3D1FF"/>
<circle cx="255.86" cy="588.82" r="0.95" fill="#14335F" stroke="none"/>
<circle cx="253.15" cy="588.58" r="2.3" fill="#2B7EF5"/>
<circle cx="251.68" cy="590.7" r="1.4" fill="#3F98FF"/>
<circle cx="284.96" cy="595.32" r="1.4" fill="#7BBCFF"/>
<circle cx="284.91" cy="594.25" r="1.4" fill="#7BBCFF"/>
<circle cx="291.73" cy="591.1" r="2.3" fill="#3F98FF"/>
<circle cx="253.34" cy="587.01" r="2.3" fill="#7BBCFF"/>
<circle cx="302.74" cy="588.18" r="1.4" fill="#3F98FF"/>
<circle cx="318.4" cy="598.05" r="0.95" fill="#505050" stroke="none"/>
<circle cx="285.8" cy="594.22" r="1.4" fill="#3F98FF"/>
<circle cx="290.53" cy="591.2" r="1.85" fill="#3F98FF"/>
<circle cx="265.59" cy="573.49" r="1.85" fill="#2B7EF5"/>
<circle cx="255.96" cy="584.15" r="1.85" fill="#3F98FF"/>
<circle cx="302.37" cy="589.52" r="1.4" fill="#58A9FF"/>
<circle cx="255.58" cy="585.25" r="1.4" fill="#58A9FF"/>
<circle cx="259.38" cy="573.16" r="2.3" fill="#58A9FF"/>
<circle cx="304.45" cy="587.34" r="1.4" fill="#7BBCFF"/>
<circle cx="303.01" cy="588.62" r="2.3" fill="#58A9FF"/>
<circle cx="260.15" cy="577.13" r="2.3" fill="#7BBCFF"/>
<circle cx="293.22" cy="588.64" r="0.95" fill="#14335F" stroke="none"/>
<circle cx="247.8" cy="589.54" r="1.4" fill="#7BBCFF"/>
<circle cx="285.71" cy="592.5" r="1.85" fill="#58A9FF"/>
<circle cx="292.56" cy="591.73" r="1.85" fill="#58A9FF"/>
<circle cx="298.85" cy="578.98" r="2.3" fill="#E6E6E6"/>
<circle cx="298.6" cy="578.03" r="0.95" fill="#505050" stroke="none"/>
<circle cx="248.48" cy="589.92" r="1.4" fill="#58A9FF"/>
<circle cx="302.95" cy="589.76" r="1.85" fill="#58A9FF"/>
<circle cx="266.75" cy="570.8" r="0.95" fill="#14335F" stroke="none"/>
<circle cx="323.59" cy="592.24" r="0.95" fill="#14335F" stroke="none"/>
<circle cx="259.51" cy="571.59" r="1.4" fill="#3F98FF"/>
<circle cx="311.32" cy="584.07" r="2.95" fill="#E6E6E6"/>
<circle cx="311.93" cy="584.67" r="1.85" fill="#58A9FF"/>
<circle cx="266.46" cy="572.52" r="0.95" fill="#14335F" stroke="none"/>
<circle cx="253.86" cy="585.08" r="2.3" fill="#58A9FF"/>
<circle cx="251.64" cy="572.77" r="1.85" fill="#58A9FF"/>
<circle cx="295.16" cy="585.92" r="1.85" fill="#7BBCFF"/>
<circle cx="254.13" cy="581.1" r="1.4" fill="#2B7EF5"/>
<circle cx="270.4" cy="580.82" r="0.95" fill="#14335F" stroke="none"/>
<circle cx="261.08" cy="578.66" r="0.95" fill="#505050" stroke="none"/>
<circle cx="246.82" cy="583.83" r="2.3" fill="#A3D1FF"/>
<circle cx="319.17" cy="596.65" r="0.95" fill="#505050" stroke="none"/>
<circle cx="319.07" cy="597.72" r="1.85" fill="#7BBCFF"/>
<circle cx="255.32" cy="586.41" r="1.4" fill="#E6E6E6"/>
<circle cx="290.4" cy="571.76" r="1.4" fill="#E6E6E6"/>
<circle cx="251.84" cy="575.88" r="1.85" fill="#2B7EF5"/>
<circle cx="303.29" cy="573.3" r="1.4" fill="#58A9FF"/>
<circle cx="251.91" cy="573.18" r="1.85" fill="#58A9FF"/>
<circle cx="256.72" cy="586.89" r="1.85" fill="#7BBCFF"/>
<circle cx="293.4" cy="575.98" r="1.4" fill="#3F98FF"/>
<circle cx="269.89" cy="573.9" r="1.85" fill="#58A9FF"/>
<circle cx="291.52" cy="590.83" r="1.85" fill="#E6E6E6"/>
<circle cx="253.7" cy="588.04" r="1.4" fill="#7BBCFF"/>
<circle cx="296.19" cy="587.32" r="2.3" fill="#E6E6E6"/>
<circle cx="321.62" cy="598.69" r="1.85" fill="#58A9FF"/>
<circle cx="255.88" cy="583.42" r="2.3" fill="#7BBCFF"/>
<circle cx="285.87" cy="587.82" r="1.85" fill="#58A9FF"/>
<circle cx="262.81" cy="577.52" r="2.3" fill="#E6E6E6"/>
<circle cx="317.1" cy="590.83" r="2.3" fill="#E6E6E6"/>
<circle cx="260.51" cy="644.14" r="2.3" fill="#E6E6E6"/>
<circle cx="255.36" cy="646.72" r="1.85" fill="#7BBCFF"/>
<circle cx="255.11" cy="646.69" r="0.95" fill="#14335F" stroke="none"/>
<circle cx="252.74" cy="643.34" r="1.85" fill="#7BBCFF"/>
<circle cx="262.77" cy="642.89" r="0.95" fill="#505050" stroke="none"/>
<circle cx="262.99" cy="639.32" r="2.3" fill="#3F98FF"/>
<circle cx="247.75" cy="648.64" r="0.95" fill="#505050" stroke="none"/>
<circle cx="252.52" cy="647.94" r="1.85" fill="#58A9FF"/>
<circle cx="247.86" cy="647.61" r="0.95" fill="#505050" stroke="none"/>
<circle cx="260" cy="641.58" r="1.4" fill="#E6E6E6"/>
<circle cx="263.56" cy="644.45" r="1.85" fill="#7BBCFF"/>
<circle cx="257.1" cy="643.92" r="0.95" fill="#14335F" stroke="none"/>
<circle cx="247.6" cy="643.08" r="0.95" fill="#14335F" stroke="none"/>
<circle cx="247.3" cy="647.68" r="1.85" fill="#E6E6E6"/>
<circle cx="262.33" cy="644.83" r="0.95" fill="#14335F" stroke="none"/>
<circle cx="258.7" cy="642.18" r="0.95" fill="#14335F" stroke="none"/>
<circle cx="250.51" cy="641.23" r="1.4" fill="#58A9FF"/>
<circle cx="262.37" cy="649.4" r="1.4" fill="#58A9FF"/>
<circle cx="255.62" cy="649.13" r="0.95" fill="#505050" stroke="none"/>
<circle cx="262.3" cy="643.45" r="1.4" fill="#58A9FF"/>
<circle cx="251.75" cy="647.8" r="1.4" fill="#3F98FF"/>
<circle cx="252.02" cy="645.32" r="0.95" fill="#14335F" stroke="none"/>
<circle cx="251.25" cy="649.36" r="0.95" fill="#505050" stroke="none"/>
<circle cx="247.17" cy="644.08" r="1.4" fill="#3F98FF"/>
<circle cx="247.67" cy="645.13" r="0.95" fill="#14335F" stroke="none"/>
<circle cx="263.28" cy="638.6" r="0.95" fill="#14335F" stroke="none"/>
<circle cx="250.77" cy="643.46" r="0.95" fill="#14335F" stroke="none"/>
<circle cx="249.83" cy="645.73" r="0.95" fill="#14335F" stroke="none"/>
<circle cx="248.23" cy="648.65" r="1.85" fill="#7BBCFF"/>
<circle cx="263.33" cy="645.36" r="0.95" fill="#505050" stroke="none"/>
<circle cx="213.39" cy="640.18" r="0.95" fill="#14335F" stroke="none"/>
<circle cx="157.95" cy="605.03" r="0.95" fill="#14335F" stroke="none"/>
<circle cx="170.82" cy="583.75" r="0.95" fill="#505050" stroke="none"/>
<circle cx="152.14" cy="642.89" r="0.95" fill="#505050" stroke="none"/>
<circle cx="182.36" cy="636.36" r="0.95" fill="#505050" stroke="none"/>
<circle cx="170.28" cy="584.62" r="0.95" fill="#14335F" stroke="none"/>
<circle cx="159.05" cy="643.08" r="0.95" fill="#14335F" stroke="none"/>
<circle cx="154.72" cy="579.1" r="0.95" fill="#505050" stroke="none"/>
<circle cx="200.1" cy="639.14" r="0.95" fill="#14335F" stroke="none"/>
<circle cx="158.37" cy="605.13" r="0.95" fill="#14335F" stroke="none"/>
<circle cx="202.07" cy="599.63" r="0.95" fill="#14335F" stroke="none"/>
<circle cx="174.8" cy="603.13" r="0.95" fill="#14335F" stroke="none"/>
<circle cx="176.23" cy="608" r="0.95" fill="#14335F" stroke="none"/>
<circle cx="158.65" cy="598.54" r="0.95" fill="#14335F" stroke="none"/>
<circle cx="164.02" cy="588.14" r="0.95" fill="#14335F" stroke="none"/>
<circle cx="165.33" cy="632.8" r="0.95" fill="#14335F" stroke="none"/>
<circle cx="215.45" cy="643.98" r="0.95" fill="#14335F" stroke="none"/>
<circle cx="180.32" cy="633.94" r="0.95" fill="#14335F" stroke="none"/>
<circle cx="197.25" cy="600.02" r="0.95" fill="#14335F" stroke="none"/>
<circle cx="158.69" cy="597.94" r="0.95" fill="#14335F" stroke="none"/>
<circle cx="210.37" cy="638.4" r="0.95" fill="#505050" stroke="none"/>
<circle cx="193.72" cy="622.62" r="0.95" fill="#14335F" stroke="none"/>
<circle cx="168.2" cy="648.91" r="0.95" fill="#505050" stroke="none"/>
<circle cx="178.79" cy="597.61" r="0.95" fill="#505050" stroke="none"/>
<circle cx="201.73" cy="591.81" r="0.95" fill="#14335F" stroke="none"/>
<circle cx="202.58" cy="631.69" r="0.95" fill="#14335F" stroke="none"/>
<circle cx="204.4" cy="633.27" r="0.95" fill="#14335F" stroke="none"/>
<circle cx="181.91" cy="639.3" r="0.95" fill="#14335F" stroke="none"/>
<circle cx="213.02" cy="624.72" r="0.95" fill="#505050" stroke="none"/>
<circle cx="194.07" cy="598.78" r="0.95" fill="#505050" stroke="none"/>
<circle cx="200.27" cy="598.52" r="0.95" fill="#14335F" stroke="none"/>
<circle cx="197" cy="586.27" r="0.95" fill="#14335F" stroke="none"/>
<circle cx="187.49" cy="644.12" r="0.95" fill="#14335F" stroke="none"/>
<circle cx="183.61" cy="624.6" r="0.95" fill="#14335F" stroke="none"/>
<circle cx="181.06" cy="584.12" r="0.95" fill="#14335F" stroke="none"/>
<circle cx="157.86" cy="586.68" r="0.95" fill="#505050" stroke="none"/>
<circle cx="172.85" cy="624.69" r="0.95" fill="#14335F" stroke="none"/>
<circle cx="205.98" cy="650.43" r="0.95" fill="#505050" stroke="none"/>
<circle cx="179.36" cy="650.95" r="0.95" fill="#14335F" stroke="none"/>
<circle cx="214.22" cy="613.02" r="0.95" fill="#505050" stroke="none"/>
<circle cx="155" cy="607.97" r="0.95" fill="#14335F" stroke="none"/>
<circle cx="153.39" cy="603.09" r="0.95" fill="#14335F" stroke="none"/>
<circle cx="174.37" cy="641.91" r="0.95" fill="#14335F" stroke="none"/>
<circle cx="212.21" cy="610.43" r="0.95" fill="#14335F" stroke="none"/>
<circle cx="176.32" cy="567.08" r="0.95" fill="#14335F" stroke="none"/>
<circle cx="176.25" cy="626.93" r="0.95" fill="#14335F" stroke="none"/>
<circle cx="162.09" cy="579.65" r="0.95" fill="#14335F" stroke="none"/>
<circle cx="164.18" cy="631.41" r="0.95" fill="#14335F" stroke="none"/>
<circle cx="171.43" cy="643.2" r="0.95" fill="#14335F" stroke="none"/>
<circle cx="176.18" cy="604.72" r="0.95" fill="#505050" stroke="none"/>
<circle cx="178.24" cy="651.47" r="0.95" fill="#14335F" stroke="none"/>
<circle cx="173.04" cy="603.1" r="0.95" fill="#14335F" stroke="none"/>
<circle cx="177.04" cy="654.92" r="0.95" fill="#14335F" stroke="none"/>
<circle cx="183.36" cy="635.48" r="0.95" fill="#14335F" stroke="none"/>
<circle cx="173.73" cy="571.16" r="0.95" fill="#14335F" stroke="none"/>
<circle cx="110.51" cy="575.89" r="0.95" fill="#14335F" stroke="none"/>
<circle cx="97.59" cy="579.62" r="0.95" fill="#14335F" stroke="none"/>
<circle cx="109.76" cy="575.52" r="0.95" fill="#14335F" stroke="none"/>
<circle cx="64.54" cy="581.73" r="0.95" fill="#505050" stroke="none"/>
<circle cx="116.15" cy="586.63" r="0.95" fill="#14335F" stroke="none"/>
<circle cx="80.53" cy="578.81" r="0.95" fill="#14335F" stroke="none"/>
<circle cx="68.8" cy="578.79" r="0.95" fill="#505050" stroke="none"/>
<circle cx="127.85" cy="573.15" r="0.95" fill="#14335F" stroke="none"/>
<circle cx="104.88" cy="580.36" r="0.95" fill="#14335F" stroke="none"/>
<circle cx="126.71" cy="579.34" r="0.95" fill="#505050" stroke="none"/>
<circle cx="76.05" cy="584.3" r="0.95" fill="#505050" stroke="none"/>
<circle cx="127.09" cy="578.53" r="0.95" fill="#14335F" stroke="none"/>
<circle cx="135.33" cy="585.73" r="0.95" fill="#14335F" stroke="none"/>
<circle cx="80.16" cy="580.78" r="0.95" fill="#505050" stroke="none"/>
<circle cx="121.52" cy="583.87" r="0.95" fill="#505050" stroke="none"/>
<circle cx="90.02" cy="587.13" r="0.95" fill="#505050" stroke="none"/>
<circle cx="105.18" cy="580.47" r="0.95" fill="#505050" stroke="none"/>
<circle cx="77.35" cy="583.05" r="0.95" fill="#14335F" stroke="none"/>
<circle cx="126.3" cy="591.66" r="0.95" fill="#14335F" stroke="none"/>
<circle cx="118.84" cy="590.36" r="0.95" fill="#505050" stroke="none"/>
<circle cx="105.04" cy="585.56" r="0.95" fill="#505050" stroke="none"/>
<circle cx="99" cy="577.15" r="0.95" fill="#14335F" stroke="none"/>
<circle cx="89.93" cy="583.28" r="0.95" fill="#505050" stroke="none"/>
<circle cx="107.5" cy="590.85" r="0.95" fill="#14335F" stroke="none"/>
<circle cx="112.43" cy="580.83" r="0.95" fill="#14335F" stroke="none"/>
<circle cx="135.37" cy="581.13" r="0.95" fill="#14335F" stroke="none"/>
<circle cx="68.16" cy="577.87" r="0.95" fill="#14335F" stroke="none"/>
<circle cx="131.78" cy="577.77" r="0.95" fill="#14335F" stroke="none"/>
<circle cx="120.26" cy="584.77" r="0.95" fill="#14335F" stroke="none"/>
<circle cx="96.56" cy="589.85" r="0.95" fill="#14335F" stroke="none"/>
<circle cx="79.22" cy="587.55" r="0.95" fill="#505050" stroke="none"/>
<circle cx="76.41" cy="585.73" r="0.95" fill="#505050" stroke="none"/>
<circle cx="134.66" cy="573.02" r="0.95" fill="#14335F" stroke="none"/>
<circle cx="71.36" cy="586.02" r="0.95" fill="#14335F" stroke="none"/>
<circle cx="118.69" cy="578.04" r="0.95" fill="#14335F" stroke="none"/>
<circle cx="79.67" cy="586.35" r="0.95" fill="#14335F" stroke="none"/>
<circle cx="80.05" cy="591.31" r="0.95" fill="#14335F" stroke="none"/>
<circle cx="124.6" cy="584.59" r="0.95" fill="#14335F" stroke="none"/>
<circle cx="130.82" cy="590.11" r="0.95" fill="#14335F" stroke="none"/>
<circle cx="120.96" cy="582.11" r="0.95" fill="#505050" stroke="none"/>
<circle cx="64.11" cy="575.02" r="0.95" fill="#505050" stroke="none"/>
<circle cx="99.66" cy="576.49" r="0.95" fill="#14335F" stroke="none"/>
<circle cx="107.62" cy="585.5" r="0.95" fill="#14335F" stroke="none"/>
<circle cx="103.06" cy="582.01" r="0.95" fill="#14335F" stroke="none"/>
<circle cx="106.09" cy="578.94" r="0.95" fill="#505050" stroke="none"/>
<circle cx="283.65" cy="567.57" r="0.95" fill="#505050" stroke="none"/>
<circle cx="311.86" cy="568.91" r="0.95" fill="#505050" stroke="none"/>
<circle cx="265.64" cy="581.28" r="0.95" fill="#505050" stroke="none"/>
<circle cx="273.67" cy="581.69" r="0.95" fill="#14335F" stroke="none"/>
<circle cx="322.54" cy="589.54" r="0.95" fill="#14335F" stroke="none"/>
<circle cx="275.36" cy="548.82" r="0.95" fill="#14335F" stroke="none"/>
<circle cx="315.91" cy="548.51" r="0.95" fill="#14335F" stroke="none"/>
<circle cx="331.94" cy="551.45" r="0.95" fill="#14335F" stroke="none"/>
<circle cx="329.64" cy="581.31" r="0.95" fill="#14335F" stroke="none"/>
<circle cx="290.51" cy="591.87" r="0.95" fill="#505050" stroke="none"/>
<circle cx="297.14" cy="554.96" r="0.95" fill="#505050" stroke="none"/>
<circle cx="324.39" cy="569.74" r="0.95" fill="#505050" stroke="none"/>
<circle cx="322.35" cy="588.72" r="0.95" fill="#14335F" stroke="none"/>
<circle cx="282.29" cy="587.77" r="0.95" fill="#14335F" stroke="none"/>
<circle cx="291.87" cy="553.53" r="0.95" fill="#14335F" stroke="none"/>
<circle cx="312.75" cy="572.31" r="0.95" fill="#505050" stroke="none"/>
<circle cx="282.38" cy="569.4" r="0.95" fill="#505050" stroke="none"/>
<circle cx="267.01" cy="555.99" r="0.95" fill="#14335F" stroke="none"/>
<circle cx="312.6" cy="550.65" r="0.95" fill="#14335F" stroke="none"/>
<circle cx="284.42" cy="575.99" r="0.95" fill="#14335F" stroke="none"/>
<circle cx="284.17" cy="591.22" r="0.95" fill="#14335F" stroke="none"/>
<circle cx="259.6" cy="569.9" r="0.95" fill="#14335F" stroke="none"/>
<circle cx="313.2" cy="576.43" r="0.95" fill="#14335F" stroke="none"/>
<circle cx="293.83" cy="591.25" r="0.95" fill="#14335F" stroke="none"/>
<circle cx="265.17" cy="572.69" r="0.95" fill="#14335F" stroke="none"/>
<circle cx="322.86" cy="584.78" r="0.95" fill="#14335F" stroke="none"/>
<circle cx="255.28" cy="577.99" r="0.95" fill="#14335F" stroke="none"/>
<circle cx="282.3" cy="572.06" r="0.95" fill="#14335F" stroke="none"/>
<circle cx="275.54" cy="581.88" r="0.95" fill="#14335F" stroke="none"/>
<circle cx="312.08" cy="551.06" r="0.95" fill="#14335F" stroke="none"/>
<circle cx="291.5" cy="550.36" r="0.95" fill="#14335F" stroke="none"/>
<circle cx="317.9" cy="567.3" r="0.95" fill="#14335F" stroke="none"/>
<circle cx="316.49" cy="566.23" r="0.95" fill="#14335F" stroke="none"/>
<circle cx="281.39" cy="576.42" r="0.95" fill="#14335F" stroke="none"/>
<circle cx="289.42" cy="557.05" r="0.95" fill="#14335F" stroke="none"/>
<circle cx="310.17" cy="555.76" r="0.95" fill="#14335F" stroke="none"/>
<circle cx="294.91" cy="589.45" r="0.95" fill="#14335F" stroke="none"/>
<circle cx="331.94" cy="573.56" r="0.95" fill="#14335F" stroke="none"/>
<circle cx="274.24" cy="571.81" r="0.95" fill="#14335F" stroke="none"/>
<circle cx="267.12" cy="569.27" r="0.95" fill="#14335F" stroke="none"/>
<circle cx="331.5" cy="556.44" r="0.95" fill="#505050" stroke="none"/>
<circle cx="328.7" cy="568.49" r="0.95" fill="#505050" stroke="none"/>
<circle cx="318.38" cy="585.84" r="0.95" fill="#14335F" stroke="none"/>
<circle cx="253.56" cy="584.19" r="0.95" fill="#505050" stroke="none"/>
<circle cx="298.19" cy="591.27" r="0.95" fill="#14335F" stroke="none"/>
<circle cx="320.03" cy="614.11" r="0.95" fill="#505050" stroke="none"/>
<circle cx="326.25" cy="638.84" r="0.95" fill="#14335F" stroke="none"/>
<circle cx="250.87" cy="620.03" r="0.95" fill="#14335F" stroke="none"/>
<circle cx="320.18" cy="622.3" r="0.95" fill="#14335F" stroke="none"/>
<circle cx="277.18" cy="618.3" r="0.95" fill="#505050" stroke="none"/>
<circle cx="320.93" cy="615.51" r="0.95" fill="#14335F" stroke="none"/>
<circle cx="312.82" cy="628.66" r="0.95" fill="#14335F" stroke="none"/>
<circle cx="257.72" cy="603.09" r="0.95" fill="#14335F" stroke="none"/>
<circle cx="259.61" cy="602.31" r="0.95" fill="#14335F" stroke="none"/>
<circle cx="258.31" cy="602.19" r="0.95" fill="#14335F" stroke="none"/>
<circle cx="314.09" cy="599.44" r="0.95" fill="#14335F" stroke="none"/>
<circle cx="256.57" cy="601.79" r="0.95" fill="#505050" stroke="none"/>
<circle cx="257.5" cy="606.69" r="0.95" fill="#14335F" stroke="none"/>
<circle cx="325.93" cy="638.75" r="0.95" fill="#505050" stroke="none"/>
<circle cx="260.53" cy="645.94" r="0.95" fill="#14335F" stroke="none"/>
<circle cx="258.23" cy="603.62" r="0.95" fill="#14335F" stroke="none"/>
<circle cx="293.47" cy="620.64" r="0.95" fill="#505050" stroke="none"/>
<circle cx="310.24" cy="613.44" r="0.95" fill="#14335F" stroke="none"/>
<circle cx="329.92" cy="602.32" r="0.95" fill="#14335F" stroke="none"/>
<circle cx="263.74" cy="641.9" r="0.95" fill="#14335F" stroke="none"/>
<circle cx="304.33" cy="637.38" r="0.95" fill="#505050" stroke="none"/>
<circle cx="246.69" cy="629.58" r="0.95" fill="#14335F" stroke="none"/>
<circle cx="292.08" cy="624.34" r="0.95" fill="#505050" stroke="none"/>
<circle cx="310.22" cy="612.51" r="0.95" fill="#14335F" stroke="none"/>
<circle cx="265.7" cy="601.99" r="0.95" fill="#14335F" stroke="none"/>
<circle cx="318.68" cy="620.6" r="0.95" fill="#505050" stroke="none"/>
<circle cx="265.6" cy="596.18" r="0.95" fill="#14335F" stroke="none"/>
<circle cx="263.49" cy="641.69" r="0.95" fill="#505050" stroke="none"/>
<circle cx="253.11" cy="605.45" r="0.95" fill="#14335F" stroke="none"/>
<circle cx="319.54" cy="624.42" r="0.95" fill="#14335F" stroke="none"/>
<circle cx="279.13" cy="632.56" r="0.95" fill="#14335F" stroke="none"/>
<circle cx="272.07" cy="634.75" r="0.95" fill="#505050" stroke="none"/>
<circle cx="267.96" cy="593.27" r="0.95" fill="#14335F" stroke="none"/>
<circle cx="323.51" cy="598.78" r="0.95" fill="#14335F" stroke="none"/>
<circle cx="260.63" cy="592.23" r="0.95" fill="#14335F" stroke="none"/>
<circle cx="262.6" cy="609.56" r="0.95" fill="#505050" stroke="none"/>
<circle cx="310.64" cy="648.17" r="0.95" fill="#14335F" stroke="none"/>
<circle cx="307.72" cy="612.1" r="0.95" fill="#14335F" stroke="none"/>
<circle cx="287.03" cy="634.64" r="0.95" fill="#14335F" stroke="none"/>
<circle cx="258.05" cy="600.22" r="0.95" fill="#505050" stroke="none"/>
<circle cx="282.51" cy="600.3" r="0.95" fill="#14335F" stroke="none"/>
<circle cx="287.34" cy="645.42" r="0.95" fill="#14335F" stroke="none"/>
<circle cx="296.99" cy="645.37" r="0.95" fill="#505050" stroke="none"/>
<circle cx="309.01" cy="618.6" r="0.95" fill="#14335F" stroke="none"/>
<circle cx="267.95" cy="638.74" r="0.95" fill="#14335F" stroke="none"/>
<circle cx="290.55" cy="606.05" r="0.95" fill="#14335F" stroke="none"/>
<circle cx="259.63" cy="610.42" r="0.95" fill="#14335F" stroke="none"/>
<circle cx="297.13" cy="622.47" r="0.95" fill="#505050" stroke="none"/>
<circle cx="268.61" cy="642.46" r="0.95" fill="#505050" stroke="none"/>
<circle cx="325.04" cy="600.75" r="0.95" fill="#505050" stroke="none"/>
<circle cx="72.28" cy="623.55" r="0.95" fill="#14335F" stroke="none"/>
<circle cx="64.45" cy="639.34" r="0.95" fill="#14335F" stroke="none"/>
<circle cx="73.17" cy="624.28" r="0.95" fill="#14335F" stroke="none"/>
<circle cx="132.8" cy="602.38" r="0.95" fill="#14335F" stroke="none"/>
<circle cx="134.68" cy="608.35" r="0.95" fill="#14335F" stroke="none"/>
<circle cx="95.01" cy="601.1" r="0.95" fill="#505050" stroke="none"/>
<circle cx="117.2" cy="640.85" r="0.95" fill="#14335F" stroke="none"/>
<circle cx="95.79" cy="600.49" r="0.95" fill="#505050" stroke="none"/>
<circle cx="78.28" cy="598.84" r="0.95" fill="#14335F" stroke="none"/>
<circle cx="73.62" cy="592.89" r="0.95" fill="#14335F" stroke="none"/>
<circle cx="90.64" cy="650.91" r="0.95" fill="#14335F" stroke="none"/>
<circle cx="97.12" cy="604.47" r="0.95" fill="#14335F" stroke="none"/>
<circle cx="122.43" cy="609.36" r="0.95" fill="#14335F" stroke="none"/>
<circle cx="85.58" cy="598.15" r="0.95" fill="#14335F" stroke="none"/>
<circle cx="69.27" cy="600.35" r="0.95" fill="#14335F" stroke="none"/>
<circle cx="91.37" cy="617.71" r="0.95" fill="#505050" stroke="none"/>
<circle cx="74.15" cy="594.46" r="0.95" fill="#505050" stroke="none"/>
<circle cx="133.86" cy="607.51" r="0.95" fill="#14335F" stroke="none"/>
<circle cx="101.61" cy="647.69" r="0.95" fill="#14335F" stroke="none"/>
<circle cx="98.85" cy="593.75" r="0.95" fill="#14335F" stroke="none"/>
<circle cx="116.89" cy="636.5" r="0.95" fill="#14335F" stroke="none"/>
<circle cx="64.63" cy="638.23" r="0.95" fill="#14335F" stroke="none"/>
<circle cx="70.23" cy="639.36" r="0.95" fill="#14335F" stroke="none"/>
<circle cx="109.82" cy="645.67" r="0.95" fill="#505050" stroke="none"/>
<circle cx="116.93" cy="638.67" r="0.95" fill="#14335F" stroke="none"/>
<circle cx="109.32" cy="597.77" r="0.95" fill="#14335F" stroke="none"/>
<circle cx="79.27" cy="598.47" r="0.95" fill="#14335F" stroke="none"/>
<circle cx="70.8" cy="637.57" r="0.95" fill="#14335F" stroke="none"/>
<circle cx="72.65" cy="638.87" r="0.95" fill="#505050" stroke="none"/>
<circle cx="125.42" cy="607.45" r="0.95" fill="#14335F" stroke="none"/>
<circle cx="353" cy="608.03" r="0.95" fill="#14335F" stroke="none"/>
<circle cx="393.88" cy="601.41" r="0.95" fill="#505050" stroke="none"/>
<circle cx="422.24" cy="595.11" r="0.95" fill="#14335F" stroke="none"/>
<circle cx="341.87" cy="638.07" r="0.95" fill="#14335F" stroke="none"/>
<circle cx="343.12" cy="638.91" r="0.95" fill="#14335F" stroke="none"/>
<circle cx="373.25" cy="599.53" r="0.95" fill="#505050" stroke="none"/>
<circle cx="384.02" cy="595.57" r="0.95" fill="#14335F" stroke="none"/>
<circle cx="421.57" cy="594.69" r="0.95" fill="#14335F" stroke="none"/>
<circle cx="385.1" cy="638.27" r="0.95" fill="#14335F" stroke="none"/>
<circle cx="384.69" cy="638.13" r="0.95" fill="#14335F" stroke="none"/>
<circle cx="369.97" cy="636.63" r="0.95" fill="#14335F" stroke="none"/>
<circle cx="356.14" cy="594.28" r="0.95" fill="#14335F" stroke="none"/>
<circle cx="415.59" cy="585.08" r="0.95" fill="#14335F" stroke="none"/>
<circle cx="338.1" cy="624.99" r="0.95" fill="#14335F" stroke="none"/>
<circle cx="362.86" cy="603.54" r="0.95" fill="#14335F" stroke="none"/>
<circle cx="355.84" cy="594.8" r="0.95" fill="#14335F" stroke="none"/>
<circle cx="342.7" cy="614.07" r="0.95" fill="#14335F" stroke="none"/>
<circle cx="368.66" cy="593.7" r="0.95" fill="#14335F" stroke="none"/>
<circle cx="353.86" cy="610.4" r="0.95" fill="#14335F" stroke="none"/>
<circle cx="373.01" cy="598.21" r="0.95" fill="#14335F" stroke="none"/>
<circle cx="364.7" cy="585.93" r="0.95" fill="#14335F" stroke="none"/>
<circle cx="339.22" cy="584.22" r="0.95" fill="#14335F" stroke="none"/>
<circle cx="371.35" cy="636.62" r="0.95" fill="#14335F" stroke="none"/>
<circle cx="405.92" cy="621.1" r="0.95" fill="#505050" stroke="none"/>
<circle cx="363.95" cy="590.54" r="0.95" fill="#505050" stroke="none"/>
<circle cx="384.08" cy="620.29" r="0.95" fill="#14335F" stroke="none"/>
<circle cx="384.43" cy="624.44" r="0.95" fill="#505050" stroke="none"/>
<circle cx="381.48" cy="616.45" r="0.95" fill="#14335F" stroke="none"/>
<circle cx="381.53" cy="619.3" r="0.95" fill="#14335F" stroke="none"/>
<circle cx="368.72" cy="613.23" r="0.95" fill="#14335F" stroke="none"/>
<circle cx="382.45" cy="624.02" r="1.85" fill="#7BBCFF"/>
<circle cx="366.1" cy="628.56" r="0.95" fill="#14335F" stroke="none"/>
<circle cx="384.27" cy="624.73" r="0.95" fill="#505050" stroke="none"/>
<circle cx="364.64" cy="624.47" r="0.95" fill="#505050" stroke="none"/>
<circle cx="364.82" cy="602.16" r="0.95" fill="#14335F" stroke="none"/>
<circle cx="378.51" cy="624.77" r="0.95" fill="#505050" stroke="none"/>
<circle cx="367.59" cy="614.94" r="0.95" fill="#14335F" stroke="none"/>
<circle cx="365.37" cy="602.38" r="0.95" fill="#505050" stroke="none"/>
<circle cx="383.18" cy="616.45" r="0.95" fill="#14335F" stroke="none"/>
<circle cx="378.69" cy="624.52" r="0.95" fill="#14335F" stroke="none"/>
<circle cx="384.12" cy="621.47" r="0.95" fill="#14335F" stroke="none"/>
<circle cx="368.57" cy="616.17" r="0.95" fill="#14335F" stroke="none"/>
<circle cx="379.15" cy="623.9" r="0.95" fill="#505050" stroke="none"/>
<circle cx="365.48" cy="609.44" r="0.95" fill="#14335F" stroke="none"/>
<circle cx="366.28" cy="612.79" r="0.95" fill="#14335F" stroke="none"/>
<circle cx="365.09" cy="607.84" r="0.95" fill="#505050" stroke="none"/>
<circle cx="364.19" cy="622.07" r="0.95" fill="#14335F" stroke="none"/>
<circle cx="84.03" cy="496.33" r="1.85" fill="#2B7EF5"/>
<circle cx="84.33" cy="492.75" r="2.95" fill="#E6E6E6"/>
<circle cx="79.94" cy="498.37" r="1.85" fill="#E6E6E6"/>
<circle cx="82.19" cy="502.25" r="1.85" fill="#58A9FF"/>
<circle cx="58.28" cy="498.58" r="1.85" fill="#7BBCFF"/>
<circle cx="60.22" cy="503.28" r="2.3" fill="#E6E6E6"/>
<circle cx="56.13" cy="506.55" r="2.3" fill="#E6E6E6"/>
<circle cx="59.71" cy="507.36" r="1.4" fill="#2B7EF5"/>
<circle cx="67.47" cy="507.26" r="1.85" fill="#E6E6E6"/>
<circle cx="56.44" cy="510.63" r="1.85" fill="#E6E6E6"/>
<circle cx="55.93" cy="512.68" r="1.4" fill="#2B7EF5"/>
<circle cx="62.06" cy="513.19" r="2.95" fill="#E6E6E6"/>
<circle cx="65.12" cy="517.79" r="2.3" fill="#E6E6E6"/>
<circle cx="61.55" cy="517.79" r="2.95" fill="#E6E6E6"/>
<circle cx="54.39" cy="519.01" r="2.3" fill="#E6E6E6"/>
<circle cx="69.72" cy="518.81" r="2.3" fill="#E6E6E6"/>
<circle cx="71.77" cy="514.72" r="1.4" fill="#3F98FF"/>
<circle cx="78.41" cy="517.99" r="2.95" fill="#E6E6E6"/>
<circle cx="85.87" cy="510.84" r="1.85" fill="#58A9FF"/>
<circle cx="84.33" cy="515.74" r="2.95" fill="#E6E6E6"/>
<circle cx="83.31" cy="507.77" r="0.95" fill="#14335F" stroke="none"/>
<circle cx="88.12" cy="514.72" r="0.95" fill="#14335F" stroke="none"/>
<circle cx="95.47" cy="513.9" r="2.95" fill="#E6E6E6"/>
<circle cx="90.87" cy="517.48" r="0.95" fill="#505050" stroke="none"/>
<circle cx="89.95" cy="522.18" r="0.95" fill="#505050" stroke="none"/>
<circle cx="60.52" cy="521.87" r="1.4" fill="#58A9FF"/>
<circle cx="63.08" cy="524.43" r="2.95" fill="#E6E6E6"/>
<circle cx="74.83" cy="524.63" r="2.95" fill="#E6E6E6"/>
<circle cx="104.26" cy="522.39" r="2.3" fill="#E6E6E6"/>
<circle cx="57.97" cy="528.82" r="1.85" fill="#2B7EF5"/>
<circle cx="58.48" cy="531.28" r="1.85" fill="#E6E6E6"/>
<circle cx="61.55" cy="534.14" r="2.3" fill="#E6E6E6"/>
<circle cx="58.99" cy="536.18" r="2.3" fill="#E6E6E6"/>
<circle cx="58.69" cy="538.74" r="2.3" fill="#E6E6E6"/>
<circle cx="53.88" cy="544.36" r="2.3" fill="#E6E6E6"/>
<circle cx="75.65" cy="534.14" r="2.3" fill="#E6E6E6"/>
<circle cx="72.28" cy="535.36" r="2.95" fill="#E6E6E6"/>
<circle cx="86.07" cy="533.32" r="2.3" fill="#E6E6E6"/>
<circle cx="87.6" cy="539.76" r="1.85" fill="#E6E6E6"/>
<circle cx="86.07" cy="536.69" r="2.95" fill="#E6E6E6"/>
<circle cx="61.34" cy="543.03" r="1.85" fill="#3F98FF"/>
<circle cx="68.9" cy="543.54" r="2.3" fill="#58A9FF"/>
<circle cx="62.06" cy="546.4" r="1.85" fill="#58A9FF"/>
<circle cx="66.66" cy="547.42" r="1.85" fill="#58A9FF"/>
<circle cx="60.01" cy="549.26" r="1.85" fill="#E6E6E6"/>
<circle cx="100.89" cy="547.42" r="2.3" fill="#58A9FF"/>
<circle cx="94.45" cy="547.93" r="0.95" fill="#14335F" stroke="none"/>
<circle cx="82.49" cy="547.42" r="0.95" fill="#14335F" stroke="none"/>
<circle cx="51.84" cy="529.23" r="0.95" fill="#14335F" stroke="none"/>
<circle cx="53.37" cy="533.12" r="0.95" fill="#14335F" stroke="none"/>
<circle cx="52.86" cy="537.2" r="0.95" fill="#505050" stroke="none"/>
<circle cx="52.35" cy="539.25" r="0.95" fill="#505050" stroke="none"/>
<circle cx="80.96" cy="550.49" r="1.85" fill="#E6E6E6"/>
<circle cx="105.49" cy="543.33" r="1.4" fill="#58A9FF"/>
<circle cx="56.95" cy="496.84" r="0.95" fill="#14335F" stroke="none"/>
<circle cx="60.52" cy="496.33" r="0.95" fill="#14335F" stroke="none"/>
<circle cx="62.57" cy="499.39" r="0.95" fill="#505050" stroke="none"/>
<circle cx="69.72" cy="505.52" r="0.95" fill="#505050" stroke="none"/>
<circle cx="74.83" cy="511.66" r="0.95" fill="#505050" stroke="none"/>
<circle cx="69.21" cy="513.5" r="0.95" fill="#14335F" stroke="none"/>
<circle cx="53.88" cy="522.39" r="0.95" fill="#505050" stroke="none"/>
<circle cx="66.66" cy="534.14" r="0.95" fill="#505050" stroke="none"/>
<circle cx="57.97" cy="514.72" r="1.4" fill="#3F98FF"/>
<circle cx="60.01" cy="521.36" r="1.4" fill="#3F98FF"/>
<circle cx="54.9" cy="513.19" r="1.4" fill="#3F98FF"/>
<circle cx="62.36" cy="506.04" r="1.4" fill="#58A9FF"/>
<circle cx="108.86" cy="497.86" r="2.3" fill="#E6E6E6"/>
<circle cx="108.55" cy="503.99" r="2.95" fill="#E6E6E6"/>
<circle cx="108.86" cy="511.15" r="1.85" fill="#7BBCFF"/>
<circle cx="114.17" cy="508.59" r="1.85" fill="#E6E6E6"/>
<circle cx="114.38" cy="511.66" r="2.3" fill="#E6E6E6"/>
<circle cx="118.77" cy="513.7" r="2.95" fill="#E6E6E6"/>
<circle cx="109.58" cy="516.25" r="2.3" fill="#E6E6E6"/>
<circle cx="114.38" cy="517.79" r="2.3" fill="#E6E6E6"/>
<circle cx="110.09" cy="521.36" r="1.85" fill="#58A9FF"/>
<circle cx="113.66" cy="521.87" r="1.4" fill="#58A9FF"/>
<circle cx="110.6" cy="525.14" r="2.3" fill="#E6E6E6"/>
<circle cx="114.69" cy="527.49" r="1.85" fill="#E6E6E6"/>
<circle cx="121.33" cy="524.94" r="1.85" fill="#E6E6E6"/>
<circle cx="110.29" cy="535.87" r="2.95" fill="#E6E6E6"/>
<circle cx="107.53" cy="543.84" r="1.85" fill="#58A9FF"/>
<circle cx="112.95" cy="493.98" r="0.95" fill="#14335F" stroke="none"/>
<circle cx="117.04" cy="500.42" r="0.95" fill="#14335F" stroke="none"/>
<circle cx="127.66" cy="501.13" r="1.85" fill="#2B7EF5"/>
<circle cx="142.79" cy="497.86" r="1.85" fill="#7BBCFF"/>
<circle cx="129.81" cy="508.39" r="1.85" fill="#E6E6E6"/>
<circle cx="129.3" cy="510.12" r="1.4" fill="#3F98FF"/>
<circle cx="131.04" cy="513.5" r="2.95" fill="#E6E6E6"/>
<circle cx="131.55" cy="518.6" r="1.85" fill="#E6E6E6"/>
<circle cx="141.97" cy="508.39" r="1.85" fill="#7BBCFF"/>
<circle cx="143.5" cy="512.17" r="1.85" fill="#3F98FF"/>
<circle cx="151.98" cy="510.94" r="0.95" fill="#14335F" stroke="none"/>
<circle cx="169.87" cy="521.87" r="0.95" fill="#14335F" stroke="none"/>
<circle cx="162.2" cy="529.23" r="1.85" fill="#E6E6E6"/>
<circle cx="159.34" cy="535.87" r="1.85" fill="#2B7EF5"/>
<circle cx="162.71" cy="534.85" r="0.95" fill="#14335F" stroke="none"/>
<circle cx="169.66" cy="534.95" r="0.95" fill="#14335F" stroke="none"/>
<circle cx="168.84" cy="538.94" r="0.95" fill="#505050" stroke="none"/>
<circle cx="156.58" cy="543.03" r="1.85" fill="#E6E6E6"/>
<circle cx="115.2" cy="548.95" r="2.3" fill="#E6E6E6"/>
<circle cx="117.75" cy="548.44" r="2.3" fill="#E6E6E6"/>
<circle cx="107.53" cy="550.49" r="2.3" fill="#E6E6E6"/>
<circle cx="136.15" cy="550.49" r="2.3" fill="#E6E6E6"/>
<circle cx="106.51" cy="496.33" r="0.95" fill="#14335F" stroke="none"/>
<circle cx="113.15" cy="506.55" r="0.95" fill="#505050" stroke="none"/>
<circle cx="116.22" cy="505.52" r="0.95" fill="#505050" stroke="none"/>
<circle cx="106.51" cy="508.59" r="1.4" fill="#E6E6E6"/>
<circle cx="106.51" cy="520.85" r="0.95" fill="#14335F" stroke="none"/>
<circle cx="114.17" cy="536.69" r="0.95" fill="#505050" stroke="none"/>
<circle cx="237.62" cy="494.28" r="1.4" fill="#E6E6E6"/>
<circle cx="237.62" cy="489.17" r="1.4" fill="#E6E6E6"/>
<circle cx="183.15" cy="523.92" r="0.95" fill="#505050" stroke="none"/>
<circle cx="182.44" cy="530.56" r="0.95" fill="#505050" stroke="none"/>
<circle cx="195.93" cy="544.87" r="0.95" fill="#14335F" stroke="none"/>
<circle cx="226.58" cy="543.03" r="0.95" fill="#14335F" stroke="none"/>
<circle cx="224.74" cy="547.63" r="1.85" fill="#3F98FF"/>
<circle cx="228.63" cy="549.26" r="1.85" fill="#E6E6E6"/>
<circle cx="244.98" cy="538.94" r="1.85" fill="#58A9FF"/>
<circle cx="237.82" cy="550.49" r="1.85" fill="#3F98FF"/>
<circle cx="201.04" cy="550.49" r="0.95" fill="#505050" stroke="none"/>
<circle cx="259.08" cy="503.48" r="1.85" fill="#3F98FF"/>
<circle cx="267.46" cy="502.77" r="1.85" fill="#E6E6E6"/>
<circle cx="279.72" cy="513.39" r="0.95" fill="#505050" stroke="none"/>
<circle cx="298.93" cy="527.49" r="0.95" fill="#505050" stroke="none"/>
<circle cx="304.96" cy="527.49" r="1.85" fill="#E6E6E6"/>
<circle cx="269.3" cy="534.34" r="1.85" fill="#E6E6E6"/>
<circle cx="260.31" cy="540.98" r="1.85" fill="#E6E6E6"/>
<circle cx="246.51" cy="538.94" r="1.85" fill="#58A9FF"/>
<circle cx="249.88" cy="542.11" r="0.95" fill="#505050" stroke="none"/>
<circle cx="248.86" cy="548.44" r="1.85" fill="#2B7EF5"/>
<circle cx="276.15" cy="545.17" r="2.3" fill="#3F98FF"/>
<circle cx="280.74" cy="546.09" r="0.95" fill="#505050" stroke="none"/>
<circle cx="299.44" cy="543.54" r="1.85" fill="#3F98FF"/>
<circle cx="303.74" cy="535.87" r="0.95" fill="#505050" stroke="none"/>
<circle cx="311.4" cy="537.92" r="1.85" fill="#E6E6E6"/>
<circle cx="290.45" cy="549.26" r="1.85" fill="#58A9FF"/>
<circle cx="263.37" cy="549.67" r="0.95" fill="#505050" stroke="none"/>
<circle cx="313.65" cy="546.91" r="0.95" fill="#505050" stroke="none"/>
<circle cx="310.89" cy="550.49" r="0.95" fill="#505050" stroke="none"/>
<circle cx="339.21" cy="560.58" r="0.95" fill="#505050" stroke="none"/>
<circle cx="346.51" cy="560.29" r="1.85" fill="#E6E6E6"/>
<circle cx="356.44" cy="560.29" r="1.85" fill="#E6E6E6"/>
<circle cx="361.11" cy="560.29" r="1.85" fill="#E6E6E6"/>
<circle cx="356.44" cy="564.38" r="0.95" fill="#505050" stroke="none"/>
<circle cx="366.95" cy="559.27" r="0.95" fill="#14335F" stroke="none"/>
<circle cx="373.23" cy="560.29" r="1.85" fill="#E6E6E6"/>
<circle cx="376.15" cy="560.29" r="0.95" fill="#505050" stroke="none"/>
<circle cx="379.5" cy="564.67" r="1.85" fill="#E6E6E6"/>
<circle cx="371.77" cy="572.99" r="2.95" fill="#3F98FF"/>
<circle cx="336.73" cy="577.08" r="2.3" fill="#58A9FF"/>
<circle cx="376.58" cy="577.81" r="0.95" fill="#14335F" stroke="none"/>
<circle cx="357.61" cy="578.54" r="0.95" fill="#14335F" stroke="none"/>
<circle cx="323.15" cy="508.47" r="1.85" fill="#E6E6E6"/>
<circle cx="304.61" cy="527.45" r="1.85" fill="#E6E6E6"/>
<circle cx="299.07" cy="527.45" r="0.95" fill="#505050" stroke="none"/>
<circle cx="311.47" cy="537.96" r="1.85" fill="#E6E6E6"/>
<circle cx="319.21" cy="560" r="2.95" fill="#E6E6E6"/>
<circle cx="333.08" cy="560.29" r="1.85" fill="#E6E6E6"/>
<circle cx="326.07" cy="561.46" r="0.95" fill="#14335F" stroke="none"/>
<circle cx="314.1" cy="547.15" r="0.95" fill="#505050" stroke="none"/>
<circle cx="311.18" cy="550.07" r="0.95" fill="#505050" stroke="none"/>
<circle cx="314.1" cy="554.74" r="0.95" fill="#14335F" stroke="none"/>
<circle cx="305.34" cy="558.39" r="1.85" fill="#E6E6E6"/>
<circle cx="301.69" cy="556.64" r="0.95" fill="#14335F" stroke="none"/>
<circle cx="300.96" cy="568.61" r="1.85" fill="#3F98FF"/>
<circle cx="308.99" cy="568.32" r="1.85" fill="#E6E6E6"/>
<circle cx="310.45" cy="570.8" r="1.85" fill="#E6E6E6"/>
<circle cx="292.2" cy="558.39" r="1.85" fill="#E6E6E6"/>
<circle cx="290.31" cy="549.34" r="1.85" fill="#58A9FF"/>
<circle cx="281.26" cy="558.1" r="2.95" fill="#E6E6E6"/>
<circle cx="283.01" cy="563.94" r="1.85" fill="#E6E6E6"/>
<circle cx="271.77" cy="556.93" r="1.85" fill="#E6E6E6"/>
<circle cx="267.68" cy="561.75" r="1.85" fill="#E6E6E6"/>
<circle cx="290.01" cy="566.13" r="1.85" fill="#E6E6E6"/>
<circle cx="285.2" cy="568.32" r="1.85" fill="#3F98FF"/>
<circle cx="281.26" cy="571.97" r="2.3" fill="#E6E6E6"/>
<circle cx="274.25" cy="570.51" r="1.85" fill="#E6E6E6"/>
<circle cx="274.69" cy="573.43" r="1.85" fill="#3F98FF"/>
<circle cx="325.34" cy="575.62" r="1.85" fill="#58A9FF"/>
<circle cx="312.93" cy="577.52" r="1.85" fill="#58A9FF"/>
<circle cx="335.27" cy="577.08" r="1.4" fill="#3F98FF"/>
<circle cx="317.31" cy="579.27" r="1.85" fill="#E6E6E6"/>
<circle cx="294.39" cy="564.38" r="0.95" fill="#14335F" stroke="none"/>
<circle cx="296.58" cy="571.24" r="0.95" fill="#505050" stroke="none"/>
<circle cx="303.88" cy="576.35" r="0.95" fill="#505050" stroke="none"/>
<circle cx="317.75" cy="568.76" r="0.95" fill="#505050" stroke="none"/>
<circle cx="263.01" cy="549.78" r="0.95" fill="#505050" stroke="none"/>
<circle cx="254.25" cy="552.55" r="0.95" fill="#505050" stroke="none"/>
<circle cx="249.87" cy="542.04" r="0.95" fill="#505050" stroke="none"/>
<circle cx="279.8" cy="545.99" r="0.95" fill="#505050" stroke="none"/>
<circle cx="75.34" cy="555.09" r="1.85" fill="#3F98FF"/>
<circle cx="75.85" cy="561.22" r="1.85" fill="#3F98FF"/>
<circle cx="69.21" cy="560.4" r="2.3" fill="#2B7EF5"/>
<circle cx="75.34" cy="557.64" r="2.95" fill="#E6E6E6"/>
<circle cx="82.19" cy="560.4" r="2.3" fill="#2B7EF5"/>
<circle cx="84.85" cy="554.88" r="2.3" fill="#58A9FF"/>
<circle cx="81.47" cy="551.82" r="1.85" fill="#E6E6E6"/>
<circle cx="95.57" cy="558.66" r="2.95" fill="#E6E6E6"/>
<circle cx="74.83" cy="564.08" r="1.85" fill="#E6E6E6"/>
<circle cx="74.32" cy="567.86" r="1.85" fill="#7BBCFF"/>
<circle cx="78.41" cy="568.17" r="1.85" fill="#2B7EF5"/>
<circle cx="70.74" cy="571.23" r="2.3" fill="#E6E6E6"/>
<circle cx="76.87" cy="571.74" r="2.3" fill="#E6E6E6"/>
<circle cx="82.49" cy="571.44" r="2.3" fill="#E6E6E6"/>
<circle cx="86.89" cy="571.44" r="2.3" fill="#E6E6E6"/>
<circle cx="94.55" cy="571.23" r="2.3" fill="#E6E6E6"/>
<circle cx="80.45" cy="579.61" r="2.3" fill="#E6E6E6"/>
<circle cx="77.39" cy="586.25" r="2.3" fill="#2B7EF5"/>
<circle cx="62.36" cy="586.46" r="1.85" fill="#E6E6E6"/>
<circle cx="100.38" cy="560.2" r="2.3" fill="#3F98FF"/>
<circle cx="104.47" cy="557.64" r="2.3" fill="#E6E6E6"/>
<circle cx="99.87" cy="564.8" r="2.3" fill="#E6E6E6"/>
<circle cx="103.95" cy="565.31" r="1.85" fill="#E6E6E6"/>
<circle cx="101.4" cy="569.19" r="2.3" fill="#2B7EF5"/>
<circle cx="100.38" cy="574.71" r="2.3" fill="#E6E6E6"/>
<circle cx="97.01" cy="577.36" r="2.3" fill="#E6E6E6"/>
<circle cx="93.22" cy="577.77" r="2.3" fill="#58A9FF"/>
<circle cx="101.4" cy="589.32" r="2.3" fill="#3F98FF"/>
<circle cx="67.17" cy="578.08" r="0.95" fill="#14335F" stroke="none"/>
<circle cx="69.93" cy="582.88" r="0.95" fill="#14335F" stroke="none"/>
<circle cx="46.73" cy="582.88" r="0.95" fill="#505050" stroke="none"/>
<circle cx="40.09" cy="582.88" r="0.95" fill="#505050" stroke="none"/>
<circle cx="47.04" cy="591.06" r="0.95" fill="#505050" stroke="none"/>
<circle cx="38.86" cy="593.71" r="0.95" fill="#14335F" stroke="none"/>
<circle cx="42.95" cy="604.14" r="0.95" fill="#14335F" stroke="none"/>
<circle cx="46.22" cy="606.69" r="0.95" fill="#14335F" stroke="none"/>
<circle cx="65.63" cy="587.79" r="0.95" fill="#14335F" stroke="none"/>
<circle cx="71.77" cy="589.32" r="0.95" fill="#14335F" stroke="none"/>
<circle cx="82.8" cy="589.32" r="0.95" fill="#14335F" stroke="none"/>
<circle cx="89.14" cy="589.83" r="0.95" fill="#14335F" stroke="none"/>
<circle cx="92" cy="588.81" r="0.95" fill="#14335F" stroke="none"/>
<circle cx="90.36" cy="585.95" r="0.95" fill="#14335F" stroke="none"/>
<circle cx="95.27" cy="584.72" r="0.95" fill="#14335F" stroke="none"/>
<circle cx="94.25" cy="594.43" r="0.95" fill="#14335F" stroke="none"/>
<circle cx="88.12" cy="563.26" r="0.95" fill="#505050" stroke="none"/>
<circle cx="89.95" cy="565.31" r="0.95" fill="#505050" stroke="none"/>
<circle cx="94.76" cy="564.28" r="0.95" fill="#505050" stroke="none"/>
<circle cx="68.7" cy="575.52" r="0.95" fill="#505050" stroke="none"/>
<circle cx="98.84" cy="555.09" r="0.95" fill="#14335F" stroke="none"/>
<circle cx="105.49" cy="575.52" r="0.95" fill="#14335F" stroke="none"/>
<circle cx="101.4" cy="578.08" r="0.95" fill="#14335F" stroke="none"/>
<circle cx="131.55" cy="555.6" r="2.3" fill="#E6E6E6"/>
<circle cx="137.68" cy="558.15" r="2.3" fill="#E6E6E6"/>
<circle cx="134.61" cy="556.62" r="2.95" fill="#E6E6E6"/>
<circle cx="139.42" cy="569.09" r="2.3" fill="#2B7EF5"/>
<circle cx="160.16" cy="557.13" r="2.3" fill="#3F98FF"/>
<circle cx="173.14" cy="567.35" r="2.3" fill="#2B7EF5"/>
<circle cx="110.09" cy="578.79" r="2.3" fill="#58A9FF"/>
<circle cx="119.28" cy="579.82" r="2.3" fill="#3F98FF"/>
<circle cx="122.15" cy="578.79" r="1.85" fill="#58A9FF"/>
<circle cx="122.35" cy="582.68" r="1.85" fill="#E6E6E6"/>
<circle cx="117.04" cy="588.5" r="2.3" fill="#3F98FF"/>
<circle cx="107.02" cy="593.92" r="2.3" fill="#2B7EF5"/>
<circle cx="121.84" cy="594.43" r="2.3" fill="#3F98FF"/>
<circle cx="129.71" cy="593.92" r="2.95" fill="#2B7EF5"/>
<circle cx="130.52" cy="600.56" r="2.3" fill="#3F98FF"/>
<circle cx="126.23" cy="599.23" r="2.95" fill="#E6E6E6"/>
<circle cx="123.17" cy="604.14" r="2.3" fill="#58A9FF"/>
<circle cx="118.26" cy="609.25" r="2.95" fill="#3F98FF"/>
<circle cx="112.64" cy="611.29" r="2.95" fill="#3F98FF"/>
<circle cx="124.39" cy="608.22" r="2.3" fill="#3F98FF"/>
<circle cx="132.36" cy="615.38" r="2.3" fill="#2B7EF5"/>
<circle cx="158.83" cy="597.49" r="2.3" fill="#2B7EF5"/>
<circle cx="151.78" cy="603.12" r="2.3" fill="#E6E6E6"/>
<circle cx="154.23" cy="603.12" r="2.3" fill="#E6E6E6"/>
<circle cx="166.29" cy="585.44" r="1.85" fill="#E6E6E6"/>
<circle cx="172.93" cy="588.3" r="2.3" fill="#58A9FF"/>
<circle cx="170.89" cy="590.85" r="2.3" fill="#2B7EF5"/>
<circle cx="173.95" cy="594.94" r="2.3" fill="#58A9FF"/>
<circle cx="173.44" cy="600.56" r="2.3" fill="#E6E6E6"/>
<circle cx="172.42" cy="606.69" r="2.3" fill="#3F98FF"/>
<circle cx="154.03" cy="610.98" r="2.3" fill="#3F98FF"/>
<circle cx="157.6" cy="609.25" r="2.3" fill="#7BBCFF"/>
<circle cx="162" cy="605.36" r="1.85" fill="#58A9FF"/>
<circle cx="157.09" cy="615.58" r="2.3" fill="#58A9FF"/>
<circle cx="162" cy="615.58" r="1.85" fill="#E6E6E6"/>
<circle cx="161.18" cy="577.77" r="0.95" fill="#14335F" stroke="none"/>
<circle cx="168.84" cy="577.77" r="0.95" fill="#14335F" stroke="none"/>
<circle cx="170.07" cy="574.5" r="0.95" fill="#14335F" stroke="none"/>
<circle cx="173.95" cy="562.96" r="0.95" fill="#14335F" stroke="none"/>
<circle cx="173.95" cy="572.97" r="0.95" fill="#14335F" stroke="none"/>
<circle cx="149.94" cy="582.68" r="0.95" fill="#505050" stroke="none"/>
<circle cx="139.93" cy="563.77" r="0.95" fill="#505050" stroke="none"/>
<circle cx="137.88" cy="573.69" r="0.95" fill="#505050" stroke="none"/>
<circle cx="135.33" cy="567.35" r="0.95" fill="#14335F" stroke="none"/>
<circle cx="159.95" cy="560.71" r="0.95" fill="#505050" stroke="none"/>
<circle cx="171.4" cy="579.61" r="0.95" fill="#14335F" stroke="none"/>
<circle cx="165.78" cy="581.66" r="0.95" fill="#14335F" stroke="none"/>
<circle cx="162.71" cy="583.7" r="0.95" fill="#14335F" stroke="none"/>
<circle cx="169.87" cy="585.23" r="0.95" fill="#14335F" stroke="none"/>
<circle cx="163.74" cy="587.28" r="0.95" fill="#505050" stroke="none"/>
<circle cx="153.52" cy="593.41" r="0.95" fill="#505050" stroke="none"/>
<circle cx="152.49" cy="595.96" r="0.95" fill="#14335F" stroke="none"/>
<circle cx="164.76" cy="595.14" r="0.95" fill="#505050" stroke="none"/>
<circle cx="167.31" cy="596.98" r="0.95" fill="#14335F" stroke="none"/>
<circle cx="169.36" cy="594.94" r="0.95" fill="#14335F" stroke="none"/>
<circle cx="159.65" cy="602.09" r="0.95" fill="#14335F" stroke="none"/>
<circle cx="165.27" cy="601.79" r="0.95" fill="#14335F" stroke="none"/>
<circle cx="169.87" cy="602.09" r="0.95" fill="#14335F" stroke="none"/>
<circle cx="149.43" cy="611.49" r="0.95" fill="#14335F" stroke="none"/>
<circle cx="165.78" cy="612.01" r="0.95" fill="#14335F" stroke="none"/>
<circle cx="170.38" cy="612.01" r="0.95" fill="#14335F" stroke="none"/>
<circle cx="175.49" cy="612.82" r="0.95" fill="#14335F" stroke="none"/>
<circle cx="168.33" cy="616.4" r="0.95" fill="#14335F" stroke="none"/>
<circle cx="149.94" cy="618.44" r="0.95" fill="#14335F" stroke="none"/>
<circle cx="141.25" cy="617.63" r="0.95" fill="#14335F" stroke="none"/>
<circle cx="135.12" cy="603.93" r="0.95" fill="#14335F" stroke="none"/>
<circle cx="133.08" cy="606.18" r="0.95" fill="#14335F" stroke="none"/>
<circle cx="136.66" cy="612.31" r="0.95" fill="#14335F" stroke="none"/>
<circle cx="130.52" cy="612.31" r="0.95" fill="#14335F" stroke="none"/>
<circle cx="136.66" cy="615.38" r="0.95" fill="#505050" stroke="none"/>
<circle cx="108.04" cy="583.19" r="0.95" fill="#505050" stroke="none"/>
<circle cx="107.53" cy="587.28" r="0.95" fill="#505050" stroke="none"/>
<circle cx="111.62" cy="590.85" r="0.95" fill="#14335F" stroke="none"/>
<circle cx="112.64" cy="593.92" r="0.95" fill="#14335F" stroke="none"/>
<circle cx="116.22" cy="594.94" r="0.95" fill="#14335F" stroke="none"/>
<circle cx="122.35" cy="589.83" r="0.95" fill="#14335F" stroke="none"/>
<circle cx="109.58" cy="599.03" r="0.95" fill="#505050" stroke="none"/>
<circle cx="107.53" cy="600.05" r="0.95" fill="#14335F" stroke="none"/>
<circle cx="112.64" cy="600.56" r="0.95" fill="#14335F" stroke="none"/>
<circle cx="115.2" cy="601.58" r="0.95" fill="#14335F" stroke="none"/>
<circle cx="117.75" cy="600.56" r="0.95" fill="#14335F" stroke="none"/>
<circle cx="121.33" cy="586.25" r="0.95" fill="#14335F" stroke="none"/>
<circle cx="123.88" cy="584.72" r="0.95" fill="#14335F" stroke="none"/>
<circle cx="201.55" cy="558.66" r="2.95" fill="#3F98FF"/>
<circle cx="200.52" cy="563.26" r="2.3" fill="#E6E6E6"/>
<circle cx="198.48" cy="567.15" r="2.3" fill="#58A9FF"/>
<circle cx="203.59" cy="565.31" r="1.85" fill="#7BBCFF"/>
<circle cx="198.69" cy="572.77" r="2.95" fill="#58A9FF"/>
<circle cx="201.55" cy="575.52" r="2.3" fill="#58A9FF"/>
<circle cx="203.39" cy="579.41" r="2.3" fill="#58A9FF"/>
<circle cx="202.36" cy="583.19" r="2.3" fill="#58A9FF"/>
<circle cx="192.35" cy="589.01" r="2.95" fill="#7BBCFF"/>
<circle cx="202.06" cy="589.83" r="2.3" fill="#3F98FF"/>
<circle cx="198.99" cy="595.96" r="2.95" fill="#3F98FF"/>
<circle cx="203.59" cy="595.96" r="1.85" fill="#2B7EF5"/>
<circle cx="192.55" cy="599.03" r="2.3" fill="#3F98FF"/>
<circle cx="199.3" cy="603.93" r="2.3" fill="#58A9FF"/>
<circle cx="205.12" cy="608.22" r="2.95" fill="#3F98FF"/>
<circle cx="194.39" cy="609.76" r="2.3" fill="#E6E6E6"/>
<circle cx="199.5" cy="612.82" r="2.95" fill="#E6E6E6"/>
<circle cx="193.88" cy="606.18" r="2.3" fill="#3F98FF"/>
<circle cx="222.7" cy="564.28" r="2.3" fill="#3F98FF"/>
<circle cx="222.49" cy="568.37" r="1.85" fill="#E6E6E6"/>
<circle cx="224.54" cy="571.95" r="2.95" fill="#E6E6E6"/>
<circle cx="224.03" cy="578.39" r="2.3" fill="#E6E6E6"/>
<circle cx="224.03" cy="581.15" r="1.85" fill="#2B7EF5"/>
<circle cx="224.23" cy="584.52" r="2.95" fill="#E6E6E6"/>
<circle cx="232" cy="561.73" r="2.3" fill="#E6E6E6"/>
<circle cx="237.01" cy="567.35" r="2.3" fill="#E6E6E6"/>
<circle cx="237.31" cy="572.97" r="2.3" fill="#3F98FF"/>
<circle cx="224.03" cy="591.87" r="2.3" fill="#58A9FF"/>
<circle cx="221.98" cy="598.72" r="2.3" fill="#E6E6E6"/>
<circle cx="224.85" cy="598.52" r="1.85" fill="#3F98FF"/>
<circle cx="223.01" cy="603.12" r="2.3" fill="#2B7EF5"/>
<circle cx="235.78" cy="590.34" r="2.95" fill="#58A9FF"/>
<circle cx="237.31" cy="590.85" r="2.3" fill="#58A9FF"/>
<circle cx="242.93" cy="594.94" r="2.95" fill="#7BBCFF"/>
<circle cx="230.16" cy="593.41" r="2.3" fill="#3F98FF"/>
<circle cx="239.36" cy="603.32" r="2.3" fill="#3F98FF"/>
<circle cx="227.09" cy="604.65" r="2.3" fill="#58A9FF"/>
<circle cx="229.14" cy="608.22" r="2.3" fill="#58A9FF"/>
<circle cx="236.8" cy="609.76" r="2.3" fill="#2B7EF5"/>
<circle cx="242.42" cy="609.76" r="2.3" fill="#58A9FF"/>
<circle cx="180.29" cy="584.21" r="2.3" fill="#58A9FF"/>
<circle cx="183.97" cy="591.36" r="2.3" fill="#3F98FF"/>
<circle cx="178.04" cy="594.94" r="2.95" fill="#3F98FF"/>
<circle cx="177.53" cy="600.05" r="2.95" fill="#2B7EF5"/>
<circle cx="180.6" cy="606.69" r="2.3" fill="#3F98FF"/>
<circle cx="185.2" cy="607.71" r="2.3" fill="#58A9FF"/>
<circle cx="178.04" cy="616.4" r="2.3" fill="#E6E6E6"/>
<circle cx="184.69" cy="617.42" r="2.3" fill="#58A9FF"/>
<circle cx="184.99" cy="568.37" r="0.95" fill="#14335F" stroke="none"/>
<circle cx="190.1" cy="569.19" r="0.95" fill="#14335F" stroke="none"/>
<circle cx="180.09" cy="578.79" r="0.95" fill="#14335F" stroke="none"/>
<circle cx="224.03" cy="557.64" r="0.95" fill="#505050" stroke="none"/>
<circle cx="201.04" cy="551.51" r="0.95" fill="#505050" stroke="none"/>
<circle cx="206.86" cy="581.66" r="0.95" fill="#505050" stroke="none"/>
<circle cx="229.14" cy="581.15" r="0.95" fill="#505050" stroke="none"/>
<circle cx="232.2" cy="581.15" r="0.95" fill="#14335F" stroke="none"/>
<circle cx="235.78" cy="580.94" r="0.95" fill="#505050" stroke="none"/>
<circle cx="237.82" cy="580.94" r="0.95" fill="#14335F" stroke="none"/>
<circle cx="240.89" cy="581.35" r="0.95" fill="#14335F" stroke="none"/>
<circle cx="240.38" cy="577.06" r="0.95" fill="#14335F" stroke="none"/>
<circle cx="240.89" cy="572.97" r="0.95" fill="#14335F" stroke="none"/>
<circle cx="243.95" cy="586.77" r="0.95" fill="#14335F" stroke="none"/>
<circle cx="245.49" cy="572.46" r="1.4" fill="#3F98FF"/>
<circle cx="245.49" cy="566.84" r="1.4" fill="#3F98FF"/>
<circle cx="245.49" cy="581.15" r="1.4" fill="#3F98FF"/>
<circle cx="228.63" cy="551.51" r="1.85" fill="#E6E6E6"/>
<circle cx="237.82" cy="551.51" r="2.3" fill="#58A9FF"/>
<circle cx="234.25" cy="597.49" r="0.95" fill="#14335F" stroke="none"/>
<circle cx="235.27" cy="601.07" r="0.95" fill="#14335F" stroke="none"/>
<circle cx="221.98" cy="612.82" r="0.95" fill="#14335F" stroke="none"/>
<circle cx="198.48" cy="581.66" r="0.95" fill="#14335F" stroke="none"/>
<circle cx="199.5" cy="584.72" r="0.95" fill="#14335F" stroke="none"/>
<circle cx="193.88" cy="586.25" r="0.95" fill="#14335F" stroke="none"/>
<circle cx="184.69" cy="601.58" r="0.95" fill="#505050" stroke="none"/>
<circle cx="189.28" cy="612.82" r="0.95" fill="#14335F" stroke="none"/>
<circle cx="191.33" cy="616.4" r="0.95" fill="#14335F" stroke="none"/>
<circle cx="202.57" cy="592.9" r="1.85" fill="#2B7EF5"/>
<circle cx="200.52" cy="599.03" r="1.85" fill="#2B7EF5"/>
<circle cx="204.1" cy="593.92" r="1.4" fill="#58A9FF"/>
<circle cx="205.63" cy="596.47" r="1.4" fill="#3F98FF"/>
<circle cx="201.55" cy="606.18" r="1.85" fill="#3F98FF"/>
<circle cx="204.1" cy="611.29" r="1.85" fill="#2B7EF5"/>
<circle cx="205.63" cy="604.14" r="1.4" fill="#2B7EF5"/>
<circle cx="192.35" cy="613.33" r="1.85" fill="#58A9FF"/>
<circle cx="192.35" cy="615.89" r="1.85" fill="#3F98FF"/>
<circle cx="281.05" cy="557.64" r="2.95" fill="#E6E6E6"/>
<circle cx="272.06" cy="556.93" r="1.85" fill="#E6E6E6"/>
<circle cx="267.66" cy="561.93" r="2.3" fill="#E6E6E6"/>
<circle cx="292.19" cy="558.36" r="1.85" fill="#E6E6E6"/>
<circle cx="305.27" cy="558.36" r="1.85" fill="#E6E6E6"/>
<circle cx="282.99" cy="563.77" r="2.3" fill="#E6E6E6"/>
<circle cx="290.14" cy="565.31" r="2.3" fill="#E6E6E6"/>
<circle cx="281.77" cy="567.35" r="2.3" fill="#E6E6E6"/>
<circle cx="285.34" cy="568.37" r="2.3" fill="#3F98FF"/>
<circle cx="274.1" cy="573.48" r="2.3" fill="#3F98FF"/>
<circle cx="274.41" cy="570.42" r="2.3" fill="#E6E6E6"/>
<circle cx="281.77" cy="571.95" r="2.3" fill="#E6E6E6"/>
<circle cx="300.87" cy="568.58" r="2.3" fill="#2B7EF5"/>
<circle cx="309.15" cy="568.37" r="2.3" fill="#E6E6E6"/>
<circle cx="250.29" cy="556.93" r="2.3" fill="#3F98FF"/>
<circle cx="255.4" cy="564.59" r="2.3" fill="#3F98FF"/>
<circle cx="248.04" cy="566.33" r="2.3" fill="#7BBCFF"/>
<circle cx="251.62" cy="572.97" r="2.95" fill="#3F98FF"/>
<circle cx="256.01" cy="570.93" r="1.85" fill="#E6E6E6"/>
<circle cx="263.17" cy="574.3" r="2.3" fill="#E6E6E6"/>
<circle cx="266.95" cy="581.45" r="2.95" fill="#3F98FF"/>
<circle cx="284.83" cy="582.68" r="2.95" fill="#3F98FF"/>
<circle cx="279.52" cy="584.21" r="2.3" fill="#58A9FF"/>
<circle cx="256.73" cy="579.61" r="1.85" fill="#3F98FF"/>
<circle cx="312.42" cy="578.08" r="2.3" fill="#58A9FF"/>
<circle cx="313.44" cy="582.68" r="2.95" fill="#58A9FF"/>
<circle cx="304.04" cy="586.25" r="2.95" fill="#58A9FF"/>
<circle cx="305.06" cy="590.34" r="2.95" fill="#2B7EF5"/>
<circle cx="294.23" cy="587.28" r="2.3" fill="#58A9FF"/>
<circle cx="296.79" cy="591.36" r="2.95" fill="#7BBCFF"/>
<circle cx="284.83" cy="590.04" r="2.3" fill="#7BBCFF"/>
<circle cx="280.74" cy="591.87" r="2.3" fill="#7BBCFF"/>
<circle cx="310.38" cy="586.25" r="2.3" fill="#7BBCFF"/>
<circle cx="314.67" cy="587.58" r="2.3" fill="#58A9FF"/>
<circle cx="254.69" cy="552.53" r="0.95" fill="#505050" stroke="none"/>
<circle cx="290.45" cy="552.53" r="0.95" fill="#14335F" stroke="none"/>
<circle cx="313.95" cy="554.58" r="0.95" fill="#14335F" stroke="none"/>
<circle cx="302" cy="557.34" r="0.95" fill="#14335F" stroke="none"/>
<circle cx="294.85" cy="564.49" r="0.95" fill="#14335F" stroke="none"/>
<circle cx="296.89" cy="570.93" r="0.95" fill="#505050" stroke="none"/>
<circle cx="268.99" cy="575.52" r="0.95" fill="#505050" stroke="none"/>
<circle cx="292.8" cy="578.79" r="0.95" fill="#505050" stroke="none"/>
<circle cx="293.21" cy="581.66" r="0.95" fill="#14335F" stroke="none"/>
<circle cx="303.74" cy="576.55" r="0.95" fill="#505050" stroke="none"/>
<circle cx="304.25" cy="580.12" r="0.95" fill="#505050" stroke="none"/>
<circle cx="311.4" cy="590.34" r="0.95" fill="#14335F" stroke="none"/>
<circle cx="248.04" cy="559.69" r="0.95" fill="#505050" stroke="none"/>
<circle cx="252.64" cy="562.24" r="0.95" fill="#14335F" stroke="none"/>
<circle cx="259.8" cy="575.01" r="0.95" fill="#14335F" stroke="none"/>
<circle cx="262.35" cy="576.55" r="0.95" fill="#14335F" stroke="none"/>
<circle cx="276.15" cy="582.17" r="0.95" fill="#14335F" stroke="none"/>
<circle cx="271.55" cy="586.25" r="0.95" fill="#14335F" stroke="none"/>
<circle cx="275.63" cy="590.34" r="0.95" fill="#14335F" stroke="none"/>
<circle cx="287.9" cy="591.36" r="0.95" fill="#505050" stroke="none"/>
<circle cx="292.49" cy="593.92" r="0.95" fill="#14335F" stroke="none"/>
<circle cx="259.28" cy="585.74" r="2.3" fill="#3F98FF"/>
<circle cx="251.11" cy="586.77" r="2.3" fill="#58A9FF"/>
<circle cx="257.24" cy="588.81" r="2.3" fill="#3F98FF"/>
<circle cx="265.42" cy="590.34" r="2.3" fill="#3F98FF"/>
<circle cx="270.01" cy="588.81" r="2.3" fill="#2B7EF5"/>
<circle cx="247.53" cy="581.15" r="2.3" fill="#58A9FF"/>
<circle cx="251.62" cy="580.63" r="1.85" fill="#3F98FF"/>
<circle cx="260.31" cy="584.72" r="1.85" fill="#2B7EF5"/>
<circle cx="319.07" cy="560.2" r="2.95" fill="#E6E6E6"/>
<circle cx="333.37" cy="560.4" r="1.85" fill="#E6E6E6"/>
<circle cx="346.45" cy="560.4" r="1.85" fill="#E6E6E6"/>
<circle cx="356.57" cy="560.4" r="1.85" fill="#E6E6E6"/>
<circle cx="361.17" cy="560.4" r="1.85" fill="#E6E6E6"/>
<circle cx="373.22" cy="560.4" r="1.85" fill="#E6E6E6"/>
<circle cx="379.56" cy="564.49" r="1.85" fill="#E6E6E6"/>
<circle cx="371.9" cy="572.97" r="2.95" fill="#3F98FF"/>
<circle cx="325.2" cy="575.52" r="2.3" fill="#58A9FF"/>
<circle cx="336.23" cy="577.06" r="2.3" fill="#58A9FF"/>
<circle cx="335.21" cy="583.39" r="2.95" fill="#3F98FF"/>
<circle cx="317.53" cy="579.1" r="2.3" fill="#E6E6E6"/>
<circle cx="319.58" cy="583.7" r="2.95" fill="#E6E6E6"/>
<circle cx="324.99" cy="581.86" r="2.95" fill="#E6E6E6"/>
<circle cx="319.07" cy="590.85" r="2.95" fill="#E6E6E6"/>
<circle cx="323.36" cy="589.83" r="2.3" fill="#E6E6E6"/>
<circle cx="335.21" cy="590.34" r="2.3" fill="#E6E6E6"/>
<circle cx="341.24" cy="590.65" r="2.3" fill="#E6E6E6"/>
<circle cx="346.66" cy="590.65" r="1.4" fill="#E6E6E6"/>
<circle cx="317.53" cy="599.54" r="2.3" fill="#58A9FF"/>
<circle cx="332.86" cy="604.65" r="2.3" fill="#3F98FF"/>
<circle cx="322.64" cy="606.69" r="2.95" fill="#3F98FF"/>
<circle cx="317.02" cy="607.2" r="2.3" fill="#58A9FF"/>
<circle cx="327.44" cy="611.29" r="2.3" fill="#3F98FF"/>
<circle cx="320.09" cy="617.42" r="2.95" fill="#2B7EF5"/>
<circle cx="323.15" cy="619.26" r="2.3" fill="#3F98FF"/>
<circle cx="330.31" cy="616.91" r="2.95" fill="#E6E6E6"/>
<circle cx="344.41" cy="616.4" r="2.3" fill="#E6E6E6"/>
<circle cx="369.85" cy="602.6" r="2.3" fill="#3F98FF"/>
<circle cx="384.26" cy="605.16" r="2.3" fill="#58A9FF"/>
<circle cx="372.71" cy="615.89" r="2.3" fill="#58A9FF"/>
<circle cx="325.91" cy="561.42" r="0.95" fill="#14335F" stroke="none"/>
<circle cx="338.99" cy="560.91" r="0.95" fill="#505050" stroke="none"/>
<circle cx="367.09" cy="559.17" r="0.95" fill="#14335F" stroke="none"/>
<circle cx="356.36" cy="564.49" r="0.95" fill="#505050" stroke="none"/>
<circle cx="318.04" cy="568.88" r="0.95" fill="#505050" stroke="none"/>
<circle cx="357.39" cy="578.59" r="0.95" fill="#14335F" stroke="none"/>
<circle cx="355.85" cy="581.66" r="0.95" fill="#14335F" stroke="none"/>
<circle cx="351.56" cy="581.86" r="0.95" fill="#505050" stroke="none"/>
<circle cx="343.28" cy="582.47" r="0.95" fill="#505050" stroke="none"/>
<circle cx="376.8" cy="578.08" r="0.95" fill="#14335F" stroke="none"/>
<circle cx="373.74" cy="586.25" r="0.95" fill="#14335F" stroke="none"/>
<circle cx="360.14" cy="588.81" r="0.95" fill="#14335F" stroke="none"/>
<circle cx="351.97" cy="590.85" r="0.95" fill="#505050" stroke="none"/>
<circle cx="370.87" cy="590.85" r="0.95" fill="#505050" stroke="none"/>
<circle cx="375.06" cy="589.83" r="0.95" fill="#505050" stroke="none"/>
<circle cx="328.26" cy="592.9" r="0.95" fill="#14335F" stroke="none"/>
<circle cx="341.55" cy="596.47" r="0.95" fill="#14335F" stroke="none"/>
<circle cx="351.77" cy="596.47" r="0.95" fill="#14335F" stroke="none"/>
<circle cx="356.06" cy="596.27" r="0.95" fill="#14335F" stroke="none"/>
<circle cx="357.08" cy="593.41" r="0.95" fill="#14335F" stroke="none"/>
<circle cx="356.87" cy="599.85" r="0.95" fill="#14335F" stroke="none"/>
<circle cx="367.09" cy="595.96" r="0.95" fill="#14335F" stroke="none"/>
<circle cx="372.2" cy="597.49" r="0.95" fill="#14335F" stroke="none"/>
<circle cx="377.62" cy="597.49" r="0.95" fill="#14335F" stroke="none"/>
<circle cx="379.66" cy="594.23" r="0.95" fill="#14335F" stroke="none"/>
<circle cx="363.52" cy="603.32" r="0.95" fill="#14335F" stroke="none"/>
<circle cx="373.74" cy="602.6" r="0.95" fill="#14335F" stroke="none"/>
<circle cx="376.8" cy="603.12" r="0.95" fill="#505050" stroke="none"/>
<circle cx="379.36" cy="603.63" r="0.95" fill="#14335F" stroke="none"/>
<circle cx="354.83" cy="605.67" r="0.95" fill="#14335F" stroke="none"/>
<circle cx="357.9" cy="605.87" r="0.95" fill="#14335F" stroke="none"/>
<circle cx="345.33" cy="607.41" r="0.95" fill="#14335F" stroke="none"/>
<circle cx="358.41" cy="610.27" r="0.95" fill="#14335F" stroke="none"/>
<circle cx="360.96" cy="611.29" r="0.95" fill="#14335F" stroke="none"/>
<circle cx="364.54" cy="610.06" r="0.95" fill="#14335F" stroke="none"/>
<circle cx="368.12" cy="611.29" r="0.95" fill="#14335F" stroke="none"/>
<circle cx="375.27" cy="610.27" r="0.95" fill="#14335F" stroke="none"/>
<circle cx="380.89" cy="611.49" r="0.95" fill="#14335F" stroke="none"/>
<circle cx="356.36" cy="616.09" r="0.95" fill="#14335F" stroke="none"/>
<circle cx="360.96" cy="615.89" r="0.95" fill="#14335F" stroke="none"/>
<circle cx="359.94" cy="612.31" r="0.95" fill="#14335F" stroke="none"/>
<circle cx="362.49" cy="613.33" r="0.95" fill="#14335F" stroke="none"/>
<circle cx="369.14" cy="614.36" r="0.95" fill="#505050" stroke="none"/>
<circle cx="376.29" cy="613.33" r="0.95" fill="#14335F" stroke="none"/>
<circle cx="377.31" cy="616.4" r="0.95" fill="#14335F" stroke="none"/>
<circle cx="367.09" cy="617.93" r="0.95" fill="#14335F" stroke="none"/>
<circle cx="364.03" cy="619.47" r="0.95" fill="#14335F" stroke="none"/>
<circle cx="371.18" cy="619.47" r="0.95" fill="#14335F" stroke="none"/>
<circle cx="378.33" cy="618.95" r="0.95" fill="#14335F" stroke="none"/>
<circle cx="381.4" cy="618.44" r="0.95" fill="#505050" stroke="none"/>
<circle cx="336.44" cy="618.95" r="0.95" fill="#14335F" stroke="none"/>
<circle cx="348.7" cy="618.95" r="0.95" fill="#14335F" stroke="none"/>
<circle cx="354.32" cy="619.98" r="0.95" fill="#14335F" stroke="none"/>
<circle cx="327.75" cy="584.72" r="0.95" fill="#14335F" stroke="none"/>
<circle cx="324.17" cy="586.77" r="0.95" fill="#14335F" stroke="none"/>
<circle cx="321.11" cy="609.76" r="0.95" fill="#505050" stroke="none"/>
<circle cx="326.73" cy="605.16" r="0.95" fill="#505050" stroke="none"/>
<circle cx="331.33" cy="603.63" r="0.95" fill="#14335F" stroke="none"/>
<circle cx="369.87" cy="602.41" r="2.3" fill="#2B7EF5"/>
<circle cx="384.47" cy="605.04" r="2.3" fill="#3F98FF"/>
<circle cx="372.79" cy="615.99" r="2.3" fill="#58A9FF"/>
<circle cx="370.74" cy="621.09" r="2.3" fill="#E6E6E6"/>
<circle cx="376.15" cy="620.8" r="2.3" fill="#3F98FF"/>
<circle cx="361.99" cy="625.18" r="2.3" fill="#58A9FF"/>
<circle cx="397.75" cy="626.64" r="2.3" fill="#58A9FF"/>
<circle cx="402.86" cy="626.64" r="2.3" fill="#58A9FF"/>
<circle cx="405.34" cy="649.56" r="2.3" fill="#58A9FF"/>
<circle cx="419.21" cy="649.56" r="2.3" fill="#3F98FF"/>
<circle cx="344.47" cy="616.42" r="1.85" fill="#E6E6E6"/>
<circle cx="341.11" cy="590.73" r="1.85" fill="#E6E6E6"/>
<circle cx="336" cy="590.44" r="1.85" fill="#E6E6E6"/>
<circle cx="336.73" cy="577.3" r="2.3" fill="#58A9FF"/>
<circle cx="336.73" cy="583.43" r="2.3" fill="#58A9FF"/>
<circle cx="357.61" cy="579.05" r="0.95" fill="#14335F" stroke="none"/>
<circle cx="355.71" cy="581.68" r="0.95" fill="#14335F" stroke="none"/>
<circle cx="373.66" cy="586.35" r="0.95" fill="#14335F" stroke="none"/>
<circle cx="375.12" cy="589.71" r="0.95" fill="#14335F" stroke="none"/>
<circle cx="360.09" cy="588.69" r="0.95" fill="#14335F" stroke="none"/>
<circle cx="357.17" cy="593.36" r="0.95" fill="#14335F" stroke="none"/>
<circle cx="379.5" cy="594.09" r="0.95" fill="#14335F" stroke="none"/>
<circle cx="341.55" cy="596.57" r="0.95" fill="#14335F" stroke="none"/>
<circle cx="351.77" cy="596.57" r="0.95" fill="#14335F" stroke="none"/>
<circle cx="356.15" cy="596.57" r="0.95" fill="#14335F" stroke="none"/>
<circle cx="367.39" cy="596.28" r="0.95" fill="#14335F" stroke="none"/>
<circle cx="372.5" cy="597.01" r="0.95" fill="#14335F" stroke="none"/>
<circle cx="377.61" cy="597.01" r="0.95" fill="#14335F" stroke="none"/>
<circle cx="357.17" cy="599.64" r="0.95" fill="#14335F" stroke="none"/>
<circle cx="394.1" cy="599.2" r="0.95" fill="#14335F" stroke="none"/>
<circle cx="403.15" cy="596.57" r="0.95" fill="#14335F" stroke="none"/>
<circle cx="410.45" cy="597.01" r="0.95" fill="#14335F" stroke="none"/>
<circle cx="363.45" cy="603.58" r="0.95" fill="#14335F" stroke="none"/>
<circle cx="354.98" cy="605.47" r="0.95" fill="#14335F" stroke="none"/>
<circle cx="357.9" cy="605.47" r="0.95" fill="#14335F" stroke="none"/>
<circle cx="373.66" cy="602.41" r="0.95" fill="#14335F" stroke="none"/>
<circle cx="392.64" cy="605.33" r="0.95" fill="#14335F" stroke="none"/>
<circle cx="395.85" cy="603.58" r="0.95" fill="#14335F" stroke="none"/>
<circle cx="404.61" cy="607.96" r="0.95" fill="#14335F" stroke="none"/>
<circle cx="410.89" cy="606.06" r="0.95" fill="#14335F" stroke="none"/>
<circle cx="421.84" cy="607.66" r="0.95" fill="#14335F" stroke="none"/>
<circle cx="345.49" cy="607.52" r="0.95" fill="#14335F" stroke="none"/>
<circle cx="358.63" cy="610.15" r="0.95" fill="#14335F" stroke="none"/>
<circle cx="362.28" cy="609.12" r="0.95" fill="#14335F" stroke="none"/>
<circle cx="364.91" cy="610.15" r="0.95" fill="#14335F" stroke="none"/>
<circle cx="375.42" cy="610.15" r="0.95" fill="#14335F" stroke="none"/>
<circle cx="380.96" cy="611.61" r="0.95" fill="#14335F" stroke="none"/>
<circle cx="388.55" cy="612.34" r="0.95" fill="#14335F" stroke="none"/>
<circle cx="390.74" cy="615.26" r="0.95" fill="#14335F" stroke="none"/>
<circle cx="356.15" cy="616.42" r="0.95" fill="#14335F" stroke="none"/>
<circle cx="360.82" cy="615.99" r="0.95" fill="#14335F" stroke="none"/>
<circle cx="363.74" cy="613.5" r="0.95" fill="#14335F" stroke="none"/>
<circle cx="381.26" cy="618.18" r="0.95" fill="#14335F" stroke="none"/>
<circle cx="394.39" cy="618.18" r="0.95" fill="#14335F" stroke="none"/>
<circle cx="348.41" cy="619.64" r="0.95" fill="#14335F" stroke="none"/>
<circle cx="349.87" cy="620.07" r="0.95" fill="#14335F" stroke="none"/>
<circle cx="344.03" cy="620.07" r="0.95" fill="#14335F" stroke="none"/>
<circle cx="354.69" cy="620.07" r="0.95" fill="#14335F" stroke="none"/>
<circle cx="345.05" cy="625.04" r="0.95" fill="#14335F" stroke="none"/>
<circle cx="360.09" cy="620.36" r="0.95" fill="#14335F" stroke="none"/>
<circle cx="363.01" cy="619.64" r="0.95" fill="#14335F" stroke="none"/>
<circle cx="365.2" cy="621.09" r="0.95" fill="#14335F" stroke="none"/>
<circle cx="367.39" cy="618.18" r="0.95" fill="#14335F" stroke="none"/>
<circle cx="370.31" cy="624.01" r="0.95" fill="#14335F" stroke="none"/>
<circle cx="376.88" cy="624.74" r="0.95" fill="#14335F" stroke="none"/>
<circle cx="381.26" cy="623.28" r="0.95" fill="#14335F" stroke="none"/>
<circle cx="387.82" cy="623.28" r="0.95" fill="#14335F" stroke="none"/>
<circle cx="393.23" cy="621.82" r="0.95" fill="#14335F" stroke="none"/>
<circle cx="398.77" cy="621.82" r="0.95" fill="#14335F" stroke="none"/>
<circle cx="365.93" cy="626.2" r="0.95" fill="#14335F" stroke="none"/>
<circle cx="383.01" cy="629.85" r="0.95" fill="#14335F" stroke="none"/>
<circle cx="407.97" cy="626.64" r="0.95" fill="#14335F" stroke="none"/>
<circle cx="407.97" cy="629.85" r="0.95" fill="#14335F" stroke="none"/>
<circle cx="412.64" cy="626.93" r="0.95" fill="#14335F" stroke="none"/>
<circle cx="419.21" cy="626.93" r="0.95" fill="#14335F" stroke="none"/>
<circle cx="396.15" cy="636.72" r="0.95" fill="#14335F" stroke="none"/>
<circle cx="399.94" cy="640.07" r="0.95" fill="#14335F" stroke="none"/>
<circle cx="386.36" cy="640.8" r="0.95" fill="#14335F" stroke="none"/>
<circle cx="382.28" cy="644.01" r="0.95" fill="#14335F" stroke="none"/>
<circle cx="373.96" cy="635.99" r="0.95" fill="#14335F" stroke="none"/>
<circle cx="359.36" cy="612.34" r="0.95" fill="#14335F" stroke="none"/>
<circle cx="361.55" cy="611.17" r="0.95" fill="#14335F" stroke="none"/>
<circle cx="374.69" cy="609.42" r="0.95" fill="#14335F" stroke="none"/>
<circle cx="376.15" cy="612.34" r="0.95" fill="#14335F" stroke="none"/>
<circle cx="368.85" cy="615.26" r="0.95" fill="#14335F" stroke="none"/>
<circle cx="371.77" cy="618.18" r="0.95" fill="#14335F" stroke="none"/>
<circle cx="364.47" cy="623.28" r="0.95" fill="#14335F" stroke="none"/>
<circle cx="369.58" cy="626.2" r="0.95" fill="#14335F" stroke="none"/>
<circle cx="360.82" cy="618.18" r="0.95" fill="#14335F" stroke="none"/>
<circle cx="351.33" cy="581.68" r="0.95" fill="#505050" stroke="none"/>
<circle cx="343.3" cy="582.41" r="0.95" fill="#505050" stroke="none"/>
<circle cx="411.91" cy="582.85" r="0.95" fill="#505050" stroke="none"/>
<circle cx="371.04" cy="590.73" r="0.95" fill="#505050" stroke="none"/>
<circle cx="352.06" cy="591.17" r="0.95" fill="#505050" stroke="none"/>
<circle cx="346.22" cy="590.73" r="0.95" fill="#505050" stroke="none"/>
<circle cx="376.88" cy="599.2" r="0.95" fill="#505050" stroke="none"/>
<circle cx="400.96" cy="599.2" r="0.95" fill="#505050" stroke="none"/>
<circle cx="407.24" cy="598.47" r="0.95" fill="#505050" stroke="none"/>
<circle cx="413.81" cy="596.57" r="0.95" fill="#505050" stroke="none"/>
<circle cx="376.88" cy="603.28" r="0.95" fill="#505050" stroke="none"/>
<circle cx="379.5" cy="603.87" r="0.95" fill="#505050" stroke="none"/>
<circle cx="407.53" cy="605.77" r="0.95" fill="#505050" stroke="none"/>
<circle cx="368.85" cy="611.61" r="0.95" fill="#505050" stroke="none"/>
<circle cx="367.39" cy="613.8" r="0.95" fill="#505050" stroke="none"/>
<circle cx="377.61" cy="615.55" r="0.95" fill="#505050" stroke="none"/>
<circle cx="384.91" cy="620.07" r="0.95" fill="#505050" stroke="none"/>
<circle cx="401.69" cy="618.91" r="0.95" fill="#505050" stroke="none"/>
<circle cx="360.09" cy="622.55" r="0.95" fill="#505050" stroke="none"/>
<circle cx="373.96" cy="627.66" r="0.95" fill="#505050" stroke="none"/>
<circle cx="379.8" cy="626.93" r="0.95" fill="#505050" stroke="none"/>
<circle cx="373.23" cy="629.85" r="0.95" fill="#505050" stroke="none"/>
<circle cx="377.61" cy="630.15" r="0.95" fill="#505050" stroke="none"/>
<circle cx="387.82" cy="629.85" r="0.95" fill="#505050" stroke="none"/>
<circle cx="360.09" cy="629.85" r="0.95" fill="#505050" stroke="none"/>
<circle cx="410.16" cy="625.47" r="0.95" fill="#505050" stroke="none"/>
<circle cx="423.3" cy="627.23" r="0.95" fill="#505050" stroke="none"/>
<circle cx="396.58" cy="631.31" r="0.95" fill="#505050" stroke="none"/>
<circle cx="387.82" cy="643.43" r="0.95" fill="#505050" stroke="none"/>
<circle cx="368.85" cy="637.88" r="0.95" fill="#505050" stroke="none"/>
<circle cx="368.41" cy="648.83" r="0.95" fill="#505050" stroke="none"/>
<circle cx="336" cy="643.72" r="0.95" fill="#505050" stroke="none"/>
<circle cx="54.6" cy="616.24" r="2.3" fill="#E6E6E6"/>
<circle cx="58.48" cy="617.77" r="2.3" fill="#E6E6E6"/>
<circle cx="56.95" cy="621.35" r="2.3" fill="#E6E6E6"/>
<circle cx="61.04" cy="624.42" r="2.95" fill="#E6E6E6"/>
<circle cx="67.17" cy="620.84" r="2.3" fill="#E6E6E6"/>
<circle cx="67.68" cy="624.21" r="2.3" fill="#E6E6E6"/>
<circle cx="72.48" cy="621.04" r="1.85" fill="#E6E6E6"/>
<circle cx="77.69" cy="620.53" r="2.3" fill="#E6E6E6"/>
<circle cx="79.43" cy="624.21" r="2.95" fill="#E6E6E6"/>
<circle cx="77.39" cy="629.22" r="2.95" fill="#E6E6E6"/>
<circle cx="84.54" cy="623.39" r="1.85" fill="#E6E6E6"/>
<circle cx="88.12" cy="623.39" r="1.85" fill="#E6E6E6"/>
<circle cx="86.07" cy="629.01" r="2.3" fill="#E6E6E6"/>
<circle cx="99.36" cy="626.97" r="2.3" fill="#E6E6E6"/>
<circle cx="101.4" cy="617.26" r="1.85" fill="#E6E6E6"/>
<circle cx="104.98" cy="617.26" r="1.85" fill="#E6E6E6"/>
<circle cx="46.22" cy="639.95" r="2.3" fill="#E6E6E6"/>
<circle cx="52.86" cy="639.74" r="2.95" fill="#E6E6E6"/>
<circle cx="50.82" cy="644.65" r="2.95" fill="#E6E6E6"/>
<circle cx="57.46" cy="647.41" r="2.95" fill="#E6E6E6"/>
<circle cx="67.17" cy="647.41" r="2.3" fill="#E6E6E6"/>
<circle cx="67.98" cy="654.36" r="2.3" fill="#E6E6E6"/>
<circle cx="74.32" cy="654.36" r="2.3" fill="#E6E6E6"/>
<circle cx="80.45" cy="654.36" r="2.3" fill="#E6E6E6"/>
<circle cx="91.69" cy="648.43" r="2.3" fill="#E6E6E6"/>
<circle cx="77.9" cy="650.98" r="2.3" fill="#E6E6E6"/>
<circle cx="72.28" cy="647.92" r="2.95" fill="#3F98FF"/>
<circle cx="82.8" cy="645.36" r="2.95" fill="#2B7EF5"/>
<circle cx="91.69" cy="630.04" r="2.95" fill="#58A9FF"/>
<circle cx="74.32" cy="640.25" r="2.95" fill="#7BBCFF"/>
<circle cx="58.99" cy="653.03" r="2.3" fill="#58A9FF"/>
<circle cx="88.63" cy="647.92" r="2.3" fill="#3F98FF"/>
<circle cx="99.87" cy="647.92" r="2.3" fill="#58A9FF"/>
<circle cx="39.58" cy="626.97" r="0.95" fill="#14335F" stroke="none"/>
<circle cx="43.97" cy="626.97" r="0.95" fill="#14335F" stroke="none"/>
<circle cx="48.26" cy="626.97" r="0.95" fill="#14335F" stroke="none"/>
<circle cx="48.77" cy="630.55" r="0.95" fill="#14335F" stroke="none"/>
<circle cx="41.62" cy="638.42" r="0.95" fill="#14335F" stroke="none"/>
<circle cx="54.19" cy="656.09" r="0.95" fill="#14335F" stroke="none"/>
<circle cx="88.63" cy="654.87" r="0.95" fill="#505050" stroke="none"/>
<circle cx="46.22" cy="606.53" r="0.95" fill="#14335F" stroke="none"/>
<circle cx="119.08" cy="645.87" r="1.85" fill="#E6E6E6"/>
<circle cx="122.66" cy="648.43" r="1.85" fill="#E6E6E6"/>
<circle cx="121.84" cy="653.54" r="2.3" fill="#3F98FF"/>
<circle cx="114.99" cy="652.21" r="0.95" fill="#14335F" stroke="none"/>
<circle cx="116.73" cy="649.45" r="0.95" fill="#505050" stroke="none"/>
<circle cx="136.15" cy="630.55" r="2.95" fill="#E6E6E6"/>
<circle cx="131.55" cy="630.04" r="1.85" fill="#E6E6E6"/>
<circle cx="131.04" cy="639.74" r="2.3" fill="#E6E6E6"/>
<circle cx="135.12" cy="640.97" r="2.3" fill="#58A9FF"/>
<circle cx="114.99" cy="640.77" r="2.3" fill="#E6E6E6"/>
<circle cx="112.64" cy="633.61" r="2.3" fill="#E6E6E6"/>
<circle cx="124.39" cy="615.73" r="2.3" fill="#E6E6E6"/>
<circle cx="119.28" cy="628.71" r="2.95" fill="#3F98FF"/>
<circle cx="109.07" cy="641.28" r="2.95" fill="#3F98FF"/>
<circle cx="112.95" cy="611.64" r="2.95" fill="#3F98FF"/>
<circle cx="118.06" cy="609.6" r="2.95" fill="#3F98FF"/>
<circle cx="132.36" cy="615.22" r="2.3" fill="#2B7EF5"/>
<circle cx="129.71" cy="621.35" r="2.3" fill="#3F98FF"/>
<circle cx="133.59" cy="646.39" r="2.3" fill="#3F98FF"/>
<circle cx="136.66" cy="648.63" r="2.3" fill="#3F98FF"/>
<circle cx="127.66" cy="648.43" r="2.3" fill="#58A9FF"/>
<circle cx="144.01" cy="645.67" r="2.3" fill="#E6E6E6"/>
<circle cx="150.14" cy="631.36" r="2.3" fill="#E6E6E6"/>
<circle cx="150.14" cy="629.52" r="2.3" fill="#7BBCFF"/>
<circle cx="154.85" cy="641.28" r="2.3" fill="#3F98FF"/>
<circle cx="154.54" cy="643.32" r="1.85" fill="#2B7EF5"/>
<circle cx="162" cy="645.67" r="2.3" fill="#2B7EF5"/>
<circle cx="157.6" cy="649.45" r="2.3" fill="#E6E6E6"/>
<circle cx="161.69" cy="623.39" r="2.3" fill="#2B7EF5"/>
<circle cx="168.33" cy="623.39" r="2.3" fill="#2B7EF5"/>
<circle cx="160.87" cy="630.04" r="2.3" fill="#E6E6E6"/>
<circle cx="164.76" cy="631.77" r="1.85" fill="#E6E6E6"/>
<circle cx="168.33" cy="631.77" r="1.85" fill="#E6E6E6"/>
<circle cx="172.63" cy="631.77" r="2.95" fill="#E6E6E6"/>
<circle cx="153.82" cy="610.62" r="2.3" fill="#3F98FF"/>
<circle cx="157.3" cy="609.6" r="2.3" fill="#58A9FF"/>
<circle cx="157.09" cy="615.22" r="2.3" fill="#58A9FF"/>
<circle cx="161.69" cy="615.22" r="2.3" fill="#E6E6E6"/>
<circle cx="171.4" cy="618.28" r="2.95" fill="#7BBCFF"/>
<circle cx="162.2" cy="605" r="2.3" fill="#58A9FF"/>
<circle cx="172.42" cy="606.53" r="2.3" fill="#3F98FF"/>
<circle cx="172.42" cy="637.7" r="2.3" fill="#58A9FF"/>
<circle cx="173.44" cy="642.3" r="2.95" fill="#3F98FF"/>
<circle cx="170.89" cy="643.83" r="2.3" fill="#3F98FF"/>
<circle cx="172.42" cy="649.45" r="2.3" fill="#58A9FF"/>
<circle cx="174.47" cy="652.52" r="2.3" fill="#E6E6E6"/>
<circle cx="172.22" cy="656.6" r="2.95" fill="#3F98FF"/>
<circle cx="141.56" cy="617.77" r="0.95" fill="#14335F" stroke="none"/>
<circle cx="149.94" cy="618.49" r="0.95" fill="#14335F" stroke="none"/>
<circle cx="149.43" cy="611.64" r="0.95" fill="#14335F" stroke="none"/>
<circle cx="154.54" cy="620.84" r="0.95" fill="#14335F" stroke="none"/>
<circle cx="138.5" cy="621.35" r="0.95" fill="#14335F" stroke="none"/>
<circle cx="141.25" cy="633.41" r="0.95" fill="#14335F" stroke="none"/>
<circle cx="147.9" cy="640.97" r="0.95" fill="#14335F" stroke="none"/>
<circle cx="150.14" cy="643.83" r="0.95" fill="#14335F" stroke="none"/>
<circle cx="153.01" cy="646.9" r="0.95" fill="#505050" stroke="none"/>
<circle cx="163.74" cy="641.28" r="0.95" fill="#14335F" stroke="none"/>
<circle cx="159.65" cy="640.97" r="0.95" fill="#505050" stroke="none"/>
<circle cx="166.29" cy="612.15" r="0.95" fill="#14335F" stroke="none"/>
<circle cx="170.38" cy="612.15" r="0.95" fill="#14335F" stroke="none"/>
<circle cx="167.82" cy="616.75" r="0.95" fill="#14335F" stroke="none"/>
<circle cx="134.41" cy="651.8" r="0.95" fill="#14335F" stroke="none"/>
<circle cx="167.82" cy="644.34" r="0.95" fill="#14335F" stroke="none"/>
<circle cx="137.17" cy="612.66" r="0.95" fill="#14335F" stroke="none"/>
<circle cx="135.63" cy="616.24" r="0.95" fill="#14335F" stroke="none"/>
<circle cx="136.66" cy="619.31" r="0.95" fill="#14335F" stroke="none"/>
<circle cx="135.63" cy="622.88" r="0.95" fill="#14335F" stroke="none"/>
<circle cx="137.68" cy="635.66" r="0.95" fill="#505050" stroke="none"/>
<circle cx="138.7" cy="640.77" r="0.95" fill="#14335F" stroke="none"/>
<circle cx="166.29" cy="635.66" r="0.95" fill="#505050" stroke="none"/>
<circle cx="167.31" cy="638.72" r="0.95" fill="#14335F" stroke="none"/>
<circle cx="165.27" cy="628.5" r="0.95" fill="#14335F" stroke="none"/>
<circle cx="159.14" cy="623.9" r="0.95" fill="#14335F" stroke="none"/>
<circle cx="181.93" cy="658.34" r="2.3" fill="#58A9FF"/>
<circle cx="194.39" cy="609.6" r="2.3" fill="#E6E6E6"/>
<circle cx="199.5" cy="612.66" r="2.95" fill="#E6E6E6"/>
<circle cx="198.69" cy="623.6" r="2.3" fill="#E6E6E6"/>
<circle cx="206.15" cy="622.37" r="2.95" fill="#A3D1FF"/>
<circle cx="202.06" cy="626.46" r="2.95" fill="#58A9FF"/>
<circle cx="200.01" cy="629.52" r="2.95" fill="#58A9FF"/>
<circle cx="201.55" cy="620.33" r="2.3" fill="#2B7EF5"/>
<circle cx="192.35" cy="632.08" r="2.95" fill="#58A9FF"/>
<circle cx="205.63" cy="608.58" r="2.3" fill="#2B7EF5"/>
<circle cx="201.55" cy="609.09" r="2.3" fill="#3F98FF"/>
<circle cx="193.58" cy="642.5" r="2.3" fill="#E6E6E6"/>
<circle cx="198.99" cy="642.5" r="2.3" fill="#E6E6E6"/>
<circle cx="207.17" cy="643.63" r="2.3" fill="#3F98FF"/>
<circle cx="192.86" cy="649.66" r="2.3" fill="#2B7EF5"/>
<circle cx="203.08" cy="636.68" r="0.95" fill="#14335F" stroke="none"/>
<circle cx="202.77" cy="643.83" r="0.95" fill="#14335F" stroke="none"/>
<circle cx="197.25" cy="650.98" r="0.95" fill="#14335F" stroke="none"/>
<circle cx="197.66" cy="639.74" r="0.95" fill="#14335F" stroke="none"/>
<circle cx="203.59" cy="639.74" r="0.95" fill="#505050" stroke="none"/>
<circle cx="222.49" cy="643.83" r="2.95" fill="#3F98FF"/>
<circle cx="227.09" cy="645.87" r="2.95" fill="#58A9FF"/>
<circle cx="224.03" cy="629.52" r="2.3" fill="#E6E6E6"/>
<circle cx="231.69" cy="630.55" r="2.3" fill="#E6E6E6"/>
<circle cx="236.29" cy="622.88" r="2.3" fill="#E6E6E6"/>
<circle cx="245.49" cy="630.55" r="2.3" fill="#E6E6E6"/>
<circle cx="245.49" cy="637.7" r="2.3" fill="#E6E6E6"/>
<circle cx="231.69" cy="650.47" r="0.95" fill="#505050" stroke="none"/>
<circle cx="191.33" cy="612.15" r="1.85" fill="#3F98FF"/>
<circle cx="192.35" cy="615.22" r="1.85" fill="#3F98FF"/>
<circle cx="190.82" cy="620.84" r="0.95" fill="#14335F" stroke="none"/>
<circle cx="189.28" cy="612.66" r="0.95" fill="#14335F" stroke="none"/>
<circle cx="221.98" cy="612.66" r="0.95" fill="#14335F" stroke="none"/>
<circle cx="223.01" cy="625.44" r="0.95" fill="#14335F" stroke="none"/>
<circle cx="285.04" cy="627.69" r="2.95" fill="#E6E6E6"/>
<circle cx="262.15" cy="632.28" r="2.3" fill="#E6E6E6"/>
<circle cx="270.01" cy="632.39" r="2.3" fill="#7BBCFF"/>
<circle cx="270.01" cy="629.01" r="2.3" fill="#E6E6E6"/>
<circle cx="254.99" cy="643.83" r="2.95" fill="#E6E6E6"/>
<circle cx="261.53" cy="645.67" r="2.3" fill="#E6E6E6"/>
<circle cx="260.31" cy="651.49" r="2.3" fill="#3F98FF"/>
<circle cx="254.38" cy="637.7" r="2.3" fill="#3F98FF"/>
<circle cx="258.26" cy="640.25" r="2.3" fill="#58A9FF"/>
<circle cx="291.98" cy="632.39" r="2.3" fill="#3F98FF"/>
<circle cx="298.63" cy="637.7" r="2.3" fill="#58A9FF"/>
<circle cx="298.12" cy="634.63" r="2.95" fill="#58A9FF"/>
<circle cx="310.89" cy="634.84" r="2.3" fill="#58A9FF"/>
<circle cx="314.67" cy="635.66" r="2.3" fill="#58A9FF"/>
<circle cx="301.69" cy="628.71" r="2.3" fill="#3F98FF"/>
<circle cx="285.04" cy="644.85" r="2.3" fill="#58A9FF"/>
<circle cx="281.77" cy="646.9" r="2.3" fill="#58A9FF"/>
<circle cx="285.04" cy="649.76" r="2.3" fill="#58A9FF"/>
<circle cx="290.96" cy="645.87" r="1.85" fill="#3F98FF"/>
<circle cx="294.03" cy="645.36" r="2.3" fill="#3F98FF"/>
<circle cx="297.6" cy="644.34" r="2.3" fill="#3F98FF"/>
<circle cx="301.18" cy="645.87" r="2.3" fill="#58A9FF"/>
<circle cx="315.49" cy="645.36" r="2.3" fill="#E6E6E6"/>
<circle cx="313.95" cy="645.36" r="2.3" fill="#58A9FF"/>
<circle cx="298.63" cy="619.31" r="2.95" fill="#3F98FF"/>
<circle cx="305.78" cy="618.28" r="2.95" fill="#2B7EF5"/>
<circle cx="305.27" cy="623.39" r="2.3" fill="#2B7EF5"/>
<circle cx="291.98" cy="621.35" r="2.3" fill="#3F98FF"/>
<circle cx="290.96" cy="615.73" r="2.3" fill="#2B7EF5"/>
<circle cx="280.74" cy="639.74" r="0.95" fill="#14335F" stroke="none"/>
<circle cx="271.04" cy="641.79" r="0.95" fill="#505050" stroke="none"/>
<circle cx="273.79" cy="644.04" r="0.95" fill="#14335F" stroke="none"/>
<circle cx="254.38" cy="651.49" r="0.95" fill="#14335F" stroke="none"/>
<circle cx="266.44" cy="638.72" r="0.95" fill="#14335F" stroke="none"/>
<circle cx="294.03" cy="655.07" r="0.95" fill="#505050" stroke="none"/>
<circle cx="303.74" cy="640.25" r="0.95" fill="#505050" stroke="none"/>
<circle cx="304.76" cy="646.69" r="0.95" fill="#505050" stroke="none"/>
<circle cx="307.52" cy="629.01" r="0.95" fill="#14335F" stroke="none"/>
<circle cx="313.44" cy="629.01" r="0.95" fill="#14335F" stroke="none"/>
<circle cx="311.91" cy="619.31" r="0.95" fill="#14335F" stroke="none"/>
<circle cx="269.5" cy="637.7" r="0.95" fill="#505050" stroke="none"/>
<circle cx="264.9" cy="629.52" r="0.95" fill="#505050" stroke="none"/>
<circle cx="319.94" cy="617.45" r="2.95" fill="#2B7EF5"/>
<circle cx="322.86" cy="619.93" r="2.3" fill="#3F98FF"/>
<circle cx="319.21" cy="625.77" r="2.3" fill="#58A9FF"/>
<circle cx="330.89" cy="616.72" r="2.3" fill="#E6E6E6"/>
<circle cx="332.64" cy="604.6" r="2.3" fill="#3F98FF"/>
<circle cx="322.86" cy="607.23" r="2.3" fill="#3F98FF"/>
<circle cx="327.24" cy="611.17" r="2.3" fill="#3F98FF"/>
<circle cx="334.54" cy="623.28" r="2.3" fill="#3F98FF"/>
<circle cx="324.32" cy="634.23" r="2.3" fill="#58A9FF"/>
<circle cx="328.7" cy="636.42" r="2.3" fill="#3F98FF"/>
<circle cx="316.29" cy="634.96" r="2.95" fill="#58A9FF"/>
<circle cx="311.18" cy="634.23" r="2.3" fill="#58A9FF"/>
<circle cx="331.62" cy="642.55" r="2.3" fill="#58A9FF"/>
<circle cx="312.64" cy="645.62" r="2.3" fill="#3F98FF"/>
<circle cx="320.38" cy="645.62" r="2.3" fill="#3F98FF"/>
<circle cx="316.29" cy="645.62" r="1.85" fill="#E6E6E6"/>
</g>
<rect x="112.6" y="643.3" width="14.1" height="14.2" fill="none" stroke="#E8202A" stroke-width="1.25"/>
<rect x="36.6" y="481" width="393.9" height="181" fill="none" stroke="#000" stroke-width="1.4"/>
<line x1="32.3" y1="643.3" x2="36.6" y2="643.3" stroke="#000" stroke-width="1.25"/>
<line x1="32.3" y1="611.9" x2="36.6" y2="611.9" stroke="#000" stroke-width="1.25"/>
<line x1="32.3" y1="580.5" x2="36.6" y2="580.5" stroke="#000" stroke-width="1.25"/>
<line x1="32.3" y1="549.1" x2="36.6" y2="549.1" stroke="#000" stroke-width="1.25"/>
<line x1="32.3" y1="517.7" x2="36.6" y2="517.7" stroke="#000" stroke-width="1.25"/>
<line x1="32.3" y1="486.3" x2="36.6" y2="486.3" stroke="#000" stroke-width="1.25"/>
<text x="27.8" y="646.25" font-size="8.3" text-anchor="end">15</text>
<text x="27.8" y="583.45" font-size="8.3" text-anchor="end">25</text>
<text x="27.8" y="520.65" font-size="8.3" text-anchor="end">35</text>
<line x1="36.6" y1="662" x2="36.6" y2="666" stroke="#000" stroke-width="1.25"/>
<line x1="66.37" y1="662" x2="66.37" y2="666" stroke="#000" stroke-width="1.25"/>
<line x1="96.14" y1="662" x2="96.14" y2="666" stroke="#000" stroke-width="1.25"/>
<line x1="125.91" y1="662" x2="125.91" y2="666" stroke="#000" stroke-width="1.25"/>
<line x1="155.68" y1="662" x2="155.68" y2="666" stroke="#000" stroke-width="1.25"/>
<line x1="185.45" y1="662" x2="185.45" y2="666" stroke="#000" stroke-width="1.25"/>
<line x1="215.22" y1="662" x2="215.22" y2="666" stroke="#000" stroke-width="1.25"/>
<line x1="244.99" y1="662" x2="244.99" y2="666" stroke="#000" stroke-width="1.25"/>
<line x1="274.76" y1="662" x2="274.76" y2="666" stroke="#000" stroke-width="1.25"/>
<line x1="304.53" y1="662" x2="304.53" y2="666" stroke="#000" stroke-width="1.25"/>
<line x1="334.3" y1="662" x2="334.3" y2="666" stroke="#000" stroke-width="1.25"/>
<line x1="364.07" y1="662" x2="364.07" y2="666" stroke="#000" stroke-width="1.25"/>
<line x1="393.84" y1="662" x2="393.84" y2="666" stroke="#000" stroke-width="1.25"/>
<line x1="423.61" y1="662" x2="423.61" y2="666" stroke="#000" stroke-width="1.25"/>
<text x="36.6" y="676.9" font-size="8.3" text-anchor="middle">0</text>
<text x="96.14" y="676.9" font-size="8.3" text-anchor="middle">200</text>
<text x="155.68" y="676.9" font-size="8.3" text-anchor="middle">400</text>
<text x="215.22" y="676.9" font-size="8.3" text-anchor="middle">600</text>
<text x="274.76" y="676.9" font-size="8.3" text-anchor="middle">800</text>
<text x="334.3" y="676.9" font-size="8.3" text-anchor="middle">1000</text>
<text x="393.84" y="676.9" font-size="8.3" text-anchor="middle">1200</text>
<text x="233.3" y="689.6" font-size="8.3" text-anchor="middle">Retention time (s)</text>
<text x="11.9" y="571.6" font-size="8.3" text-anchor="middle" transform="rotate(-90 11.9 571.6)">Drift time (ms)</text>
<text x="142.2" y="493" font-size="8.45">2,038 (73.0%) features have reduced candidates</text>
<text x="330" y="492.8" font-size="5.6" class="sm">Candidate reduction (%)</text>
<text x="394.7" y="492.8" font-size="5.6" class="sm">Abundance</text>
<rect x="349" y="498.1" width="8.5" height="7.2" fill="#2979FF"/>
<rect x="349" y="505.17" width="8.5" height="7.2" fill="#3D96FF"/>
<rect x="349" y="512.24" width="8.5" height="7.2" fill="#52A5FF"/>
<rect x="349" y="519.31" width="8.5" height="7.2" fill="#70B8FF"/>
<rect x="349" y="526.38" width="8.5" height="7.2" fill="#9CCEFF"/>
<rect x="349" y="533.45" width="8.5" height="7.2" fill="#E2E2E2"/>
<text x="359.7" y="503.6" font-size="5.5" class="sm">80-100</text>
<text x="359.7" y="510.8" font-size="5.5" class="sm">60-80</text>
<text x="359.7" y="518" font-size="5.5" class="sm">40-60</text>
<text x="359.7" y="525" font-size="5.5" class="sm">20-40</text>
<text x="359.7" y="532.2" font-size="5.5" class="sm">0-20</text>
<text x="359.7" y="538.6" font-size="5.5" class="sm">No change</text>
<circle cx="400.8" cy="500" r="0.8" fill="#222"/>
<circle cx="400.8" cy="508.9" r="1.8" fill="#fff" stroke="#000" stroke-width="0.6"/>
<circle cx="400.8" cy="517.7" r="2.45" fill="#fff" stroke="#000" stroke-width="0.6"/>
<circle cx="400.8" cy="526.6" r="3" fill="#fff" stroke="#000" stroke-width="0.6"/>
<circle cx="400.8" cy="535.4" r="3.5" fill="#fff" stroke="#000" stroke-width="0.6"/>
<text x="407.2" y="501.8" font-size="5.5" class="sm">≤10<tspan font-size="3.4" dy="-2">4</tspan></text>
<text x="407.9" y="510.8" font-size="5.5" class="sm">10<tspan font-size="3.4" dy="-2">4</tspan><tspan dy="2"> -10</tspan><tspan font-size="3.4" dy="-2">5</tspan></text>
<text x="407.9" y="519.6" font-size="5.5" class="sm">10<tspan font-size="3.4" dy="-2">5</tspan><tspan dy="2">-10</tspan><tspan font-size="3.4" dy="-2">6</tspan></text>
<text x="407.9" y="528.4" font-size="5.5" class="sm">10<tspan font-size="3.4" dy="-2">6</tspan><tspan dy="2">-10</tspan><tspan font-size="3.4" dy="-2">7</tspan></text>
<text x="407.9" y="537.3" font-size="5.5" class="sm">&gt;10<tspan font-size="3.4" dy="-2">7</tspan></text>
<text x="461.4" y="478.8" font-size="13.8" font-weight="bold">h</text>
<text x="565.4" y="483.5" font-size="8.3" text-anchor="middle">M137T285C127</text>
<polygon points="486.1,490.2 645,490.2 632.4,521.6 499,521.6" fill="#009FFF"/>
<polygon points="505.7,530.3 625.4,530.3 613.1,561.7 518.3,561.7" fill="#FF6347"/>
<polygon points="526.7,571.5 604.4,571.5 591.8,602.7 538.9,602.7" fill="#32CD32"/>
<polygon points="544.8,612.8 585.4,612.8 565,658.8" fill="#FFA500"/>
<text x="565.3" y="508.7" font-size="8.3" text-anchor="middle">9</text>
<text x="565.3" y="548.6" font-size="8.3" text-anchor="middle">6</text>
<text x="565.3" y="589.6" font-size="8.3" text-anchor="middle">5</text>
<text x="565.3" y="631.2" font-size="8.3" text-anchor="middle">2</text>
<text x="471" y="522" font-size="8.3"><tspan font-style="italic">m/z</tspan></text>
<text x="471" y="559.7" font-size="8.3"><tspan font-style="italic">m/z</tspan> + CCS</text>
<text x="471" y="602.7" font-size="8.3"><tspan font-style="italic">m/z</tspan> + MS/MS</text>
<text x="471" y="643.6" font-size="8.3"><tspan font-style="italic">m/z</tspan> + MS/MS + CCS</text>
<text x="616.5" y="570" font-size="8.3">1st rank</text>
<line x1="619.9" y1="590.4" x2="611.09" y2="595" stroke="#3a3a3a" stroke-width="0.8" stroke-linecap="round"/>
<line x1="619.28" y1="592.53" x2="612.17" y2="596.24" stroke="#3a3a3a" stroke-width="0.8" stroke-linecap="round"/>
<line x1="608.6" y1="598.92" x2="608.6" y2="609.4" stroke="#3a3a3a" stroke-width="0.8" stroke-linecap="round"/>
<line x1="608.6" y1="609.4" x2="617.1" y2="614.47" stroke="#3a3a3a" stroke-width="0.8" stroke-linecap="round"/>
<line x1="610.73" y1="608.81" x2="617.59" y2="612.9" stroke="#3a3a3a" stroke-width="0.8" stroke-linecap="round"/>
<line x1="621.9" y1="614.47" x2="630.4" y2="609.4" stroke="#3a3a3a" stroke-width="0.8" stroke-linecap="round"/>
<line x1="630.4" y1="609.4" x2="630.4" y2="596.3" stroke="#3a3a3a" stroke-width="0.8" stroke-linecap="round"/>
<line x1="632" y1="607.83" x2="632" y2="597.87" stroke="#3a3a3a" stroke-width="0.8" stroke-linecap="round"/>
<line x1="630.4" y1="596.3" x2="619.9" y2="590.4" stroke="#3a3a3a" stroke-width="0.8" stroke-linecap="round"/>
<line x1="630.4" y1="596.3" x2="640.48" y2="593.18" stroke="#3a3a3a" stroke-width="0.8" stroke-linecap="round"/>
<line x1="644.74" y1="594.73" x2="650.9" y2="603" stroke="#3a3a3a" stroke-width="0.8" stroke-linecap="round"/>
<line x1="643.93" y1="596.32" x2="648.83" y2="602.9" stroke="#3a3a3a" stroke-width="0.8" stroke-linecap="round"/>
<line x1="650.9" y1="603" x2="644.74" y2="611.27" stroke="#3a3a3a" stroke-width="0.8" stroke-linecap="round"/>
<line x1="640.48" y1="612.76" x2="630.4" y2="609.4" stroke="#3a3a3a" stroke-width="0.8" stroke-linecap="round"/>
<line x1="619.9" y1="590.4" x2="619.9" y2="580" stroke="#3a3a3a" stroke-width="0.8"/>
<text x="621.2" y="579" font-size="4.2" text-anchor="middle" fill="#F02A2A">OH</text>
<text x="608.4" y="598" font-size="4.3" text-anchor="middle" fill="#3050F8">N</text>
<text x="619.4" y="617.8" font-size="4.3" text-anchor="middle" fill="#3050F8">N</text>
<text x="643.2" y="594" font-size="4.3" text-anchor="middle" fill="#3050F8">N</text>
<text x="643.2" y="614.4" font-size="4.1" text-anchor="middle" fill="#3050F8">N</text>
<text x="643.2" y="617.8" font-size="4.1" text-anchor="middle" fill="#3050F8">H</text>
<text x="596.5" y="630.9" font-size="8.3">Hypoxanthine</text>
<text x="596.5" y="641.2" font-size="8.3">adduct: [M+H]<tspan font-size="5.6" dy="-3.4">+</tspan></text>
<text x="596.5" y="651" font-size="8.3"><tspan font-style="italic">m/z</tspan>: 137.0455</text>
<text x="596.5" y="661.1" font-size="8.3">CCS: 127.0 Å<tspan font-size="5.6" dy="-3.4">2</tspan></text>
</svg>
</body>
</html>
